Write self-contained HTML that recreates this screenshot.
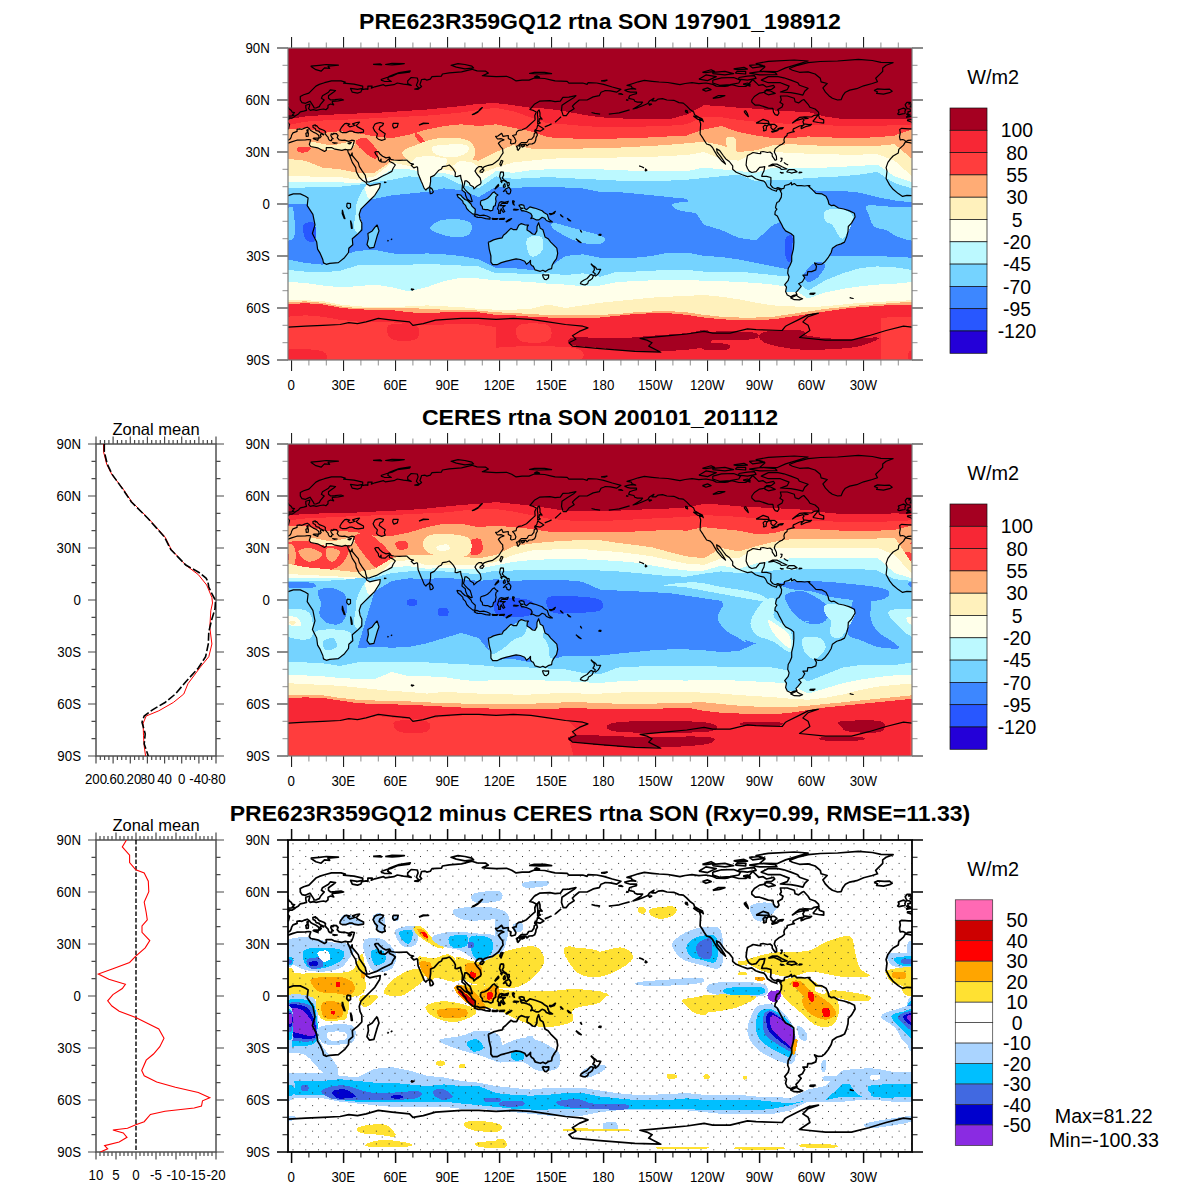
<!DOCTYPE html>
<html><head><meta charset="utf-8"><title>plot</title>
<style>html,body{margin:0;padding:0;background:#fff}svg{display:block}text{font-family:"Liberation Sans",sans-serif;fill:#000}</style></head><body>
<svg width="1200" height="1200" viewBox="0 0 1200 1200">
<rect width="1200" height="1200" fill="#fff"/>
<defs><pattern id="stip" x="292.5" y="843.3" width="12.75" height="12.75" patternUnits="userSpaceOnUse"><rect x="0" y="0" width="1.1" height="1.1" fill="#2e2e2e" shape-rendering="crispEdges"/><rect x="6.4" y="6.4" width="1.1" height="1.1" fill="#2e2e2e" shape-rendering="crispEdges"/></pattern></defs>
<clipPath id="clip0"><rect x="288" y="48" width="624" height="312"/></clipPath>
<g clip-path="url(#clip0)" shape-rendering="crispEdges">
<rect x="288" y="48" width="624" height="312" fill="#a50021"/>
<path d="M288,119.1L305.3,116.5L322.6,115.1L340,114.2L357.3,113.5L374.6,113L392,111.8L409.3,110.7L426.6,109.5L444,107.8L461.3,106.1L478.6,103.8L496,103.1L513.3,105.2L530.6,107.8L548,108.7L565.3,111.3L582.6,114.7L600,117.3L617.3,118.2L634.6,119.1L652,119.4L669.3,119.1L686.6,114.7L704,105.2L721.3,106.1L738.6,107.8L756,108.7L773.3,110.4L790.6,111.3L808,112.1L825.3,116.5L842.6,119.1L860,119.4L877.3,119.4L894.6,119.1L912,119.1L912,360L894.6,360L877.3,360L860,360L842.6,360L825.3,360L808,360L790.6,360L773.3,360L756,360L738.6,360L721.3,360L704,360L686.6,360L669.3,360L652,360L634.6,360L617.3,360L600,360L582.6,360L565.3,360L548,360L530.6,360L513.3,360L496,360L478.6,360L461.3,360L444,360L426.6,360L409.3,360L392,360L374.6,360L357.3,360L340,360L322.6,360L305.3,360L288,360Z" fill="#f72735"/>
<path d="M288,125.1L305.3,121.7L322.6,120.5L340,119.9L357.3,119.1L374.6,118.2L392,117.3L409.3,116.5L426.6,115.6L444,114.2L461.3,112.5L478.6,109.9L496,107.8L513.3,111.3L530.6,117.3L548,123.4L565.3,124.3L582.6,126L600,126.9L617.3,126.9L634.6,126.9L652,126.3L669.3,125.7L686.6,124.3L704,116.5L721.3,117.3L738.6,119.9L756,121.7L773.3,122.5L790.6,124.3L808,124.3L825.3,125.1L842.6,126L860,126.3L877.3,126L894.6,125.1L912,125.1L912,360L894.6,360L877.3,360L860,360L842.6,360L825.3,360L808,360L790.6,360L773.3,360L756,360L738.6,360L721.3,360L704,360L686.6,360L669.3,360L652,360L634.6,360L617.3,360L600,360L582.6,360L565.3,360L548,360L530.6,360L513.3,360L496,360L478.6,360L461.3,360L444,360L426.6,360L409.3,360L392,360L374.6,360L357.3,360L340,360L322.6,360L305.3,360L288,360Z" fill="#ff3d3d"/>
<path d="M496.1,290.7L880.9,290.7L880.9,360L496.1,360Z" fill="#f72735"/>
<path d="M288,301.1L305.3,299.7L322.6,301.1L340,304.2L357.3,305.9L374.6,306.3L392,306.6L409.3,308.9L426.6,309.7L444,308.9L461.3,308L478.6,308.9L496,311.5L513.3,311.8L530.6,313.2L548,314.1L565.3,314.1L582.6,314.1L600,314.1L617.3,312.3L634.6,310.6L652,309.7L669.3,309.7L686.6,311.5L704,314.1L721.3,315.8L738.6,316.7L756,316.7L773.3,315.8L790.6,313.2L808,310.6L825.3,308L842.6,305.4L860,303.7L877.3,302.5L894.6,301.4L912,301.1L912,316.7L894.6,317L877.3,318.1L860,319.3L842.6,321L825.3,323.6L808,326.2L790.6,328.8L773.3,331.4L756,332.3L738.6,332.3L721.3,331.4L704,329.7L686.6,327.1L669.3,325.3L652,325.3L634.6,326.2L617.3,327.9L600,329.7L582.6,329.7L565.3,329.7L548,329.7L530.6,328.8L513.3,327.4L496,327.1L478.6,324.5L461.3,323.6L444,324.5L426.6,325.3L409.3,324.5L392,322.2L374.6,321.9L357.3,321.5L340,319.8L322.6,316.7L305.3,315.3L288,316.7Z" fill="#f72735"/>
<path d="M388.5,325.3C392.5,323 411.6,323 416.2,325.3C420.8,327.6 420.3,336.9 416.2,339.2C412.2,341.5 396.6,341.5 392,339.2C387.3,336.9 384.4,327.6 388.5,325.3Z" fill="#f72735"/>
<path d="M288,349.6C293.7,347.9 316.8,349.3 322.6,351.3C328.4,353.4 328.4,360 322.6,361.7C316.8,363.5 293.7,363.8 288,361.7C282.2,359.7 282.2,351.3 288,349.6Z" fill="#f72735"/>
<path d="M912,349.6C917.7,347.9 940.8,349.3 946.6,351.3C952.4,353.4 952.4,360 946.6,361.7C940.8,363.5 917.7,363.8 912,361.7C906.2,359.7 906.2,351.3 912,349.6Z" fill="#f72735"/>
<path d="M518.7,325.3C523.3,322.7 543.2,322.7 548.1,325.3C553,327.9 552.8,338.3 548.1,340.9C543.5,343.5 525.3,343.5 520.4,340.9C515.5,338.3 514,327.9 518.7,325.3Z" fill="#ff3d3d"/>
<path d="M496.1,347.9C509.1,345.6 561.1,345.6 574.1,347.9C587.1,350.2 587.1,359.4 574.1,361.7C561.1,364 509.1,364 496.1,361.7C483.1,359.4 483.1,350.2 496.1,347.9Z" fill="#ff3d3d"/>
<path d="M568.8,342.7C568.8,341.4 565.9,338.2 574,337.5C582,336.7 604.3,338.6 617.3,338.3C630.3,338 640.4,336.6 652,335.7C663.5,334.9 677.4,334 686.6,333.1C695.9,332.3 704.1,328.4 707.6,330.5C711.1,332.7 715.1,342.7 707.6,346.1C700.1,349.6 674.5,350.5 662.4,351.3C650.2,352.2 645,351.9 634.6,351.3C624.2,350.8 610.1,348.9 600,347.9C589.8,346.9 579.2,346.1 574,345.3C568.8,344.4 568.8,344 568.8,342.7Z" fill="#a50021"/>
<path d="M700.7,332.3C709.3,331.1 743.9,331.1 752.5,332.3C761.1,333.4 761.1,338 752.5,339.2C743.9,340.4 709.3,340.4 700.7,339.2C692,338 692,333.4 700.7,332.3Z" fill="#a50021"/>
<path d="M704,342.7C708,341.8 724.5,343.2 728.2,344.4C732,345.6 730.5,348.7 726.5,349.6C722.4,350.5 707.7,350.8 704,349.6C700.2,348.4 699.9,343.5 704,342.7Z" fill="#a50021"/>
<path d="M762.9,332.3C769,330.2 793.5,330 801,330.5C808.5,331.1 801,334.3 808,335.7C814.9,337.2 831.1,338.9 842.6,339.2C854.2,339.5 872.7,336.9 877.3,337.5C881.9,338 875,340.9 870.4,342.7C865.7,344.4 861.1,346.7 849.6,347.9C838,349 815.2,350.5 801,349.6C786.9,348.7 771,345.6 764.6,342.7C758.3,339.8 756.8,334.3 762.9,332.3Z" fill="#a50021"/>
<path d="M288,129.5L305.3,127.7L322.6,132.9L340,131.2L357.3,132.9L374.6,136.4L392,138.1L409.3,134.7L426.6,129.5L444,126L461.3,124.3L478.6,126L496,124.3L513.3,127.7L530.6,131.2L548,137.3L565.3,138.1L582.6,139L600,139L617.3,138.5L634.6,138.1L652,137.3L669.3,136.4L686.6,135.5L704,129.5L721.3,126L738.6,132.1L756,135.5L773.3,138.1L790.6,138.1L808,136.4L825.3,137.3L842.6,137.8L860,137.8L877.3,137.3L894.6,135.5L912,129.5L912,304.5L894.6,304.9L877.3,305.9L860,307.1L842.6,308.9L825.3,311.5L808,314.1L790.6,316.7L773.3,319.3L756,320.1L738.6,320.1L721.3,319.3L704,317.5L686.6,314.9L669.3,313.2L652,313.2L634.6,314.1L617.3,315.8L600,317.5L582.6,317.5L565.3,317.5L548,317.5L530.6,316.7L513.3,315.3L496,314.9L478.6,312.3L461.3,311.5L444,312.3L426.6,313.2L409.3,312.3L392,310.1L374.6,309.7L357.3,309.4L340,307.7L322.6,304.5L305.3,303.1L288,304.5Z" fill="#ffac75"/>
<path d="M298.4,146.8C300.4,146.1 309,146.8 310.5,147.7C311.9,148.5 309,151.3 307,152C305,152.7 299.8,152.9 298.4,152C296.9,151.1 296.3,147.5 298.4,146.8Z" fill="#ff3d3d"/>
<path d="M355.6,141.6C356.1,139.6 362.2,136.4 366,138.1C369.7,139.9 376.6,148.5 378.1,152C379.5,155.5 377.2,159.2 374.6,158.9C372,158.6 365.7,153.2 362.5,150.3C359.3,147.4 355,143.6 355.6,141.6Z" fill="#ff3d3d"/>
<path d="M414.5,134.7C413.9,132.6 417.7,132.9 419.7,134.7C421.7,136.4 426,143 426.6,145.1C427.2,147.1 425.2,148.5 423.2,146.8C421.1,145.1 415.1,136.7 414.5,134.7Z" fill="#ff3d3d"/>
<path d="M288,158.9L305.3,160.7L322.6,167.6L340,169.3L357.3,172.8L374.6,172.8L392,160.7L409.3,158.9L426.6,152L444,158.9L461.3,158.9L478.6,160.7L496,152L513.3,145.1L530.6,148.5L548,148.5L565.3,148.5L582.6,148.5L600,148.2L617.3,147.7L634.6,146.8L652,145.9L669.3,144.7L686.6,143.3L704,141.6L721.3,145.1L738.6,152L756,150.3L773.3,145.1L790.6,144.2L808,145.1L825.3,145.9L842.6,146.3L860,146.3L877.3,145.9L894.6,144.2L912,158.9L912,301.9L894.6,302.8L877.3,304.2L860,305.4L842.6,307.1L825.3,308.9L808,311.5L790.6,314.1L773.3,316.7L756,317.5L738.6,317.5L721.3,316.7L704,314.9L686.6,312.3L669.3,311.1L652,311.5L634.6,312.3L617.3,314.1L600,314.9L582.6,314.9L565.3,314.9L548,314.9L530.6,314.1L513.3,312.9L496,312.3L478.6,310.6L461.3,309.7L444,309.7L426.6,308.9L409.3,308L392,308L374.6,308L357.3,308L340,306.3L322.6,302.8L305.3,301.4L288,301.9Z" fill="#fff1bc"/>
<path d="M310.5,141.6C313.7,141.3 324.4,145.1 331.3,145.1C338.2,145.1 348.6,141 352.1,141.6C355.6,142.2 355.6,147.1 352.1,148.5C348.6,150 337.9,150.6 331.3,150.3C324.6,150 315.7,148.2 312.2,146.8C308.8,145.4 307.3,141.9 310.5,141.6Z" fill="#fff1bc"/>
<path d="M402.4,152C403.7,149 412.8,146.4 418,144.2C423.2,142 427.5,140.1 433.6,139C439.6,137.9 448.3,137.3 454.4,137.7C460.4,138.1 466.5,139.2 470,141.6C473.4,144 475.2,148.5 475.2,152C475.2,155.5 473.4,160.2 470,162.4C466.5,164.6 462.2,164.6 454.4,165C446.6,165.4 430.5,165.4 423.2,165C415.8,164.6 413.6,164.6 410.2,162.4C406.7,160.2 401.1,155 402.4,152Z" fill="#fff1bc"/>
<path d="M726.5,138.1C727.6,136.1 733.7,135.8 735.2,138.1C736.6,140.4 736.3,150 735.2,152C734,154 729.7,152.6 728.2,150.3C726.8,148 725.3,140.2 726.5,138.1Z" fill="#fff1bc"/>
<path d="M288,176.3L305.3,176.3L322.6,177.1L340,177.1L357.3,179.7L374.6,176.3L392,162.4L409.3,165.9L426.6,169.3L444,169.3L461.3,172.8L478.6,174.5L496,167.6L513.3,162.4L530.6,160.7L548,158.9L565.3,158.1L582.6,158.1L600,158.1L617.3,157.5L634.6,157.2L652,156.9L669.3,155.8L686.6,155.1L704,152L721.3,158.9L738.6,160.7L756,152L773.3,152L790.6,152.9L808,153.7L825.3,154.1L842.6,154.6L860,154.6L877.3,154.1L894.6,160.7L912,176.3L912,300.2L894.6,301.1L877.3,301.9L860,302.8L842.6,304.5L825.3,306.3L808,307.1L790.6,306.3L773.3,305.4L756,302.8L738.6,299.3L721.3,296.7L704,295L686.6,295.9L669.3,296.7L652,297.6L634.6,299.3L617.3,301.1L600,302.8L582.6,305.4L565.3,308L548,304.5L530.6,308.9L513.3,309.7L496,309.7L478.6,308.9L461.3,307.1L444,306.3L426.6,305.4L409.3,306.3L392,307.1L374.6,307.1L357.3,306.3L340,304.5L322.6,301.1L305.3,300.2L288,300.2Z" fill="#ffffea"/>
<path d="M433.6,146.3C438.3,144.6 459.1,143.8 464.8,144.7C470.4,145.7 469.1,149.9 467.4,152C465.6,154.1 459.6,156.8 454.4,157.2C449.2,157.6 439.6,156.4 436.2,154.6C432.7,152.8 428.8,147.9 433.6,146.3Z" fill="#ffffea"/>
<path d="M288,182.3L305.3,181.5L322.6,182.3L340,182.3L357.3,183.2L374.6,179.7L392,169.3L409.3,169.3L426.6,172.8L444,172.8L461.3,178L478.6,183.2L496,171.1L513.3,172.8L530.6,170.2L548,169.3L565.3,169.3L582.6,169.3L600,169.3L617.3,170.2L634.6,170.7L652,171.1L669.3,171.4L686.6,171.1L704,167.6L721.3,169.3L738.6,171.1L756,172.8L773.3,167.6L790.6,167.6L808,167.6L825.3,167.6L842.6,166.7L860,165.9L877.3,164.5L894.6,176.3L912,182.3L912,282L894.6,283.7L877.3,284.6L860,286.3L842.6,288.9L825.3,292.4L808,298.5L790.6,287.2L773.3,284.6L756,282.9L738.6,282L721.3,281.1L704,280.6L686.6,280.3L669.3,280.3L652,280.3L634.6,281.1L617.3,282L600,285.5L582.6,286.3L565.3,284.6L548,283.7L530.6,282L513.3,281.1L496,280.3L478.6,278.5L461.3,277.7L444,281.1L426.6,287.2L409.3,291.5L392,287.2L374.6,284.6L357.3,286.3L340,287.2L322.6,285.5L305.3,282.9L288,282Z" fill="#bcf9ff"/>
<path d="M288,188.4L305.3,187.5L322.6,186.7L340,186.7L357.3,184.9L374.6,182.3L392,179.7L409.3,176.3L426.6,178L444,176.3L461.3,184.9L478.6,188.4L496,176.3L513.3,178.9L530.6,178L548,177.1L565.3,178L582.6,178.9L600,179.7L617.3,180.6L634.6,180.6L652,180.6L669.3,180.6L686.6,179.7L704,178L721.3,176.3L738.6,174.5L756,181.5L773.3,179.7L790.6,179.7L808,178L825.3,177.1L842.6,176.3L860,174.5L877.3,171.9L894.6,183.2L912,188.4L912,269.9L894.6,267.3L877.3,266.4L860,268.1L842.6,273.3L825.3,280.3L808,290.7L790.6,276.8L773.3,275.1L756,273.3L738.6,271.6L721.3,271.6L704,271.6L686.6,269.9L669.3,269.9L652,270.7L634.6,271.6L617.3,271.6L600,276.8L582.6,273.3L565.3,275.1L548,273.3L530.6,274.2L513.3,273.3L496,273.3L478.6,266.4L461.3,265.5L444,264.7L426.6,263.8L409.3,264.7L392,264.7L374.6,264.7L357.3,265.5L340,270.7L322.6,272.5L305.3,271.6L288,269.9Z" fill="#75d3ff"/>
<path d="M288,204L305.3,204L322.6,200.5L340,198.8L357.3,197.1L374.6,198.8L392,195.3L409.3,193.6L426.6,191.9L444,188.4L461.3,190.1L478.6,197.1L496,186.7L513.3,188.4L530.6,186.7L548,186.7L565.3,187.5L582.6,188.4L600,191.9L617.3,191.9L634.6,193.6L652,195.3L669.3,197.1L686.6,198.8L704,224.8L721.3,230L738.6,237.8L756,240.4L773.3,224.8L790.6,217.9L808,190.1L825.3,191L842.6,191L860,192.7L877.3,197.1L894.6,200.5L912,202.3L912,257.7L894.6,256.9L877.3,256L860,256L842.6,256L825.3,256L808,276.8L790.6,269.9L773.3,266.4L756,262.9L738.6,259.5L721.3,256.9L704,256L686.6,252.5L669.3,252.5L652,256L634.6,257.7L617.3,257.7L600,257.7L582.6,254.3L565.3,256L548,268.1L530.6,269.9L513.3,268.1L496,268.1L478.6,259.5L461.3,256L444,254.3L426.6,253.4L409.3,254.3L392,253.4L374.6,249.9L357.3,250.8L340,256L322.6,264.7L305.3,262.9L288,259.5Z" fill="#3d87ff"/>
<path d="M409.5,163.3L417.3,167.6L418.1,174.5L420.7,181.5L424.2,188.4L425.9,190L428.5,187.9L430.6,181.5L430.6,177.1L434.3,175.4L438.9,170.2L442.4,166.7L445.9,165.9L447.6,158.9L430.3,155.5L416.4,157.2Z" fill="#ffffea"/>
<path d="M452.8,165.9L459.7,174.5L462.3,186.7L464.9,180.6L470.1,184.9L473.6,188.4L477.1,185.8L480.5,183.2L479.7,177.1L475.3,171.1L478.8,166.7L471.9,162.4L459.7,160.7Z" fill="#ffffea"/>
<path d="M867.1,205.7C870.5,204.4 882.1,206.3 889.6,206.6C897.1,206.9 907.5,207 912.1,207.5C916.8,207.9 916.5,204 917.3,209.2C918.2,214.4 920.5,234 917.3,238.7C914.2,243.3 903.5,238.4 898.3,236.9C893.1,235.5 890.2,231.7 886.1,230C882.1,228.3 876.9,229.1 874,226.5C871.1,223.9 870,217.9 868.8,214.4C867.6,210.9 863.6,207 867.1,205.7Z" fill="#75d3ff"/>
<path d="M243.1,205.7C246.5,204.4 258.1,206.3 265.6,206.6C273.1,206.9 283.5,207 288.1,207.5C292.8,207.9 292.5,204 293.3,209.2C294.2,214.4 296.5,234 293.3,238.7C290.2,243.3 279.5,238.4 274.3,236.9C269.1,235.5 266.2,231.7 262.1,230C258.1,228.3 252.9,229.1 250,226.5C247.1,223.9 246,217.9 244.8,214.4C243.6,210.9 239.6,207 243.1,205.7Z" fill="#75d3ff"/>
<path d="M674.7,203.1C679.3,202.1 697.5,200.7 702.4,202.3C707.3,203.9 706.7,211.1 704.1,212.7C701.5,214.3 691.7,212.5 686.8,211.8C681.9,211.1 676.7,209.8 674.7,208.3C672.6,206.9 670,204.1 674.7,203.1Z" fill="#75d3ff"/>
<path d="M307.2,197.1L307.2,205.7L312.9,214.4L315,224.8L312.4,233.5L316.7,242.1L317.6,249.1L320.2,253.4L322.8,259.5L323.5,262.9L326.3,264.3L329.7,263.3L338.4,262.6L344.5,257.7L348.5,252.5L348.8,248.2L352.8,244.7L352.3,238.7L357.5,234.3L361.8,230L361.8,223.1L360.1,219.6L359.2,214.4L360.9,209.2L364.4,205.7L369.6,200.5L374.8,195.3L367.9,191.9L352.3,191.9L326.3,191.9L307.2,195.3Z" fill="#75d3ff"/>
<path d="M360.9,209.2C361.8,207.8 363,207.2 364.4,205.7C365.8,204.3 367.9,202.3 369.6,200.5C371.3,198.8 373.1,197.5 374.8,195.3C376.5,193.2 378.7,189.5 379.7,187.5C380.6,185.6 381.2,184 380.3,183.5C379.5,183.1 376.6,184.2 374.8,184.6C373,185 371,185.9 369.6,185.8C368.2,185.7 367.8,183.3 366.7,184.1C365.5,184.8 364.1,187.7 362.7,190.1C361.3,192.6 359.5,195.9 358.3,198.8C357.2,201.7 356.2,204.9 355.7,207.5C355.3,210.1 356,211.5 355.7,214.4C355.4,217.3 354,221.9 354,224.8C354,227.7 354.9,230.6 355.7,231.7C356.6,232.9 358.2,233.2 359.2,231.7C360.2,230.3 361.8,226 361.8,223.1C361.8,220.2 359.3,216.7 359.2,214.4C359.1,212.1 360.1,210.6 360.9,209.2Z" fill="#bcf9ff"/>
<path d="M367,184.9C368.6,184.4 372.6,185.1 374.8,184.9C377,184.8 379.3,183.6 380,184.1C380.7,184.5 380,185.7 379.1,187.5C378.3,189.4 376.4,193.5 374.8,195.3C373.2,197.2 371,199.1 369.6,198.8C368.2,198.5 366.9,195.3 366.1,193.6C365.4,191.9 365.1,189.8 365.3,188.4C365.4,187 365.4,185.5 367,184.9Z" fill="#ffffea"/>
<path d="M303.6,224.8C305,222.2 311.9,221.6 314,223.1C316,224.5 315.7,230.3 315.7,233.5C315.7,236.6 315.7,241.3 314,242.1C312.2,243 307,241.6 305.3,238.7C303.6,235.8 302.1,227.4 303.6,224.8Z" fill="#2857ff"/>
<path d="M377.1,224.8L379,230.9L377.4,235.2L373.9,247.3L369.6,248.2L367,244.7L368.4,238.7L367.9,233.5L372.2,230.9L374.8,227.4L377.1,224.8Z" fill="#75d3ff"/>
<path d="M430.1,228.3C430.4,226.1 435.3,221.9 440.5,220.5C445.7,219 456.1,218.9 461.3,219.6C466.5,220.3 470.5,222.2 471.7,224.8C472.8,227.4 471.4,233.2 468.2,235.2C465,237.2 457.5,237.2 452.6,236.9C447.7,236.6 442.5,234.9 438.8,233.5C435,232 429.8,230.4 430.1,228.3Z" fill="#75d3ff"/>
<path d="M488.3,242.1L489.2,249.1L490.9,256L490.9,262.1L492.7,264.7L497,264.7L501.3,262.6L506.5,261.2L511.7,259.8L516.1,258.8L520.4,259.5L524.7,261.2L526.5,264.3L529.1,262.1L530.5,260.5L530.5,263.8L531.7,265.5L533.4,266.4L535.1,269.9L540.3,271.3L542.9,270.2L545.5,271.6L548.1,269.7L551.6,268.7L552.1,265.5L553.9,262.1L556.5,258.6L557.7,253.4L556.8,248.2L553.3,244.7L550.7,242.1L548.1,238.7L545,236.9L543.8,232.6L542.9,229.7L540.3,228.3L538.6,222.7L537,226.5L536.9,230.9L535.1,234.3L532.5,234L529.9,231.7L527,230L527.3,226.5L528.5,225.1L524.7,224.8L521.3,223.6L518.7,225.3L516.6,229.7L513.5,229.7L510.9,228.3L508.3,230.9L505.7,233.5L503.4,235.2L502.2,237.8L497.9,238.7L493.5,239.9L490.1,241.6L488.3,242.1Z" fill="#75d3ff"/>
<path d="M527.2,238.7C529.2,235.8 538.4,235.2 541,236.9C543.6,238.7 543.6,245.9 542.8,249.1C541.9,252.2 538.1,255.1 535.8,256C533.5,256.9 530.3,257.2 528.9,254.3C527.4,251.4 525.1,241.6 527.2,238.7Z" fill="#bcf9ff"/>
<path d="M518.7,205.4L521.3,204.7L523.9,205.4L524.4,208.3L526.5,209.7L529.9,206.9L533.4,207.8L536,208.5L542.1,210.8L544.3,212.7L547.3,214.4L547.8,216.1L549,219.6L552.5,221.9L549.9,221.9L546.4,220.5L544.7,218.2L542.1,217.3L540.3,218.7L538.6,219.9L536,219.8L532.5,218L530.8,218.6L532.2,216.1L530.8,213.5L527,211.8L523,210.6L521.8,210.9L520.4,209L523,208.3L520.9,207.8L518.7,205.4Z" fill="#75d3ff"/>
<path d="M480.5,201.4L481.6,200.5L484.5,199.7L487.5,198.3L490.1,195.9L492.7,192.7L494.4,191.9L495.6,193.6L497.9,195L496.1,196.4L495.6,198.8L496.1,201.4L495.6,203.1L495.3,205.4L493.5,206.6L492.7,210.2L490.4,210.9L487.5,209.5L485.2,209.7L482.6,209L482.3,206.6L480.5,204.5L480.5,201.4Z" fill="#75d3ff"/>
<path d="M456.8,194.3L460.6,195L462,196.7L464.9,199.5L467.5,200.5L471,204L471.9,206.1L475.3,209.2L475,214.1L472.9,214.1L468.9,210.9L466.7,208.5L465.5,205.4L463.2,203.1L462.7,201.1L460.6,199.1L458,197.1L456.8,194.3Z" fill="#75d3ff"/>
<path d="M553.2,223.1C556.3,222.8 565.6,226 574,228.3C582.3,230.6 599.1,234.3 603.4,236.9C607.8,239.5 604,243 600,243.9C595.9,244.7 586.7,244.4 579.2,242.1C571.6,239.8 559.2,233.2 554.9,230C550.6,226.8 550,223.4 553.2,223.1Z" fill="#75d3ff"/>
<path d="M781.3,188.9L783.9,188.4L784.7,185.5L789.1,184.4L791.3,182.5L791.7,184.9L794.3,183.5L796.9,185.6L801.2,185.6L804.7,186L808.1,185.5L809.9,187.5L812.5,189.8L815.9,193.3L822,193.9L826,196.2L828.1,200.5L828.9,204L831.5,205.7L834.1,205.2L838.5,208L843.7,209L848.9,210.6L854.4,213.2L855.1,217L851.5,223.1L848.3,226.5L848,231.7L846.6,236.9L844.5,242.1L841.1,243.9L836.7,245.3L832.4,248.2L831.2,252.5L828.1,257.7L824.6,262.1L822,264.1L817.7,264.3L814.5,262.9L816.5,266.4L815.8,269.9L811.6,271.6L807.8,271.6L807.3,275.1L802.9,275.1L804.7,277.7L802.4,281.7L798.6,283.7L801.2,286.3L797.7,290.7L796,292.4L785.6,291.5L786.5,287.2L784.7,284.6L788.2,280.3L789.1,276.8L787.7,273.3L788.2,268.5L789.9,265.5L791.7,261.2L791.7,256L793.4,249.1L793.9,242.1L793.7,235.9L790.8,233.5L785.6,230.9L783.3,227.9L781.8,224.8L779,219.6L777.3,216.1L774.9,214.4L775.2,211.5L776.9,209.2L775.5,207.8L776.1,204.9L776.9,202.6L779,201.4L781.3,197.1L781.6,193.6L780.6,191.5Z" fill="#75d3ff"/>
<path d="M825.3,210.9C828.2,208.9 838,208 842.6,209.2C847.2,210.4 853,213 853,217.9C853,222.8 846.1,237.5 842.6,238.7C839.2,239.8 835.1,227.7 832.2,224.8C829.3,221.9 826.4,223.6 825.3,221.3C824.1,219 822.4,213 825.3,210.9Z" fill="#bcf9ff"/>
<path d="M785.4,238.7C786.6,235.5 791.5,233.2 792.4,236.9C793.2,240.7 791.8,258 790.6,261.2C789.5,264.4 786.3,259.8 785.4,256C784.6,252.2 784.3,241.8 785.4,238.7Z" fill="#2857ff"/>
<path d="M804.5,273.3C805.6,270.2 811.4,264.4 814.9,262.9C818.4,261.5 824.7,262.4 825.3,264.7C825.9,267 821.2,273.9 818.4,276.8C815.5,279.7 810.3,282.6 808,282C805.6,281.4 803.3,276.5 804.5,273.3Z" fill="#3d87ff"/>
</g>
<g clip-path="url(#clip0)" fill="none" stroke="#000" stroke-width="1.2" stroke-linejoin="round">
<path d="M281.4,141.9L288.1,143.2L291.6,141.9L296.8,140.2L305.5,139.9L308.9,139.5L310.7,139.9L309.3,144.5L310.7,146.5L317.6,147.8L324.5,151.5L326.3,150.3L326.3,147.7L331.5,147.5L334.9,149.2L341.9,150.3L345.3,149.4L347.6,149.9L348.1,152.2L349.7,155.5L352.3,162.4L355.7,167.6L356.3,171.6L359.2,177.1L362.7,180.6L366.1,182.5L366.7,184.1L369.6,185.8L374.8,184.6L380.3,183.5L379.7,187.5L374.8,195.3L369.6,200.5L364.4,205.7L360.9,209.2L359.2,214.4L360.1,219.6L361.8,223.1L361.8,230L357.5,234.3L352.3,238.7L352.8,244.7L348.8,248.2L348.5,252.5L344.5,257.7L338.4,262.6L329.7,263.3L326.3,264.3L323.5,262.9L322.8,259.5L320.2,253.4L317.6,249.1L316.7,242.1L312.4,233.5L315,224.8L312.9,214.4L307.2,205.7L308.1,197.9L305.5,196.2L300.3,193.9L293.3,193.9L288.1,195.7L282.9,195.3L278.6,196.4L274.3,193.6L269.1,189.3L265.6,184.9L262.1,178.5L263,171.1L262.1,167.6L263.9,162.4L266.5,158.9L269.1,156L274.3,152.9L274.8,149.4L279.5,145.1L281.4,141.9 M377.1,224.8L379,230.9L377.4,235.2L373.9,247.3L369.6,248.2L367,244.7L368.4,238.7L367.9,233.5L372.2,230.9L374.8,227.4L377.1,224.8 M281.9,141.6L280.5,140.2L278.8,139.5L276.2,139.9L275.5,136.9L276.3,132.9L275.7,129.5L277.7,128.3L284.7,128.8L288.5,128.8L289.5,124.3L287.3,122L283.5,120.8L283.6,119.8L288.8,119.6L288.5,117.9L291.9,118.2L294.4,116.8L295.9,115.4L298.5,113.9L300.3,111.8L303.7,111.1L306.5,110.4L305.8,107.6L305.8,105.2L309.8,104L309.5,106.1L308.6,108.7L310.3,110.4L313.3,109.7L316.2,110.4L320.2,109.5L323.7,109L325.9,109.7L328,107.8L328,105.2L330.6,104L333.7,104.9L332.3,102.6L332.3,101.4L338.4,100.9L343.6,100L341,99L334.9,99.7L330.6,100L328.5,98.3L328.5,95.7L334.1,91.7L335.5,90.5L330.3,89.9L328.5,92.2L322.5,95.7L321.4,98.3L324.2,100L320.5,104.3L319.3,106.6L316.4,107.8L314.1,108L313.6,106.6L311,102.6L310,101.2L308.1,102.1L305.5,103.3L302,102.6L300.3,100L300.3,96.5L303.7,94.8L308.9,93.1L312.4,89.6L315.9,86.1L319.3,84.4L324.5,82.7L331.5,80.9L336.7,80.9L341,80.9L345.3,82.1L343.6,83.2L348.8,83.7L354,84.1L362.7,86.1L362.7,88.4L357.5,89.4L350.5,88.4L352.3,92.2L357.5,93.1L360.9,92L361.8,89.6L366.1,88.9L367.9,89.4L367.9,86.1L372.2,86.1L371.3,88.2L374.8,86.8L383.5,84.7L385.2,85.8L393.9,84.7L397.3,83L403.4,84.1L407.7,84.7L411.2,85.3L407.7,83.5L407.7,80.9L411.2,77.5L417.3,78L418.1,80.9L416.4,85.3L419,88.2L414.7,89.1L418.1,89.3L421.6,86.5L419.9,84.7L421.6,79.5L425.1,79.2L426.8,80.1L430.3,79.2L432,76.6L441.5,76.1L442.4,74L449.3,72.8L461.5,71.9L471.9,69.3L477.1,70.9L485.7,71.2L488.3,73.1L482.3,75.7L487.5,76.1L496.1,76.6L506.5,76.3L511.7,78.3L516.1,80.9L522.1,80.1L529.1,80.1L534.3,78L544.7,78.5L551.6,80.1L555.1,80.9L567.2,81.3L568.9,83.2L582.8,83L587.1,84.4L588,82.7L596.7,83L603.6,84.4L612.3,87L620.9,89.3L616.6,92.2L610.5,90.8L605.3,90.5L603.6,91.3L601,92.2L599.3,95.7L593.2,96.9L587.1,100L579.3,100L575,103.5L572.4,106.1L574.1,108.7L568.9,112.1L566.3,115.6L563.2,115.6L561.5,110.4L562,105.2L567.2,101.7L574.1,97.4L575.9,95.7L568.9,97.1L562.9,97.4L560.3,101.2L555.1,101.7L549.9,100.7L539.5,101.2L534.3,104.3L529.9,109.5L533.4,110.4L536.3,112.1L534.8,115.6L535.1,119.9L530.8,123.7L526.5,127.7L522.1,129.8L518.7,130.3L516.6,132.1L516.1,134.7L512.6,135.5L514.3,137.3L515.9,140.7L515.2,143L511.7,144L510.5,143.3L511,139.9L508.3,138.5L508.3,135.5L503.1,136.4L501.7,133.3L497.9,136.1L495.6,136.4L497.5,139L501.3,138.7L503.9,139.9L500.5,141.3L498.4,143.3L500.8,146.8L502.7,148.9L502.7,150.6L503.1,152.9L501.3,155.5L498.7,159.8L495.3,162.4L492.7,164.3L488.3,165.3L484,166.9L482.6,168.8L481.7,166.7L478.8,166.6L476.5,168.5L475,171.1L477.1,174.5L480.2,178L481.1,182.3L480.5,184.1L477.1,186L473.9,188.9L473.3,186.7L470.1,184.9L469.3,182.9L466.5,180.8L464.9,180.8L464.4,184.1L463.5,187.5L465.5,190.1L467.5,192.2L470.1,194.5L471,197.1L472.2,201.4L471,201.7L467.2,199.1L465.6,195.3L465.3,192.7L462,190.1L462.3,186.7L462.5,183.2L460.9,178L460.6,175.4L457,176.6L455.1,176.3L455.4,172.8L453.7,169.7L451.1,166.7L449.3,165L445.9,166.2L442.4,166.7L441.5,169L438.9,170.2L434.3,175.4L430.6,177.1L430.6,181.5L429.9,186.1L428.5,187.9L427.1,188.6L425.9,190L424.2,188.4L422.5,184.1L421.3,181.5L419.9,178L418.1,173.7L417.8,170.2L417.6,167.6L416.9,166.7L413.8,167.9L411.2,165.3L413.5,164.1L410.3,163.3L407.7,161L406.9,160L399.1,160.3L393.9,160L390.7,159.3L389.7,157.2L386.1,157.9L382.6,156.2L379.7,153.7L378.3,151.7L376.2,151.5L374.8,152.3L376,154.6L378.3,157.7L378.6,159.8L380,161.4L381,159.1L381.2,161.9L385.2,162.1L389.2,158.6L389.5,161.5L393.2,163.1L395.3,165L393,168.5L391.8,171.4L387.5,173.7L382.1,176.3L376.5,179.4L369.6,181.8L367,182L365.8,178.3L365.3,175.4L362.3,171.1L359.4,166.7L358.3,162.7L356.1,160.1L352.3,155.5L352.1,152.9L350.9,155.8L349.8,154.9L348.1,152.2L347.6,149.9L350.9,149.7L352.1,147.7L353.1,145.2L354,141.9L354.3,140.6L351.6,140.2L348.8,141.4L344.6,140.2L342,140.4L339.1,139.9L337.2,137.6L338.1,135.5L337,134.5L336.7,133.6L333.2,133.3L332.9,134.7L331.3,133.8L330.8,135.5L332,137.8L333.2,138.7L331.5,139.3L331.6,140.7L330.3,140.7L329.2,140L328.3,138.5L328.2,137.4L326.8,135.9L325.2,133.8L325.4,131.5L323.7,130.3L319.3,128.6L317.9,127.2L316.7,125.7L315.2,125.8L315.3,124.8L312.9,125.5L313.1,127.4L315.2,128.6L316.2,130.7L319.3,131.4L319.3,132.2L323.7,134.3L323.5,135L321.1,133.8L320.2,135.2L321.2,136.4L320.2,137.6L318.8,138.1L319,136.4L318.1,134.7L315.9,133.3L313.3,132.1L310.7,130.5L309.3,128.6L307.2,127.2L304.6,128.1L302,129.3L299.7,128.8L297,129.3L297.1,131.4L293,132.9L291.6,135.2L291.3,136.7L290.4,138.7L288.1,140.2L283.8,140.4L281.9,141.6 M341.9,132.6L346.2,132.6L349.3,131.2L352.3,131.2L354.9,132.4L358.3,132.9L363.5,132.1L363.5,130L360.4,128.4L357.5,126.9L356.3,125.5L358,123.9L359.5,122.2L356.6,122.5L352.6,123.9L354.9,125.3L353.1,126L349.8,126.9L347.9,125.3L349.8,124.1L346.7,123.4L344.8,123.7L343.1,125.5L341.3,127.7L340,130L340.1,131.4L341.9,132.6 M0.4,90.3L3.9,89.3L7.3,88.7L11.7,89.1L8.2,87.9L7.3,86.1L3,85.4L9.1,83.5L14.3,81.8L20.3,80.4L28.1,81.3L35.1,82L43.7,82.5L48.9,83.4L55.9,84.6L61.1,83.5L68,82.7L74.9,83.7L81.9,83L88.8,84.4L92.3,86.1L100.9,86.3L104.4,85.8L107.9,84.7L114.8,86.5L121.7,86.5L123.5,85.3L126.1,86.1L125.2,83.5L128.7,79.5L132.1,82.7L134.7,85.3L139.1,84.7L142.5,87L149.5,85.3L150.7,87L147.7,89.3L142.5,89.6L140.8,92.2L135.6,93.1L130.4,96.5L127.8,100L127.8,102.1L131.3,105.2L135.6,105.2L144.3,108.1L148.9,108.3L149.5,112.1L151.2,114.7L153.5,115.3L155,113L153.8,109.5L158.1,106.9L159,104.3L155.9,102.3L157.3,100L156.4,96L163.3,96L170.3,98.3L171.1,101.7L174.6,102.9L178.1,100.3L179.8,99.5L184.1,104.3L185.9,107.3L191.1,109L194.5,112.1L194.9,114.7L190.2,115.3L187.6,117L180.7,116.8L175.8,117.3L171.1,120.8L168.5,122.9L172.9,120.3L178.9,118.7L180.1,119.9L178.9,121.7L179.8,123.9L185,124.6L187.6,124.3L185.9,125.7L181.5,126.7L177.2,128.6L177.2,126.9L179.8,125.1L175.5,126L172,127.7L169.4,128.9L168.9,130.3L170.3,131.7L167.7,132.2L163.3,133.5L163,135.5L160.7,137.3L159.9,139.9L160.4,142.3L158.1,144.2L155.5,145.4L151.2,148.9L150.3,152L152.4,156.3L152.6,159.8L151.2,160.3L148.3,156.2L148.1,153.7L146,152L143.4,152.5L139.1,151.5L136.5,152L136.8,153.7L133.9,153.4L129,152.5L126.9,153.7L123.5,155.5L122.6,159.8L122.1,165L123.5,168.5L125.2,171.1L127.8,172.5L132.1,171.6L134.7,168.5L135.6,167.3L140.8,166.7L139.9,171.1L138.5,173.7L137.7,176.3L142.5,176.4L146.9,177.5L146.9,182.3L146.5,184.9L148.6,187.5L151.2,188.7L153.8,187.5L157.3,188.9L156.6,191.5L155.5,189.3L153.3,188.9L152.4,191.3L148.1,189.8L146.5,188.7L143.4,186.7L141.7,183.2L139.9,181.1L135.6,180.1L131.6,178.7L127.8,175.9L123.5,176.6L118.3,174.7L112.2,172.3L108.7,169.3L108.7,165.9L105.3,161.5L101.8,158.9L99.2,155.5L95.7,150.6L92.6,148.9L93.1,152L96.6,156.3L100.1,161.5L101.5,164.1L97.5,160.7L93.1,155.5L90.5,151.1L88.5,147.5L86.2,145.1L82.6,144L80.1,140.2L78.4,137.3L76.1,134L76.3,129.5L76.7,123.9L75.5,120.1L78.4,120.5L79.3,121.7L78.4,119.1L74.9,117.3L70.6,114.7L69.7,112.1L65.7,109.2L62.8,106.1L59.3,103.1L55,102.6L49.8,100.3L42.9,100L38.5,98.6L34.2,99.1L31.6,100.9L28.1,100.9L29.9,98.3L25.5,100.9L23.8,103.5L18.6,105.7L13.4,107.8L9.1,109L12.5,106.9L16.9,104.3L18.6,102.1L13.4,102.1L10.8,101.2L9.9,99.5L4.7,98.3L5.6,95.7L9.1,94.5L12.5,93.6L12.5,92L6.5,92.2L3,91.3L0.4,90.3 M157.3,188.9L159.9,188.4L160.7,185.5L165.1,184.4L167.3,182.5L167.7,184.9L170.3,183.5L172.9,185.6L177.2,185.6L180.7,186L184.1,185.5L185.9,187.5L188.5,189.8L191.9,193.3L198,193.9L202,196.2L204.1,200.5L204.9,204L207.5,205.7L210.1,205.2L214.5,208L219.7,209L224.9,210.6L230.4,213.2L231.1,217L227.5,223.1L224.3,226.5L224,231.7L222.6,236.9L220.5,242.1L217.1,243.9L212.7,245.3L208.4,248.2L207.2,252.5L204.1,257.7L200.6,262.1L198,264.1L193.7,264.3L190.5,262.9L192.5,266.4L191.8,269.9L187.6,271.6L183.8,271.6L183.3,275.1L178.9,275.1L180.7,277.7L178.4,281.7L174.6,283.7L177.2,286.3L173.7,290.7L172,292.4L173,294.7L169.4,295.3L166.8,296.7L163.3,295L161.6,291.5L162.5,287.2L160.7,284.6L164.2,280.3L165.1,276.8L163.7,273.3L164.2,268.5L165.9,265.5L167.7,261.2L167.7,256L169.4,249.1L169.9,242.1L169.7,235.9L166.8,233.5L161.6,230.9L159.3,227.9L157.8,224.8L155,219.6L153.3,216.1L150.9,214.4L151.2,211.5L152.9,209.2L151.5,207.8L152.1,204.9L152.9,202.6L155,201.4L157.3,197.1L157.6,193.6L156.6,191.5 M172.7,295.2L169.4,296.7L166.8,297.9L170.3,299.7L175.5,299.9L178.6,298.8L175.5,297.6L173.2,295.9L172.7,295.2 M185.9,293.3L191.1,293.1L189.3,294.5L185.9,294.1L185.9,293.3 M225.7,297.6L229.2,298.5L227.5,298.1L225.7,297.6 M165.1,68.5L173.7,65.3L184.1,62.7L196.3,61.5L213.6,61L234.4,59.3L248.3,60.5L256.9,62.4L269.1,62.7L262.1,65.3L258.7,67.9L258.7,71.4L255.2,74.9L251.7,78.3L253.5,81.8L248.3,83.5L239.6,85.8L232.7,88.7L225.7,90.1L221.4,92.2L218.8,95.7L217.1,99.7L213.6,100L208.4,98.3L204.9,95.7L201.5,92.2L198.9,87.9L203.2,83.5L197.1,81.8L196.3,78.3L191.1,74L184.1,71.9L175.5,72.3L168.5,70.2L165.1,68.5 M250,90.5L253.5,88.9L260.4,89.3L265.6,89.1L268.2,91.3L265.6,92.7L259.5,94.1L252.6,93.4L253.5,91.7L250,90.5 M282.1,117.3L286.4,116.3L291.6,115.9L294,115.3L292.5,114.7L294.5,112.7L292.1,112.1L291.3,110.4L289,108.7L288.1,106.9L286.1,106.9L288.1,104L284.7,104L286.4,102.4L282.9,102.4L281.2,104.7L282.1,106.9L283.3,108.7L286.1,109L286.4,111.4L283.8,111.8L284.3,113.3L282.6,114.2L286.1,114.9L283.8,115.6L282.1,117.3 M281.2,113.5L280.9,111.3L281.9,109.4L279.5,108.1L276.9,109L274.3,110.1L275.1,112.1L273.7,113.9L275.1,114.7L278.6,113.9L281.2,113.5 M488.3,242.1L489.2,249.1L490.9,256L490.9,262.1L492.7,264.7L497,264.7L501.3,262.6L506.5,261.2L511.7,259.8L516.1,258.8L520.4,259.5L524.7,261.2L526.5,264.3L529.1,262.1L530.5,260.5L530.5,263.8L531.7,265.5L533.4,266.4L535.1,269.9L540.3,271.3L542.9,270.2L545.5,271.6L548.1,269.7L551.6,268.7L552.1,265.5L553.9,262.1L556.5,258.6L557.7,253.4L556.8,248.2L553.3,244.7L550.7,242.1L548.1,238.7L545,236.9L543.8,232.6L542.9,229.7L540.3,228.3L538.6,222.7L537,226.5L536.9,230.9L535.1,234.3L532.5,234L529.9,231.7L527,230L527.3,226.5L528.5,225.1L524.7,224.8L521.3,223.6L518.7,225.3L516.6,229.7L513.5,229.7L510.9,228.3L508.3,230.9L505.7,233.5L503.4,235.2L502.2,237.8L497.9,238.7L493.5,239.9L490.1,241.6L488.3,242.1 M542.4,274.5L545.5,275.2L548.7,274.9L548.5,277.7L546.4,279.6L544.7,279.4L543.3,277.3L542.4,274.5 M590.9,263.6L593.7,266.1L595.8,267.6L596.7,269.2L600.7,269.3L599.3,272.1L598.2,273.9L595.5,276.1L594.6,275.6L595.3,273.7L592.9,272.1L594.4,269.9L594.1,267.3L591.8,265L590.9,263.6 M590.9,274.4L593.5,275.6L592.3,278.5L590.6,279.9L588.5,281L587.7,283.6L585.4,284.8L583.3,284.6L580.4,283.7L581.1,282L583.7,280.3L587.1,278.5L588.9,276.5L590.9,274.4 M518.7,205.4L521.3,204.7L523.9,205.4L524.4,208.3L526.5,209.7L529.9,206.9L533.4,207.8L536,208.5L542.1,210.8L544.3,212.7L547.3,214.4L547.8,216.1L549,219.6L552.5,221.9L549.9,221.9L546.4,220.5L544.7,218.2L542.1,217.3L540.3,218.7L538.6,219.9L536,219.8L532.5,218L530.8,218.6L532.2,216.1L530.8,213.5L527,211.8L523,210.6L521.8,210.9L520.4,209L523,208.3L520.9,207.8L518.7,205.4 M549,213.5L552.5,213.5L555.4,211.3L554.2,213.5L550.7,214.7L549,213.5 M560.3,214.4L562.9,217L561.1,215.8L560.3,214.4 M567.2,218.2L570.7,221L568.9,220.5L567.2,218.2 M580.4,230L581.6,232.1L580.7,231L580.4,230 M575.9,238.7L579.3,241.3L581.1,242.7L578.5,241.4L575.9,238.7 M598.9,234.3L601,234.3L600.7,235.5L598.9,235.2L598.9,234.3 M480.5,201.4L481.6,200.5L484.5,199.7L487.5,198.3L490.1,195.9L492.7,192.7L494.4,191.9L495.6,193.6L497.9,195L496.1,196.4L495.6,198.8L496.1,201.4L495.6,203.1L495.3,205.4L493.5,206.6L492.7,210.2L490.4,210.9L487.5,209.5L485.2,209.7L482.6,209L482.3,206.6L480.5,204.5L480.5,201.4 M456.8,194.3L460.6,195L462,196.7L464.9,199.5L467.5,200.5L471,204L471.9,206.1L475.3,209.2L475,214.1L472.9,214.1L468.9,210.9L466.7,208.5L465.5,205.4L463.2,203.1L462.7,201.1L460.6,199.1L458,197.1L456.8,194.3 M473.9,215.8L476.7,214.4L479.7,215.6L483.7,215.1L486.9,216L490.1,217.5L489.9,219.1L485.7,218.6L481.4,217.5L477.9,217.3L476,216.8L473.9,215.8 M491.8,218.4L494.4,218.6L497.9,218.7L497,219.4L492.7,219.4L491.8,218.4 M499.3,218.7L504.5,218.4L503.9,219.3L499.6,219.4L499.3,218.7 M505.7,221.9L508.3,219.9L511.7,218.6L510,220.1L506.5,221.9L505.7,221.9 M499.3,202.6L501,201.7L504.8,202.4L508.3,201.2L507.4,203.3L502.2,203.1L499.9,205.6L502.4,205.6L505.3,205.6L502.7,207.3L503.6,209.7L504.8,211.5L503.4,212.3L502.2,210.9L501.2,208.7L500.3,210.9L500.3,213.5L498.7,213.5L498.7,210.1L497.5,208.9L499.3,202.6 M512.6,200.5L514.3,201.4L513.5,203.1L514.3,205.2L513.1,204L512.6,202.3L512.6,200.5 M513.5,209.2L518.3,209.7L516.1,210.1L513.5,209.9L513.5,209.2 M500.6,171.9L503.4,172.1L503.6,175.4L502.2,178L503.9,179.7L506.5,181.5L506.5,182.2L503.9,180.6L501.3,180.3L500.6,178.9L499.6,176.6L500.1,174L500.6,171.9 M503.1,191.9L505.7,189.1L509,187.2L510.9,190.1L510.3,193.1L509.1,194.1L506.9,193.1L506.5,191L503.9,191L503.1,191.9 M503.1,185.8L504.8,183.7L505.3,186.7L503.9,187.5L503.1,185.8 M507.1,182.3L509.1,182.7L509.3,184.9L507.9,186.3L507.2,184.4L507.1,182.3 M494.7,189.4L498.7,185.8L498.4,184.4L496.1,187L494.7,189.4 M500.5,180.8L502,181.1L501.7,182.7L500.5,180.8 M501.3,160.3L502.9,161L501,165.9L499.8,164.1L501.3,160.3 M480,170.7L482.3,169.3L484,170L482.3,172.3L480,171.8L480,170.7 M430.1,187.2L432.3,189.3L433.4,191.9L432,193.4L430.3,193.6L429.7,190.1L430.1,187.2 M518.5,145.1L521.3,142.6L527,142.3L528.7,139.5L531.7,139.2L533.9,136.4L534.3,133.6L536.5,132.2L537.4,135L536,137.6L535.7,140.2L534.6,142.8L532.2,143.9L529.1,144L527,145.9L525.8,144.2L522.1,144.5L518.7,145.2L518.5,145.1 M516.9,145.9L519.9,145.6L520.1,147.7L518.1,150.3L517.3,149.6L517.3,147.5L516.4,146.8L516.9,145.9 M521.3,145.2L524.7,144.7L524.2,146.1L522.1,147.1L521.3,145.2 M534.8,132.1L536.3,130.3L540,131.2L543.8,128.9L542.1,127.7L537.7,125.1L537,127.7L536.5,129.1L534.8,130.3L534.8,132.1 M537.7,124.3L540.3,122.9L538.9,121.7L539.5,118.7L542.1,119.1L540,116.5L540,113L539.1,109.9L537.7,111.3L537.4,114.7L537.9,118.2L537.7,121.1L537.7,124.3 M544.7,126.9L549,125.1L551.6,123.9 M555.1,122.2L558.5,119.1L561.1,116.8 M380.9,80.1L384.3,81.3L391.3,81.5L387.8,79.2L388.7,76.6L393,74.9L399.1,72.6L410.3,70.9L409.5,72.1L397.3,73.7L392.1,76.1L386.9,77.5L381.7,79.2L380.9,80.1 M310.7,66.2L315.9,69.7L321.1,71.2L324.5,67.9L329.7,68.3L328,66.2L338.4,65.2L326.3,64.5L319.3,65.3L310.7,66.2 M373.1,64.3L381.7,64.8L380,63.8L373.1,64.3 M385.2,64.5L392.1,65L399.1,64.3L404.3,63.6L392.1,63.3L385.2,64.5 M456.3,67.1L464.9,68.8L473.6,67.9L471.9,66.2L464.9,64.5L458,63.6L451.1,65.3L456.3,67.1 M529.1,73.5L539.5,74L551.6,73.7L544.7,72.3L534.3,72.3L529.1,73.5 M534.3,76.8L539.5,77.1L536.9,75.9L534.3,76.8 M601,80.9L607.1,80.1L604.5,81.1L601,80.9 M313.3,138.1L318.5,137.8L317.8,140.4L313.3,138.8L313.3,138.1 M305.8,132.9L308.4,132.9L308.2,136.1L306.3,136.4L305.8,132.9 M306.5,130.3L308.1,129.5L307.9,132.1L306.5,130.3 M332.3,142.5L337.2,143L334.1,143.3L332.3,142.5 M347.6,143.3L351.4,142.3L350,143.9L347.6,143.3 M144.3,166.2L148.6,164.1L152.9,164.1L158.1,166.7L163,169L157.3,169.5L156.4,168.1L152.1,166.2L149.5,165.3L146,165.9L144.3,166.2 M162.6,171.9L165.1,169.5L170.3,169.7L173,171.8L170.3,172.3L167.7,173.1L165.9,172.5L162.6,171.9 M155.9,172.3L159.3,172.8L157.3,173.1L155.9,172.3 M175.1,172.1L177.9,172.3L175.1,172.8L175.1,172.1 M156.4,158.1L158.1,158.4L157.6,160.7L156.4,161.9 M159.9,162.4L161.6,163.8L164.2,165 M184.5,185.5L185.9,185.5L185.5,186.5L184.5,185.5 M188.8,121.5L194.5,114.7L195.4,118.2L199.7,119.9L199.7,123.1L194.5,122.5L188.8,121.5 M69.2,116.1L74.9,117.3L77.5,120.1L74.1,119.4L69.2,116.1 M61.1,110.4L63.1,110.7L63.7,113L61.9,112.1L61.1,110.4 M24.7,103.8L27.6,104.2L25.5,105.2L24.7,103.8 M5.6,109.9L0.4,111.3L-4.8,112.8L-10,113.5L-15.2,114.2 M600.1,114.2L594.9,113.3L591.5,112.5 M-5.7,93.9L-1.3,94.5L-3.1,93.6L-5.7,93.9 M2.1,99.7L4.2,100L3,100.3L2.1,99.7 M152.9,76.3L159.9,77.8L166.8,80.1L173.7,82.7L175.5,85.3L184.1,88.2L180.7,91.3L178.9,95.1L173.7,93.9L166.8,92.7L156.4,92L163.3,89.6L165.1,86.1L156.4,82.7L144.3,82.7L137.3,80.1L144.3,76.6L152.9,76.3 M88.8,80.1L97.5,77.8L109.6,77.5L116.5,80.1L114.8,83L106.1,84.6L95.7,85.3L88.8,83L88.8,80.1 M74.9,79.2L81.9,74.9L92.3,76.6L83.6,80.6L74.9,79.2 M135.6,71.4L152.9,71.7L161.6,67.9L184.1,61L170.3,60L144.3,61.3L132.1,63.6L140.8,67.1L135.6,71.4 M125.2,73.1L135.6,74.9L152.9,74.5L151.2,72.6L137.3,71.4L125.2,73.1 M88.8,73.7L100.9,74.9L109.6,73.7L100.9,71.4L88.8,72.3L88.8,73.7 M111.3,73.1L121.7,74L121.7,71.4L113.1,71.4L111.3,73.1 M140.8,90.5L146,90.8L151.2,93.4L144.3,94.8L140.8,93.1L140.8,90.5 M114.8,77.5L123.5,76.1L130.4,75.7L132.1,78.3L123.5,80.1L114.8,79.2L114.8,77.5 M119.1,84.1L123.5,83L126.1,84.4L121.7,84.9L119.1,84.1 M125.2,65.3L135.6,64.5L140.8,66.2L128.7,67.9L125.2,65.3 M78.4,72.3L87.1,69.7L90.5,71.4L81.9,72.6L78.4,72.3 M109.6,68.8L120,67.4L123.5,69.1L113.1,69.7L109.6,68.8 M179.8,117.5L184.1,118.5L181.5,118.7L179.8,117.5 M376.5,123.4L380,122.5L383.5,123.4L382.6,125.5L380,126.9L379.1,129.5L382.6,132.1L385.2,133.8L384.3,136.4L385.2,139.3L381.7,140.4L378.3,139.2L376.5,137.3L377.4,133.8L374.8,131.2L373.1,127.7L374.8,124.3L376.5,123.4 M393,123.4L398.2,123.4L397.3,126.9L393.9,128.1L392.7,126L393,123.4 M419,125.1L423.3,123.1L428.5,123.4L423.3,123.7L419,125.1 M471.9,114.7L475.3,113L479.7,110.4L482.3,107.5L480.5,108.7L477.9,112.1L473.6,114.4L471.9,114.7 M347.1,203.1L350.5,203.7L350.5,207.5L348.5,208.7L346.7,206.6L347.1,203.1 M342.4,209.9L343.3,213.5L345,218.7L344.1,218.4L342.2,213.5L342.4,209.9 M350.5,220.5L351.7,223.9L352.3,228.3L351.4,228.3L350.9,223.9L350.5,220.5 M132.1,123.1L136.5,120.8L139.1,119.4L144.3,121.1L145.1,123.4L140.8,123.4L135.6,123.2L132.1,123.1 M139.4,131.2L142,130.3L142.5,126.9L144.3,124.6L146,124.3L150.3,124.3L152.9,126.3L150.3,129.1L148.6,129.5L146.9,127.7L147.2,125.5L144.6,124.6L143.1,126L140.8,125.1L139.1,126.9L139.9,129.5L139.4,131.2 M147.2,131.5L151.2,130.3L154.7,129.8L152.9,130.9L148.6,132.1L147.2,131.5 M153.5,128.9L158.1,128.9L159.3,127.7L156.4,127.9L153.5,128.9 M120,111.3L121.7,113.9L124.3,116.5L123.5,113.9L121.7,110.7L120,111.3 M78.4,89.6L83.6,87.9L87.1,89.6L81.9,91.3L78.4,89.6 M88.8,98.3L94,95.7L100.9,95.7L95.7,97.4L88.8,98.3 M21.2,171.1L22.9,170.2L21.5,169L21.2,171.1 M20,167.9L17.7,166.7L15.1,165.9 M410.9,288.9L413.8,289.3L412.1,290.1L410.9,288.9 M387.5,240.4L388.3,240.7L387.8,240.9L387.5,240.4 M391.1,239L391.8,239.2L391.3,239.5L391.1,239 M384,182.2L386.1,182.3L384.9,182.7L384,182.2 M288.1,327.1L305.5,326.2L322.8,325.3L340.1,324.5L348.8,322.7L357.5,323.6L366.1,321.9L378.3,318.4L392.1,320.1L409.5,321.9L412.9,325.3L423.3,323.6L435.5,320.1L461.5,318.4L478.8,318.4L496.1,319.3L513.5,318.4L530.8,319.3L548.1,321.9L565.5,324.5L582.8,326.2L588,327.9L579.3,331.4L572.4,335.7L575.9,339.2L568.9,342.7L572.4,346.1L600.1,348.7L634.8,351.3L660.8,352.2L648.7,346.1L652.1,342.7L646.9,340.1L640,338.3L669.5,335.7L686.8,334L704.1,331.4L712.8,333.1L730.1,333.1L747.5,328.8L756.1,329.7L782.1,330.5L785.6,326.2L787.3,325.3L797.7,320.1L808.1,314.9L818.5,313.2L808.1,316.7L802.9,321.9L808.1,325.3L809.9,330.5L799.5,337.5L825.5,340.1L851.5,340.1L868.8,335.7L886.1,330.5L903.5,326.2L912.1,327.1"/>
<path transform="translate(624,0)" d="M281.4,141.9L288.1,143.2L291.6,141.9L296.8,140.2L305.5,139.9L308.9,139.5L310.7,139.9L309.3,144.5L310.7,146.5L317.6,147.8L324.5,151.5L326.3,150.3L326.3,147.7L331.5,147.5L334.9,149.2L341.9,150.3L345.3,149.4L347.6,149.9L348.1,152.2L349.7,155.5L352.3,162.4L355.7,167.6L356.3,171.6L359.2,177.1L362.7,180.6L366.1,182.5L366.7,184.1L369.6,185.8L374.8,184.6L380.3,183.5L379.7,187.5L374.8,195.3L369.6,200.5L364.4,205.7L360.9,209.2L359.2,214.4L360.1,219.6L361.8,223.1L361.8,230L357.5,234.3L352.3,238.7L352.8,244.7L348.8,248.2L348.5,252.5L344.5,257.7L338.4,262.6L329.7,263.3L326.3,264.3L323.5,262.9L322.8,259.5L320.2,253.4L317.6,249.1L316.7,242.1L312.4,233.5L315,224.8L312.9,214.4L307.2,205.7L308.1,197.9L305.5,196.2L300.3,193.9L293.3,193.9L288.1,195.7L282.9,195.3L278.6,196.4L274.3,193.6L269.1,189.3L265.6,184.9L262.1,178.5L263,171.1L262.1,167.6L263.9,162.4L266.5,158.9L269.1,156L274.3,152.9L274.8,149.4L279.5,145.1L281.4,141.9 M377.1,224.8L379,230.9L377.4,235.2L373.9,247.3L369.6,248.2L367,244.7L368.4,238.7L367.9,233.5L372.2,230.9L374.8,227.4L377.1,224.8 M281.9,141.6L280.5,140.2L278.8,139.5L276.2,139.9L275.5,136.9L276.3,132.9L275.7,129.5L277.7,128.3L284.7,128.8L288.5,128.8L289.5,124.3L287.3,122L283.5,120.8L283.6,119.8L288.8,119.6L288.5,117.9L291.9,118.2L294.4,116.8L295.9,115.4L298.5,113.9L300.3,111.8L303.7,111.1L306.5,110.4L305.8,107.6L305.8,105.2L309.8,104L309.5,106.1L308.6,108.7L310.3,110.4L313.3,109.7L316.2,110.4L320.2,109.5L323.7,109L325.9,109.7L328,107.8L328,105.2L330.6,104L333.7,104.9L332.3,102.6L332.3,101.4L338.4,100.9L343.6,100L341,99L334.9,99.7L330.6,100L328.5,98.3L328.5,95.7L334.1,91.7L335.5,90.5L330.3,89.9L328.5,92.2L322.5,95.7L321.4,98.3L324.2,100L320.5,104.3L319.3,106.6L316.4,107.8L314.1,108L313.6,106.6L311,102.6L310,101.2L308.1,102.1L305.5,103.3L302,102.6L300.3,100L300.3,96.5L303.7,94.8L308.9,93.1L312.4,89.6L315.9,86.1L319.3,84.4L324.5,82.7L331.5,80.9L336.7,80.9L341,80.9L345.3,82.1L343.6,83.2L348.8,83.7L354,84.1L362.7,86.1L362.7,88.4L357.5,89.4L350.5,88.4L352.3,92.2L357.5,93.1L360.9,92L361.8,89.6L366.1,88.9L367.9,89.4L367.9,86.1L372.2,86.1L371.3,88.2L374.8,86.8L383.5,84.7L385.2,85.8L393.9,84.7L397.3,83L403.4,84.1L407.7,84.7L411.2,85.3L407.7,83.5L407.7,80.9L411.2,77.5L417.3,78L418.1,80.9L416.4,85.3L419,88.2L414.7,89.1L418.1,89.3L421.6,86.5L419.9,84.7L421.6,79.5L425.1,79.2L426.8,80.1L430.3,79.2L432,76.6L441.5,76.1L442.4,74L449.3,72.8L461.5,71.9L471.9,69.3L477.1,70.9L485.7,71.2L488.3,73.1L482.3,75.7L487.5,76.1L496.1,76.6L506.5,76.3L511.7,78.3L516.1,80.9L522.1,80.1L529.1,80.1L534.3,78L544.7,78.5L551.6,80.1L555.1,80.9L567.2,81.3L568.9,83.2L582.8,83L587.1,84.4L588,82.7L596.7,83L603.6,84.4L612.3,87L620.9,89.3L616.6,92.2L610.5,90.8L605.3,90.5L603.6,91.3L601,92.2L599.3,95.7L593.2,96.9L587.1,100L579.3,100L575,103.5L572.4,106.1L574.1,108.7L568.9,112.1L566.3,115.6L563.2,115.6L561.5,110.4L562,105.2L567.2,101.7L574.1,97.4L575.9,95.7L568.9,97.1L562.9,97.4L560.3,101.2L555.1,101.7L549.9,100.7L539.5,101.2L534.3,104.3L529.9,109.5L533.4,110.4L536.3,112.1L534.8,115.6L535.1,119.9L530.8,123.7L526.5,127.7L522.1,129.8L518.7,130.3L516.6,132.1L516.1,134.7L512.6,135.5L514.3,137.3L515.9,140.7L515.2,143L511.7,144L510.5,143.3L511,139.9L508.3,138.5L508.3,135.5L503.1,136.4L501.7,133.3L497.9,136.1L495.6,136.4L497.5,139L501.3,138.7L503.9,139.9L500.5,141.3L498.4,143.3L500.8,146.8L502.7,148.9L502.7,150.6L503.1,152.9L501.3,155.5L498.7,159.8L495.3,162.4L492.7,164.3L488.3,165.3L484,166.9L482.6,168.8L481.7,166.7L478.8,166.6L476.5,168.5L475,171.1L477.1,174.5L480.2,178L481.1,182.3L480.5,184.1L477.1,186L473.9,188.9L473.3,186.7L470.1,184.9L469.3,182.9L466.5,180.8L464.9,180.8L464.4,184.1L463.5,187.5L465.5,190.1L467.5,192.2L470.1,194.5L471,197.1L472.2,201.4L471,201.7L467.2,199.1L465.6,195.3L465.3,192.7L462,190.1L462.3,186.7L462.5,183.2L460.9,178L460.6,175.4L457,176.6L455.1,176.3L455.4,172.8L453.7,169.7L451.1,166.7L449.3,165L445.9,166.2L442.4,166.7L441.5,169L438.9,170.2L434.3,175.4L430.6,177.1L430.6,181.5L429.9,186.1L428.5,187.9L427.1,188.6L425.9,190L424.2,188.4L422.5,184.1L421.3,181.5L419.9,178L418.1,173.7L417.8,170.2L417.6,167.6L416.9,166.7L413.8,167.9L411.2,165.3L413.5,164.1L410.3,163.3L407.7,161L406.9,160L399.1,160.3L393.9,160L390.7,159.3L389.7,157.2L386.1,157.9L382.6,156.2L379.7,153.7L378.3,151.7L376.2,151.5L374.8,152.3L376,154.6L378.3,157.7L378.6,159.8L380,161.4L381,159.1L381.2,161.9L385.2,162.1L389.2,158.6L389.5,161.5L393.2,163.1L395.3,165L393,168.5L391.8,171.4L387.5,173.7L382.1,176.3L376.5,179.4L369.6,181.8L367,182L365.8,178.3L365.3,175.4L362.3,171.1L359.4,166.7L358.3,162.7L356.1,160.1L352.3,155.5L352.1,152.9L350.9,155.8L349.8,154.9L348.1,152.2L347.6,149.9L350.9,149.7L352.1,147.7L353.1,145.2L354,141.9L354.3,140.6L351.6,140.2L348.8,141.4L344.6,140.2L342,140.4L339.1,139.9L337.2,137.6L338.1,135.5L337,134.5L336.7,133.6L333.2,133.3L332.9,134.7L331.3,133.8L330.8,135.5L332,137.8L333.2,138.7L331.5,139.3L331.6,140.7L330.3,140.7L329.2,140L328.3,138.5L328.2,137.4L326.8,135.9L325.2,133.8L325.4,131.5L323.7,130.3L319.3,128.6L317.9,127.2L316.7,125.7L315.2,125.8L315.3,124.8L312.9,125.5L313.1,127.4L315.2,128.6L316.2,130.7L319.3,131.4L319.3,132.2L323.7,134.3L323.5,135L321.1,133.8L320.2,135.2L321.2,136.4L320.2,137.6L318.8,138.1L319,136.4L318.1,134.7L315.9,133.3L313.3,132.1L310.7,130.5L309.3,128.6L307.2,127.2L304.6,128.1L302,129.3L299.7,128.8L297,129.3L297.1,131.4L293,132.9L291.6,135.2L291.3,136.7L290.4,138.7L288.1,140.2L283.8,140.4L281.9,141.6 M341.9,132.6L346.2,132.6L349.3,131.2L352.3,131.2L354.9,132.4L358.3,132.9L363.5,132.1L363.5,130L360.4,128.4L357.5,126.9L356.3,125.5L358,123.9L359.5,122.2L356.6,122.5L352.6,123.9L354.9,125.3L353.1,126L349.8,126.9L347.9,125.3L349.8,124.1L346.7,123.4L344.8,123.7L343.1,125.5L341.3,127.7L340,130L340.1,131.4L341.9,132.6 M0.4,90.3L3.9,89.3L7.3,88.7L11.7,89.1L8.2,87.9L7.3,86.1L3,85.4L9.1,83.5L14.3,81.8L20.3,80.4L28.1,81.3L35.1,82L43.7,82.5L48.9,83.4L55.9,84.6L61.1,83.5L68,82.7L74.9,83.7L81.9,83L88.8,84.4L92.3,86.1L100.9,86.3L104.4,85.8L107.9,84.7L114.8,86.5L121.7,86.5L123.5,85.3L126.1,86.1L125.2,83.5L128.7,79.5L132.1,82.7L134.7,85.3L139.1,84.7L142.5,87L149.5,85.3L150.7,87L147.7,89.3L142.5,89.6L140.8,92.2L135.6,93.1L130.4,96.5L127.8,100L127.8,102.1L131.3,105.2L135.6,105.2L144.3,108.1L148.9,108.3L149.5,112.1L151.2,114.7L153.5,115.3L155,113L153.8,109.5L158.1,106.9L159,104.3L155.9,102.3L157.3,100L156.4,96L163.3,96L170.3,98.3L171.1,101.7L174.6,102.9L178.1,100.3L179.8,99.5L184.1,104.3L185.9,107.3L191.1,109L194.5,112.1L194.9,114.7L190.2,115.3L187.6,117L180.7,116.8L175.8,117.3L171.1,120.8L168.5,122.9L172.9,120.3L178.9,118.7L180.1,119.9L178.9,121.7L179.8,123.9L185,124.6L187.6,124.3L185.9,125.7L181.5,126.7L177.2,128.6L177.2,126.9L179.8,125.1L175.5,126L172,127.7L169.4,128.9L168.9,130.3L170.3,131.7L167.7,132.2L163.3,133.5L163,135.5L160.7,137.3L159.9,139.9L160.4,142.3L158.1,144.2L155.5,145.4L151.2,148.9L150.3,152L152.4,156.3L152.6,159.8L151.2,160.3L148.3,156.2L148.1,153.7L146,152L143.4,152.5L139.1,151.5L136.5,152L136.8,153.7L133.9,153.4L129,152.5L126.9,153.7L123.5,155.5L122.6,159.8L122.1,165L123.5,168.5L125.2,171.1L127.8,172.5L132.1,171.6L134.7,168.5L135.6,167.3L140.8,166.7L139.9,171.1L138.5,173.7L137.7,176.3L142.5,176.4L146.9,177.5L146.9,182.3L146.5,184.9L148.6,187.5L151.2,188.7L153.8,187.5L157.3,188.9L156.6,191.5L155.5,189.3L153.3,188.9L152.4,191.3L148.1,189.8L146.5,188.7L143.4,186.7L141.7,183.2L139.9,181.1L135.6,180.1L131.6,178.7L127.8,175.9L123.5,176.6L118.3,174.7L112.2,172.3L108.7,169.3L108.7,165.9L105.3,161.5L101.8,158.9L99.2,155.5L95.7,150.6L92.6,148.9L93.1,152L96.6,156.3L100.1,161.5L101.5,164.1L97.5,160.7L93.1,155.5L90.5,151.1L88.5,147.5L86.2,145.1L82.6,144L80.1,140.2L78.4,137.3L76.1,134L76.3,129.5L76.7,123.9L75.5,120.1L78.4,120.5L79.3,121.7L78.4,119.1L74.9,117.3L70.6,114.7L69.7,112.1L65.7,109.2L62.8,106.1L59.3,103.1L55,102.6L49.8,100.3L42.9,100L38.5,98.6L34.2,99.1L31.6,100.9L28.1,100.9L29.9,98.3L25.5,100.9L23.8,103.5L18.6,105.7L13.4,107.8L9.1,109L12.5,106.9L16.9,104.3L18.6,102.1L13.4,102.1L10.8,101.2L9.9,99.5L4.7,98.3L5.6,95.7L9.1,94.5L12.5,93.6L12.5,92L6.5,92.2L3,91.3L0.4,90.3 M157.3,188.9L159.9,188.4L160.7,185.5L165.1,184.4L167.3,182.5L167.7,184.9L170.3,183.5L172.9,185.6L177.2,185.6L180.7,186L184.1,185.5L185.9,187.5L188.5,189.8L191.9,193.3L198,193.9L202,196.2L204.1,200.5L204.9,204L207.5,205.7L210.1,205.2L214.5,208L219.7,209L224.9,210.6L230.4,213.2L231.1,217L227.5,223.1L224.3,226.5L224,231.7L222.6,236.9L220.5,242.1L217.1,243.9L212.7,245.3L208.4,248.2L207.2,252.5L204.1,257.7L200.6,262.1L198,264.1L193.7,264.3L190.5,262.9L192.5,266.4L191.8,269.9L187.6,271.6L183.8,271.6L183.3,275.1L178.9,275.1L180.7,277.7L178.4,281.7L174.6,283.7L177.2,286.3L173.7,290.7L172,292.4L173,294.7L169.4,295.3L166.8,296.7L163.3,295L161.6,291.5L162.5,287.2L160.7,284.6L164.2,280.3L165.1,276.8L163.7,273.3L164.2,268.5L165.9,265.5L167.7,261.2L167.7,256L169.4,249.1L169.9,242.1L169.7,235.9L166.8,233.5L161.6,230.9L159.3,227.9L157.8,224.8L155,219.6L153.3,216.1L150.9,214.4L151.2,211.5L152.9,209.2L151.5,207.8L152.1,204.9L152.9,202.6L155,201.4L157.3,197.1L157.6,193.6L156.6,191.5 M172.7,295.2L169.4,296.7L166.8,297.9L170.3,299.7L175.5,299.9L178.6,298.8L175.5,297.6L173.2,295.9L172.7,295.2 M185.9,293.3L191.1,293.1L189.3,294.5L185.9,294.1L185.9,293.3 M225.7,297.6L229.2,298.5L227.5,298.1L225.7,297.6 M165.1,68.5L173.7,65.3L184.1,62.7L196.3,61.5L213.6,61L234.4,59.3L248.3,60.5L256.9,62.4L269.1,62.7L262.1,65.3L258.7,67.9L258.7,71.4L255.2,74.9L251.7,78.3L253.5,81.8L248.3,83.5L239.6,85.8L232.7,88.7L225.7,90.1L221.4,92.2L218.8,95.7L217.1,99.7L213.6,100L208.4,98.3L204.9,95.7L201.5,92.2L198.9,87.9L203.2,83.5L197.1,81.8L196.3,78.3L191.1,74L184.1,71.9L175.5,72.3L168.5,70.2L165.1,68.5 M250,90.5L253.5,88.9L260.4,89.3L265.6,89.1L268.2,91.3L265.6,92.7L259.5,94.1L252.6,93.4L253.5,91.7L250,90.5 M282.1,117.3L286.4,116.3L291.6,115.9L294,115.3L292.5,114.7L294.5,112.7L292.1,112.1L291.3,110.4L289,108.7L288.1,106.9L286.1,106.9L288.1,104L284.7,104L286.4,102.4L282.9,102.4L281.2,104.7L282.1,106.9L283.3,108.7L286.1,109L286.4,111.4L283.8,111.8L284.3,113.3L282.6,114.2L286.1,114.9L283.8,115.6L282.1,117.3 M281.2,113.5L280.9,111.3L281.9,109.4L279.5,108.1L276.9,109L274.3,110.1L275.1,112.1L273.7,113.9L275.1,114.7L278.6,113.9L281.2,113.5 M488.3,242.1L489.2,249.1L490.9,256L490.9,262.1L492.7,264.7L497,264.7L501.3,262.6L506.5,261.2L511.7,259.8L516.1,258.8L520.4,259.5L524.7,261.2L526.5,264.3L529.1,262.1L530.5,260.5L530.5,263.8L531.7,265.5L533.4,266.4L535.1,269.9L540.3,271.3L542.9,270.2L545.5,271.6L548.1,269.7L551.6,268.7L552.1,265.5L553.9,262.1L556.5,258.6L557.7,253.4L556.8,248.2L553.3,244.7L550.7,242.1L548.1,238.7L545,236.9L543.8,232.6L542.9,229.7L540.3,228.3L538.6,222.7L537,226.5L536.9,230.9L535.1,234.3L532.5,234L529.9,231.7L527,230L527.3,226.5L528.5,225.1L524.7,224.8L521.3,223.6L518.7,225.3L516.6,229.7L513.5,229.7L510.9,228.3L508.3,230.9L505.7,233.5L503.4,235.2L502.2,237.8L497.9,238.7L493.5,239.9L490.1,241.6L488.3,242.1 M542.4,274.5L545.5,275.2L548.7,274.9L548.5,277.7L546.4,279.6L544.7,279.4L543.3,277.3L542.4,274.5 M590.9,263.6L593.7,266.1L595.8,267.6L596.7,269.2L600.7,269.3L599.3,272.1L598.2,273.9L595.5,276.1L594.6,275.6L595.3,273.7L592.9,272.1L594.4,269.9L594.1,267.3L591.8,265L590.9,263.6 M590.9,274.4L593.5,275.6L592.3,278.5L590.6,279.9L588.5,281L587.7,283.6L585.4,284.8L583.3,284.6L580.4,283.7L581.1,282L583.7,280.3L587.1,278.5L588.9,276.5L590.9,274.4 M518.7,205.4L521.3,204.7L523.9,205.4L524.4,208.3L526.5,209.7L529.9,206.9L533.4,207.8L536,208.5L542.1,210.8L544.3,212.7L547.3,214.4L547.8,216.1L549,219.6L552.5,221.9L549.9,221.9L546.4,220.5L544.7,218.2L542.1,217.3L540.3,218.7L538.6,219.9L536,219.8L532.5,218L530.8,218.6L532.2,216.1L530.8,213.5L527,211.8L523,210.6L521.8,210.9L520.4,209L523,208.3L520.9,207.8L518.7,205.4 M549,213.5L552.5,213.5L555.4,211.3L554.2,213.5L550.7,214.7L549,213.5 M560.3,214.4L562.9,217L561.1,215.8L560.3,214.4 M567.2,218.2L570.7,221L568.9,220.5L567.2,218.2 M580.4,230L581.6,232.1L580.7,231L580.4,230 M575.9,238.7L579.3,241.3L581.1,242.7L578.5,241.4L575.9,238.7 M598.9,234.3L601,234.3L600.7,235.5L598.9,235.2L598.9,234.3 M480.5,201.4L481.6,200.5L484.5,199.7L487.5,198.3L490.1,195.9L492.7,192.7L494.4,191.9L495.6,193.6L497.9,195L496.1,196.4L495.6,198.8L496.1,201.4L495.6,203.1L495.3,205.4L493.5,206.6L492.7,210.2L490.4,210.9L487.5,209.5L485.2,209.7L482.6,209L482.3,206.6L480.5,204.5L480.5,201.4 M456.8,194.3L460.6,195L462,196.7L464.9,199.5L467.5,200.5L471,204L471.9,206.1L475.3,209.2L475,214.1L472.9,214.1L468.9,210.9L466.7,208.5L465.5,205.4L463.2,203.1L462.7,201.1L460.6,199.1L458,197.1L456.8,194.3 M473.9,215.8L476.7,214.4L479.7,215.6L483.7,215.1L486.9,216L490.1,217.5L489.9,219.1L485.7,218.6L481.4,217.5L477.9,217.3L476,216.8L473.9,215.8 M491.8,218.4L494.4,218.6L497.9,218.7L497,219.4L492.7,219.4L491.8,218.4 M499.3,218.7L504.5,218.4L503.9,219.3L499.6,219.4L499.3,218.7 M505.7,221.9L508.3,219.9L511.7,218.6L510,220.1L506.5,221.9L505.7,221.9 M499.3,202.6L501,201.7L504.8,202.4L508.3,201.2L507.4,203.3L502.2,203.1L499.9,205.6L502.4,205.6L505.3,205.6L502.7,207.3L503.6,209.7L504.8,211.5L503.4,212.3L502.2,210.9L501.2,208.7L500.3,210.9L500.3,213.5L498.7,213.5L498.7,210.1L497.5,208.9L499.3,202.6 M512.6,200.5L514.3,201.4L513.5,203.1L514.3,205.2L513.1,204L512.6,202.3L512.6,200.5 M513.5,209.2L518.3,209.7L516.1,210.1L513.5,209.9L513.5,209.2 M500.6,171.9L503.4,172.1L503.6,175.4L502.2,178L503.9,179.7L506.5,181.5L506.5,182.2L503.9,180.6L501.3,180.3L500.6,178.9L499.6,176.6L500.1,174L500.6,171.9 M503.1,191.9L505.7,189.1L509,187.2L510.9,190.1L510.3,193.1L509.1,194.1L506.9,193.1L506.5,191L503.9,191L503.1,191.9 M503.1,185.8L504.8,183.7L505.3,186.7L503.9,187.5L503.1,185.8 M507.1,182.3L509.1,182.7L509.3,184.9L507.9,186.3L507.2,184.4L507.1,182.3 M494.7,189.4L498.7,185.8L498.4,184.4L496.1,187L494.7,189.4 M500.5,180.8L502,181.1L501.7,182.7L500.5,180.8 M501.3,160.3L502.9,161L501,165.9L499.8,164.1L501.3,160.3 M480,170.7L482.3,169.3L484,170L482.3,172.3L480,171.8L480,170.7 M430.1,187.2L432.3,189.3L433.4,191.9L432,193.4L430.3,193.6L429.7,190.1L430.1,187.2 M518.5,145.1L521.3,142.6L527,142.3L528.7,139.5L531.7,139.2L533.9,136.4L534.3,133.6L536.5,132.2L537.4,135L536,137.6L535.7,140.2L534.6,142.8L532.2,143.9L529.1,144L527,145.9L525.8,144.2L522.1,144.5L518.7,145.2L518.5,145.1 M516.9,145.9L519.9,145.6L520.1,147.7L518.1,150.3L517.3,149.6L517.3,147.5L516.4,146.8L516.9,145.9 M521.3,145.2L524.7,144.7L524.2,146.1L522.1,147.1L521.3,145.2 M534.8,132.1L536.3,130.3L540,131.2L543.8,128.9L542.1,127.7L537.7,125.1L537,127.7L536.5,129.1L534.8,130.3L534.8,132.1 M537.7,124.3L540.3,122.9L538.9,121.7L539.5,118.7L542.1,119.1L540,116.5L540,113L539.1,109.9L537.7,111.3L537.4,114.7L537.9,118.2L537.7,121.1L537.7,124.3 M544.7,126.9L549,125.1L551.6,123.9 M555.1,122.2L558.5,119.1L561.1,116.8 M380.9,80.1L384.3,81.3L391.3,81.5L387.8,79.2L388.7,76.6L393,74.9L399.1,72.6L410.3,70.9L409.5,72.1L397.3,73.7L392.1,76.1L386.9,77.5L381.7,79.2L380.9,80.1 M310.7,66.2L315.9,69.7L321.1,71.2L324.5,67.9L329.7,68.3L328,66.2L338.4,65.2L326.3,64.5L319.3,65.3L310.7,66.2 M373.1,64.3L381.7,64.8L380,63.8L373.1,64.3 M385.2,64.5L392.1,65L399.1,64.3L404.3,63.6L392.1,63.3L385.2,64.5 M456.3,67.1L464.9,68.8L473.6,67.9L471.9,66.2L464.9,64.5L458,63.6L451.1,65.3L456.3,67.1 M529.1,73.5L539.5,74L551.6,73.7L544.7,72.3L534.3,72.3L529.1,73.5 M534.3,76.8L539.5,77.1L536.9,75.9L534.3,76.8 M601,80.9L607.1,80.1L604.5,81.1L601,80.9 M313.3,138.1L318.5,137.8L317.8,140.4L313.3,138.8L313.3,138.1 M305.8,132.9L308.4,132.9L308.2,136.1L306.3,136.4L305.8,132.9 M306.5,130.3L308.1,129.5L307.9,132.1L306.5,130.3 M332.3,142.5L337.2,143L334.1,143.3L332.3,142.5 M347.6,143.3L351.4,142.3L350,143.9L347.6,143.3 M144.3,166.2L148.6,164.1L152.9,164.1L158.1,166.7L163,169L157.3,169.5L156.4,168.1L152.1,166.2L149.5,165.3L146,165.9L144.3,166.2 M162.6,171.9L165.1,169.5L170.3,169.7L173,171.8L170.3,172.3L167.7,173.1L165.9,172.5L162.6,171.9 M155.9,172.3L159.3,172.8L157.3,173.1L155.9,172.3 M175.1,172.1L177.9,172.3L175.1,172.8L175.1,172.1 M156.4,158.1L158.1,158.4L157.6,160.7L156.4,161.9 M159.9,162.4L161.6,163.8L164.2,165 M184.5,185.5L185.9,185.5L185.5,186.5L184.5,185.5 M188.8,121.5L194.5,114.7L195.4,118.2L199.7,119.9L199.7,123.1L194.5,122.5L188.8,121.5 M69.2,116.1L74.9,117.3L77.5,120.1L74.1,119.4L69.2,116.1 M61.1,110.4L63.1,110.7L63.7,113L61.9,112.1L61.1,110.4 M24.7,103.8L27.6,104.2L25.5,105.2L24.7,103.8 M5.6,109.9L0.4,111.3L-4.8,112.8L-10,113.5L-15.2,114.2 M600.1,114.2L594.9,113.3L591.5,112.5 M-5.7,93.9L-1.3,94.5L-3.1,93.6L-5.7,93.9 M2.1,99.7L4.2,100L3,100.3L2.1,99.7 M152.9,76.3L159.9,77.8L166.8,80.1L173.7,82.7L175.5,85.3L184.1,88.2L180.7,91.3L178.9,95.1L173.7,93.9L166.8,92.7L156.4,92L163.3,89.6L165.1,86.1L156.4,82.7L144.3,82.7L137.3,80.1L144.3,76.6L152.9,76.3 M88.8,80.1L97.5,77.8L109.6,77.5L116.5,80.1L114.8,83L106.1,84.6L95.7,85.3L88.8,83L88.8,80.1 M74.9,79.2L81.9,74.9L92.3,76.6L83.6,80.6L74.9,79.2 M135.6,71.4L152.9,71.7L161.6,67.9L184.1,61L170.3,60L144.3,61.3L132.1,63.6L140.8,67.1L135.6,71.4 M125.2,73.1L135.6,74.9L152.9,74.5L151.2,72.6L137.3,71.4L125.2,73.1 M88.8,73.7L100.9,74.9L109.6,73.7L100.9,71.4L88.8,72.3L88.8,73.7 M111.3,73.1L121.7,74L121.7,71.4L113.1,71.4L111.3,73.1 M140.8,90.5L146,90.8L151.2,93.4L144.3,94.8L140.8,93.1L140.8,90.5 M114.8,77.5L123.5,76.1L130.4,75.7L132.1,78.3L123.5,80.1L114.8,79.2L114.8,77.5 M119.1,84.1L123.5,83L126.1,84.4L121.7,84.9L119.1,84.1 M125.2,65.3L135.6,64.5L140.8,66.2L128.7,67.9L125.2,65.3 M78.4,72.3L87.1,69.7L90.5,71.4L81.9,72.6L78.4,72.3 M109.6,68.8L120,67.4L123.5,69.1L113.1,69.7L109.6,68.8 M179.8,117.5L184.1,118.5L181.5,118.7L179.8,117.5 M376.5,123.4L380,122.5L383.5,123.4L382.6,125.5L380,126.9L379.1,129.5L382.6,132.1L385.2,133.8L384.3,136.4L385.2,139.3L381.7,140.4L378.3,139.2L376.5,137.3L377.4,133.8L374.8,131.2L373.1,127.7L374.8,124.3L376.5,123.4 M393,123.4L398.2,123.4L397.3,126.9L393.9,128.1L392.7,126L393,123.4 M419,125.1L423.3,123.1L428.5,123.4L423.3,123.7L419,125.1 M471.9,114.7L475.3,113L479.7,110.4L482.3,107.5L480.5,108.7L477.9,112.1L473.6,114.4L471.9,114.7 M347.1,203.1L350.5,203.7L350.5,207.5L348.5,208.7L346.7,206.6L347.1,203.1 M342.4,209.9L343.3,213.5L345,218.7L344.1,218.4L342.2,213.5L342.4,209.9 M350.5,220.5L351.7,223.9L352.3,228.3L351.4,228.3L350.9,223.9L350.5,220.5 M132.1,123.1L136.5,120.8L139.1,119.4L144.3,121.1L145.1,123.4L140.8,123.4L135.6,123.2L132.1,123.1 M139.4,131.2L142,130.3L142.5,126.9L144.3,124.6L146,124.3L150.3,124.3L152.9,126.3L150.3,129.1L148.6,129.5L146.9,127.7L147.2,125.5L144.6,124.6L143.1,126L140.8,125.1L139.1,126.9L139.9,129.5L139.4,131.2 M147.2,131.5L151.2,130.3L154.7,129.8L152.9,130.9L148.6,132.1L147.2,131.5 M153.5,128.9L158.1,128.9L159.3,127.7L156.4,127.9L153.5,128.9 M120,111.3L121.7,113.9L124.3,116.5L123.5,113.9L121.7,110.7L120,111.3 M78.4,89.6L83.6,87.9L87.1,89.6L81.9,91.3L78.4,89.6 M88.8,98.3L94,95.7L100.9,95.7L95.7,97.4L88.8,98.3 M21.2,171.1L22.9,170.2L21.5,169L21.2,171.1 M20,167.9L17.7,166.7L15.1,165.9 M410.9,288.9L413.8,289.3L412.1,290.1L410.9,288.9 M387.5,240.4L388.3,240.7L387.8,240.9L387.5,240.4 M391.1,239L391.8,239.2L391.3,239.5L391.1,239 M384,182.2L386.1,182.3L384.9,182.7L384,182.2 M288.1,327.1L305.5,326.2L322.8,325.3L340.1,324.5L348.8,322.7L357.5,323.6L366.1,321.9L378.3,318.4L392.1,320.1L409.5,321.9L412.9,325.3L423.3,323.6L435.5,320.1L461.5,318.4L478.8,318.4L496.1,319.3L513.5,318.4L530.8,319.3L548.1,321.9L565.5,324.5L582.8,326.2L588,327.9L579.3,331.4L572.4,335.7L575.9,339.2L568.9,342.7L572.4,346.1L600.1,348.7L634.8,351.3L660.8,352.2L648.7,346.1L652.1,342.7L646.9,340.1L640,338.3L669.5,335.7L686.8,334L704.1,331.4L712.8,333.1L730.1,333.1L747.5,328.8L756.1,329.7L782.1,330.5L785.6,326.2L787.3,325.3L797.7,320.1L808.1,314.9L818.5,313.2L808.1,316.7L802.9,321.9L808.1,325.3L809.9,330.5L799.5,337.5L825.5,340.1L851.5,340.1L868.8,335.7L886.1,330.5L903.5,326.2L912.1,327.1"/>
</g>
<path d="M308.9,48 V42.5 M308.9,360 V365.5 M326.3,48 V42.5 M326.3,360 V365.5 M360.9,48 V42.5 M360.9,360 V365.5 M378.3,48 V42.5 M378.3,360 V365.5 M412.9,48 V42.5 M412.9,360 V365.5 M430.3,48 V42.5 M430.3,360 V365.5 M464.9,48 V42.5 M464.9,360 V365.5 M482.3,48 V42.5 M482.3,360 V365.5 M516.9,48 V42.5 M516.9,360 V365.5 M534.3,48 V42.5 M534.3,360 V365.5 M568.9,48 V42.5 M568.9,360 V365.5 M586.3,48 V42.5 M586.3,360 V365.5 M620.9,48 V42.5 M620.9,360 V365.5 M638.3,48 V42.5 M638.3,360 V365.5 M672.9,48 V42.5 M672.9,360 V365.5 M690.3,48 V42.5 M690.3,360 V365.5 M724.9,48 V42.5 M724.9,360 V365.5 M742.3,48 V42.5 M742.3,360 V365.5 M776.9,48 V42.5 M776.9,360 V365.5 M794.3,48 V42.5 M794.3,360 V365.5 M828.9,48 V42.5 M828.9,360 V365.5 M846.3,48 V42.5 M846.3,360 V365.5 M880.9,48 V42.5 M880.9,360 V365.5 M898.3,48 V42.5 M898.3,360 V365.5 M288,342.7 H282.5 M912,342.7 H917.5 M288,325.3 H282.5 M912,325.3 H917.5 M288,290.7 H282.5 M912,290.7 H917.5 M288,273.3 H282.5 M912,273.3 H917.5 M288,238.7 H282.5 M912,238.7 H917.5 M288,221.3 H282.5 M912,221.3 H917.5 M288,186.7 H282.5 M912,186.7 H917.5 M288,169.3 H282.5 M912,169.3 H917.5 M288,134.7 H282.5 M912,134.7 H917.5 M288,117.3 H282.5 M912,117.3 H917.5 M288,82.7 H282.5 M912,82.7 H917.5 M288,65.3 H282.5 M912,65.3 H917.5" stroke="#747474" stroke-width="0.8" fill="none"/>
<path d="M291.6,48 V37 M291.6,360 V371 M343.6,48 V37 M343.6,360 V371 M395.6,48 V37 M395.6,360 V371 M447.6,48 V37 M447.6,360 V371 M499.6,48 V37 M499.6,360 V371 M551.6,48 V37 M551.6,360 V371 M603.6,48 V37 M603.6,360 V371 M655.6,48 V37 M655.6,360 V371 M707.6,48 V37 M707.6,360 V371 M759.6,48 V37 M759.6,360 V371 M811.6,48 V37 M811.6,360 V371 M863.6,48 V37 M863.6,360 V371" stroke="#0a0a0a" stroke-width="1.0" fill="none"/>
<path d="M288,360 H277 M912,360 H923 M288,308 H277 M912,308 H923 M288,256 H277 M912,256 H923 M288,204 H277 M912,204 H923 M288,152 H277 M912,152 H923 M288,100 H277 M912,100 H923 M288,48 H277 M912,48 H923" stroke="#666" stroke-width="1.4" fill="none"/>
<rect x="288" y="48" width="624" height="312" fill="none" stroke="#777" stroke-width="1.2"/>
<text transform="translate(291.3,390) scale(0.95,1)" font-size="14" text-anchor="middle">0</text>
<text transform="translate(343.3,390) scale(0.95,1)" font-size="14" text-anchor="middle">30E</text>
<text transform="translate(395.3,390) scale(0.95,1)" font-size="14" text-anchor="middle">60E</text>
<text transform="translate(447.3,390) scale(0.95,1)" font-size="14" text-anchor="middle">90E</text>
<text transform="translate(499.3,390) scale(0.95,1)" font-size="14" text-anchor="middle">120E</text>
<text transform="translate(551.3,390) scale(0.95,1)" font-size="14" text-anchor="middle">150E</text>
<text transform="translate(603.3,390) scale(0.95,1)" font-size="14" text-anchor="middle">180</text>
<text transform="translate(655.3,390) scale(0.95,1)" font-size="14" text-anchor="middle">150W</text>
<text transform="translate(707.3,390) scale(0.95,1)" font-size="14" text-anchor="middle">120W</text>
<text transform="translate(759.3,390) scale(0.95,1)" font-size="14" text-anchor="middle">90W</text>
<text transform="translate(811.3,390) scale(0.95,1)" font-size="14" text-anchor="middle">60W</text>
<text transform="translate(863.3,390) scale(0.95,1)" font-size="14" text-anchor="middle">30W</text>
<text transform="translate(269.8,53.1) scale(0.95,1)" font-size="14" text-anchor="end">90N</text>
<text transform="translate(269.8,105.1) scale(0.95,1)" font-size="14" text-anchor="end">60N</text>
<text transform="translate(269.8,157.1) scale(0.95,1)" font-size="14" text-anchor="end">30N</text>
<text transform="translate(269.8,209.1) scale(0.95,1)" font-size="14" text-anchor="end">0</text>
<text transform="translate(269.8,261.1) scale(0.95,1)" font-size="14" text-anchor="end">30S</text>
<text transform="translate(269.8,313.1) scale(0.95,1)" font-size="14" text-anchor="end">60S</text>
<text transform="translate(269.8,365.1) scale(0.95,1)" font-size="14" text-anchor="end">90S</text>
<text transform="translate(600,28.5) scale(1.03,1)" font-size="22.4" text-anchor="middle" font-weight="bold">PRE623R359GQ12 rtna SON 197901_198912</text>
<clipPath id="clip1"><rect x="288" y="444" width="624" height="312"/></clipPath>
<g clip-path="url(#clip1)" shape-rendering="crispEdges">
<rect x="288" y="444" width="624" height="312" fill="#a50021"/>
<path d="M288,515.1L305.3,514.2L322.6,513.3L340,512.5L357.3,512.5L374.6,511.6L392,510.7L409.3,509.9L426.6,508.5L444,506.7L461.3,505L478.6,503.8L496,502.1L513.3,503.8L530.6,505.5L548,508.1L565.3,510.7L582.6,511.3L600,511.3L617.3,510.7L634.6,509.9L652,509L669.3,508.5L686.6,507.3L704,503.8L721.3,504.7L738.6,506.4L756,507.3L773.3,508.1L790.6,509L808,509.9L825.3,512.5L842.6,514.2L860,514.2L877.3,514.2L894.6,513.3L912,514.2L912,756L894.6,756L877.3,756L860,756L842.6,756L825.3,756L808,756L790.6,756L773.3,756L756,756L738.6,756L721.3,756L704,756L686.6,756L669.3,756L652,756L634.6,756L617.3,756L600,756L582.6,756L565.3,756L548,756L530.6,756L513.3,756L496,756L478.6,756L461.3,756L444,756L426.6,756L409.3,756L392,756L374.6,756L357.3,756L340,756L322.6,756L305.3,756L288,756Z" fill="#f72735"/>
<path d="M288,520.3L305.3,518.5L322.6,517.7L340,516.8L357.3,515.9L374.6,515.4L392,515.1L409.3,514.2L426.6,513.3L444,512.5L461.3,510.7L478.6,509L496,509L513.3,511.6L530.6,515.1L548,518.5L565.3,520.3L582.6,521.1L600,521.1L617.3,520.3L634.6,519.4L652,518.5L669.3,517.7L686.6,516.8L704,515.1L721.3,515.9L738.6,516.8L756,518.5L773.3,519.4L790.6,520.3L808,520.3L825.3,521.1L842.6,522L860,522L877.3,522L894.6,521.1L912,520.3L912,756L894.6,756L877.3,756L860,756L842.6,756L825.3,756L808,756L790.6,756L773.3,756L756,756L738.6,756L721.3,756L704,756L686.6,756L669.3,756L652,756L634.6,756L617.3,756L600,756L582.6,756L565.3,756L548,756L530.6,756L513.3,756L496,756L478.6,756L461.3,756L444,756L426.6,756L409.3,756L392,756L374.6,756L357.3,756L340,756L322.6,756L305.3,756L288,756Z" fill="#ff3d3d"/>
<path d="M288,686.7L305.3,686.7L322.6,686.7L340,686.7L357.3,686.7L374.6,686.7L392,686.7L409.3,686.7L426.6,686.7L444,686.7L461.3,686.7L478.6,686.7L496,686.7L513.3,686.7L530.6,686.7L548,686.7L565.3,686.7L582.6,686.7L600,686.7L617.3,686.7L634.6,686.7L652,686.7L669.3,686.7L686.6,686.7L704,686.7L721.3,686.7L738.6,686.7L756,686.7L773.3,686.7L790.6,686.7L808,686.7L825.3,686.7L842.6,686.7L860,686.7L877.3,686.7L894.6,686.7L912,686.7L912,756L894.6,756L877.3,756L860,756L842.6,756L825.3,756L808,756L790.6,756L773.3,756L756,756L738.6,756L721.3,756L704,756L686.6,756L669.3,756L652,756L634.6,756L617.3,756L600,756L582.6,756L565.3,756L548,756L530.6,756L513.3,756L496,756L478.6,756L461.3,756L444,756L426.6,756L409.3,756L392,756L374.6,756L357.3,756L340,756L322.6,756L305.3,756L288,756Z" fill="#f72735"/>
<path d="M286.4,722.2L343.6,720.5L378.3,716.1L412.9,719.6L464.9,715.3L534.3,716.1L568.9,721.3L575.9,728.3L568.9,738.7L574.1,757.7L286.4,757.7Z" fill="#ff3d3d"/>
<path d="M910.4,722.2L967.6,720.5L1002.3,716.1L1036.9,719.6L1088.9,715.3L1158.3,716.1L1192.9,721.3L1199.9,728.3L1192.9,738.7L1198.1,757.7L910.4,757.7Z" fill="#ff3d3d"/>
<path d="M395.6,721.3C400.2,719.6 421.6,719.6 426.8,721.3C432,723.1 431.4,730 426.8,731.7C422.2,733.5 404.3,733.5 399.1,731.7C393.9,730 391,723.1 395.6,721.3Z" fill="#f72735"/>
<path d="M617.5,722.2C631.9,720.6 689.1,720.6 704.1,722.2C719.2,723.8 722,730.1 707.6,731.7C693.2,733.3 632.5,733.3 617.5,731.7C602.4,730.1 603,723.8 617.5,722.2Z" fill="#a50021"/>
<path d="M568.9,736.9C571,735.8 574.7,735.2 586.3,735.2C597.8,735.2 618,736.6 638.3,736.9C658.5,737.2 696,735.8 707.6,736.9C719.2,738.1 715.1,742.1 707.6,743.9C700.1,745.6 677.6,746.9 662.5,747.3C647.5,747.8 632.2,747.3 617.5,746.5C602.7,745.6 582.2,743.7 574.1,742.1C566,740.5 566.9,738.1 568.9,736.9Z" fill="#a50021"/>
<path d="M744,722.2C749.8,721.6 772.9,721.6 778.7,722.2C784.4,722.8 784.4,725.1 778.7,725.7C772.9,726.2 749.8,726.2 744,725.7C738.2,725.1 738.2,722.8 744,722.2Z" fill="#a50021"/>
<path d="M841.1,721.3C847.7,720.5 874.3,719.6 880.9,721.3C887.6,723.1 886.1,730 880.9,731.7C875.7,733.5 856.4,732.6 849.7,731.7C843.1,730.9 842.5,728.3 841.1,726.5C839.6,724.8 834.4,722.2 841.1,721.3Z" fill="#a50021"/>
<path d="M823.7,736.9C829.8,736.4 854.1,736.4 860.1,736.9C866.2,737.5 866.2,739.8 860.1,740.4C854.1,741 829.8,741 823.7,740.4C817.7,739.8 817.7,737.5 823.7,736.9Z" fill="#a50021"/>
<path d="M288,525.5L305.3,525.5L322.6,530.7L340,530.7L357.3,532.4L374.6,535.9L392,535.9L409.3,532.4L426.6,527.2L444,523.7L461.3,523.7L478.6,527.2L496,525.5L513.3,527.2L530.6,528.9L548,531.5L565.3,532.4L582.6,532.4L600,532.4L617.3,532.1L634.6,531.5L652,530.7L669.3,529.8L686.6,530.7L704,527.2L721.3,528.9L738.6,530.7L756,534.1L773.3,533.3L790.6,528.9L808,528.9L825.3,529.8L842.6,530.7L860,530.7L877.3,530.7L894.6,529.8L912,525.5L912,698.8L894.6,700.5L877.3,702.3L860,704L842.6,705.7L825.3,707.5L808,710.1L790.6,712.7L773.3,714.4L756,714.4L738.6,713.5L721.3,712.7L704,710.9L686.6,707.5L669.3,708.3L652,708.9L634.6,709.2L617.3,709.5L600,709.2L582.6,708.3L565.3,708.3L548,708.9L530.6,709.2L513.3,709.2L496,709.2L478.6,707.5L461.3,707.5L444,706.6L426.6,705.7L409.3,704.9L392,704.3L374.6,704L357.3,703.1L340,700.5L322.6,697.9L305.3,697.4L288,697.9Z" fill="#ffac75"/>
<path d="M284.5,544.5C288.5,539.9 298.6,541.4 308.8,541.1C318.9,540.8 338.5,541.1 345.2,542.8C351.8,544.5 349.5,547.7 348.6,551.5C347.8,555.2 344.3,561.9 340,565.3C335.6,568.8 328.4,571.1 322.6,572.3C316.8,573.4 311.6,572.8 305.3,572.3C298.9,571.7 288,573.4 284.5,568.8C281,564.2 280.4,549.2 284.5,544.5Z" fill="#ff3d3d"/>
<path d="M908.5,544.5C912.5,539.9 922.6,541.4 932.8,541.1C942.9,540.8 962.5,541.1 969.2,542.8C975.8,544.5 973.5,547.7 972.6,551.5C971.8,555.2 968.3,561.9 964,565.3C959.6,568.8 952.4,571.1 946.6,572.3C940.8,573.4 935.6,572.8 929.3,572.3C922.9,571.7 912,573.4 908.5,568.8C905,564.2 904.4,549.2 908.5,544.5Z" fill="#ff3d3d"/>
<path d="M298.4,551.5C298.6,549.2 306.4,547.4 310.5,548C314.5,548.6 322.9,552.6 322.6,554.9C322.3,557.2 312.8,562.4 308.8,561.9C304.7,561.3 298.1,553.8 298.4,551.5Z" fill="#ffac75"/>
<path d="M327.8,548C330.1,547.1 339.1,549.2 340,551.5C340.8,553.8 335.3,561 333,561.9C330.7,562.7 327,559 326.1,556.7C325.2,554.4 325.5,548.9 327.8,548Z" fill="#ffac75"/>
<path d="M353.8,537.6C354.7,534.1 363.1,531.2 369.4,534.1C375.8,537 388.2,549.7 392,554.9C395.7,560.1 394.3,563 392,565.3C389.6,567.6 382.7,570.5 378.1,568.8C373.5,567.1 368.3,560.1 364.2,554.9C360.2,549.7 353,541.1 353.8,537.6Z" fill="#ff3d3d"/>
<path d="M395.4,542.8C396.6,541.4 403.8,540.2 405.8,541.1C407.8,541.9 408.7,546.6 407.6,548C406.4,549.4 400.9,550.6 398.9,549.7C396.9,548.9 394.3,544.2 395.4,542.8Z" fill="#ff3d3d"/>
<path d="M470,541.1C471.4,538.5 478.3,537.6 480.4,539.3C482.4,541.1 483.5,548.9 482.1,551.5C480.6,554.1 473.7,556.7 471.7,554.9C469.7,553.2 468.5,543.7 470,541.1Z" fill="#ff3d3d"/>
<path d="M887.9,551.5C889.7,548.6 893.4,546.4 898.3,545.4C903.2,544.4 914.2,541.9 917.3,545.4C920.5,548.9 920.5,562.7 917.3,566.2C914.2,569.7 903.3,566.8 898.3,566.2C893.2,565.6 888.7,565.2 887,562.7C885.3,560.3 886,554.4 887.9,551.5Z" fill="#ffac75"/>
<path d="M263.9,551.5C265.7,548.6 269.4,546.4 274.3,545.4C279.2,544.4 290.2,541.9 293.3,545.4C296.5,548.9 296.5,562.7 293.3,566.2C290.2,569.7 279.3,566.8 274.3,566.2C269.2,565.6 264.7,565.2 263,562.7C261.3,560.3 262,554.4 263.9,551.5Z" fill="#ffac75"/>
<path d="M901.7,553.2C903.5,552 910.4,552 912.1,553.2C913.9,554.4 913.9,559 912.1,560.1C910.4,561.3 903.5,561.3 901.7,560.1C900,559 900,554.4 901.7,553.2Z" fill="#ff3d3d"/>
<path d="M277.7,553.2C279.5,552 286.4,552 288.1,553.2C289.9,554.4 289.9,559 288.1,560.1C286.4,561.3 279.5,561.3 277.7,560.1C276,559 276,554.4 277.7,553.2Z" fill="#ff3d3d"/>
<path d="M288,563.6L305.3,567.1L322.6,568.8L340,570.5L357.3,572.3L374.6,568.8L392,558.4L409.3,554.9L426.6,554.9L444,554.9L461.3,556.7L478.6,558.4L496,554.9L513.3,546.3L530.6,543.7L548,541.9L565.3,540.7L582.6,540.2L600,540.2L617.3,542.8L634.6,544.9L652,547.3L669.3,552L686.6,556.3L704,558.4L721.3,548L738.6,551.5L756,546.3L773.3,541.9L790.6,539.3L808,538.5L825.3,538.5L842.6,538.5L860,538.5L877.3,538.5L894.6,537.6L912,563.6L912,695.3L894.6,697.1L877.3,698.8L860,700.5L842.6,702.3L825.3,704L808,705.7L790.6,707.1L773.3,707.1L756,706.6L738.6,705.7L721.3,704L704,702.3L686.6,702.6L669.3,703.1L652,703.7L634.6,703.7L617.3,703.7L600,703.1L582.6,702.3L565.3,702.3L548,703.1L530.6,703.7L513.3,704L496,704L478.6,703.7L461.3,703.5L444,703.1L426.6,702.3L409.3,701.4L392,700.9L374.6,700.5L357.3,699.7L340,697.9L322.6,695.3L305.3,694.5L288,694.5Z" fill="#fff1bc"/>
<path d="M310.5,537.6C313.7,537.3 324.4,541.1 331.3,541.1C338.2,541.1 348.6,537 352.1,537.6C355.6,538.2 355.6,543.1 352.1,544.5C348.6,546 337.9,546.6 331.3,546.3C324.6,546 315.7,544.2 312.2,542.8C308.8,541.4 307.3,537.9 310.5,537.6Z" fill="#fff1bc"/>
<path d="M423.2,541.1C424.6,538.2 427.8,534.7 435.3,534.1C442.8,533.6 462.7,534.1 468.2,537.6C473.7,541.1 472.3,551.8 468.2,554.9C464.2,558.1 450.9,557.2 444,556.7C437,556.1 430.1,554.1 426.6,551.5C423.2,548.9 421.7,544 423.2,541.1Z" fill="#fff1bc"/>
<path d="M288,574L305.3,574.9L322.6,575.7L340,576.6L357.3,577.5L374.6,579.2L392,561.9L409.3,560.1L426.6,565.3L444,565.3L461.3,565.3L478.6,565.3L496,561.9L513.3,554.9L530.6,550.6L548,549.7L565.3,548.9L582.6,548.9L600,550.8L617.3,551.8L634.6,553.9L652,556.3L669.3,560.1L686.6,563.6L704,564.8L721.3,558.4L738.6,558.4L756,548L773.3,548L790.6,548L808,548L825.3,548L842.6,547.7L860,547.7L877.3,547.7L894.6,554.9L912,574L912,683.7L894.6,684.9L877.3,686.7L860,690.1L842.6,694.5L825.3,697.9L808,699.7L790.6,698.8L773.3,697.1L756,696.2L738.6,695L721.3,693.6L704,692.7L686.6,691.9L669.3,691.5L652,691.5L634.6,691.9L617.3,692.7L600,693.6L582.6,693.6L565.3,692.7L548,693.6L530.6,694.5L513.3,694.5L496,693.6L478.6,693.6L461.3,692.7L444,691.9L426.6,693.6L409.3,691.9L392,691L374.6,689.3L357.3,687.5L340,685.8L322.6,684.9L305.3,684.1L288,683.2Z" fill="#ffffea"/>
<path d="M437,546.3C438.5,545.3 445.4,544 447.4,544.5C449.4,545.1 450.6,548.7 449.2,549.7C447.7,550.7 440.8,551.2 438.8,550.6C436.7,550 435.6,547.3 437,546.3Z" fill="#ffffea"/>
<path d="M288,578.3L305.3,578.3L322.6,578.3L340,578.3L357.3,579.2L374.6,575.7L392,567.1L409.3,566.2L426.6,568.8L444,567.9L461.3,568.8L478.6,568.8L496,565.3L513.3,561.9L530.6,560.1L548,559.3L565.3,559.3L582.6,559.3L600,560.1L617.3,561L634.6,562.6L652,565.5L669.3,568.5L686.6,570.5L704,570.5L721.3,565.7L738.6,568.8L756,563.6L773.3,560.1L790.6,558.4L808,557.5L825.3,557.5L842.6,557.5L860,557.5L877.3,557.5L894.6,573.1L912,578.3L912,674.5L894.6,675.4L877.3,677.1L860,679.7L842.6,683.2L825.3,688.4L808,693.6L790.6,684.1L773.3,682.3L756,681.5L738.6,680.6L721.3,680.1L704,679.7L686.6,680.6L669.3,680.1L652,680.1L634.6,680.6L617.3,681.5L600,682.9L582.6,682.3L565.3,681.1L548,680.6L530.6,680.1L513.3,679.7L496,679.7L478.6,681.5L461.3,679.7L444,677.1L426.6,676.3L409.3,676.3L392,671.9L374.6,678.9L357.3,678.9L340,678L322.6,676.3L305.3,675.4L288,674.5Z" fill="#bcf9ff"/>
<path d="M288,580.9L305.3,580.9L322.6,580.9L340,580.1L357.3,578.3L374.6,577.5L392,573.1L409.3,571.4L426.6,571.4L444,571.4L461.3,573.1L478.6,574L496,570.5L513.3,570.5L530.6,569.7L548,569.7L565.3,569.7L582.6,569.7L600,570.5L617.3,571.4L634.6,572.8L652,574.5L669.3,576.3L686.6,576.6L704,573.7L721.3,571.4L738.6,573.1L756,572.3L773.3,570.5L790.6,569.7L808,569.1L825.3,568.8L842.6,568.8L860,569.1L877.3,570.5L894.6,579.2L912,580.9L912,662.4L894.6,665L877.3,665L860,665L842.6,667.6L825.3,674.5L808,681.5L790.6,671.1L773.3,667.6L756,666.7L738.6,666.7L721.3,666.7L704,665.9L686.6,665.5L669.3,665.5L652,665.9L634.6,666.7L617.3,667.6L600,674.5L582.6,672.8L565.3,669.3L548,668.5L530.6,667.6L513.3,666.7L496,666.7L478.6,665L461.3,664.1L444,663.3L426.6,662.4L409.3,661.5L392,661.5L374.6,661.5L357.3,662.4L340,665.9L322.6,663.3L305.3,662.4L288,661.5Z" fill="#75d3ff"/>
<path d="M288,652L305.3,652L322.6,652L340,652L357.3,648.5L374.6,591.3L392,580.9L409.3,578.3L426.6,579.2L444,577.5L461.3,579.2L478.6,580.9L496,579.2L513.3,580.9L530.6,580.1L548,580.1L565.3,580.1L582.6,581.8L600,589.6L617.3,590.5L634.6,591.3L652,592.2L669.3,593.1L686.6,595.7L704,598.3L721.3,600.9L738.6,638.1L756,643.3L773.3,643.3L790.6,643.3L808,643.3L825.3,643.3L842.6,643.3L860,643.3L877.3,643.3L894.6,652L912,652L912,652L894.6,652L877.3,643.3L860,643.3L842.6,643.3L825.3,643.3L808,643.3L790.6,643.3L773.3,643.3L756,643.3L738.6,651.1L721.3,652L704,650.3L686.6,649.4L669.3,649.4L652,650.3L634.6,652L617.3,653.7L600,655.5L582.6,656.3L565.3,655.5L548,660.7L530.6,662.4L513.3,658.9L496,659.8L478.6,638.1L461.3,632.9L444,638.1L426.6,643.3L409.3,646.8L392,647.7L374.6,646.8L357.3,648.5L340,652L322.6,652L305.3,652L288,652Z" fill="#3d87ff"/>
<path d="M782.1,582.7C787,581.8 800.9,580.8 811.6,580.9C822.3,581.1 834.7,582.4 846.3,583.5C857.8,584.7 873.7,586.3 880.9,587.9C888.2,589.5 889.6,591 889.6,593.1C889.6,595.1 886.7,598.8 880.9,600C875.2,601.2 863.6,600.6 854.9,600C846.3,599.4 836.2,598 828.9,596.5C821.7,595.1 817.4,592.5 811.6,591.3C805.8,590.2 799.2,590.5 794.3,589.6C789.4,588.7 784.2,587.3 782.1,586.1C780.1,585 777.2,583.5 782.1,582.7Z" fill="#3d87ff"/>
<path d="M854.9,596.5C858.4,593.1 867.9,593.1 870.5,596.5C873.1,600 869.4,611.6 870.5,617.3C871.7,623.1 873.4,626.9 877.5,631.2C881.5,635.5 891.3,640.4 894.8,643.3C898.3,646.2 901.2,648 898.3,648.5C895.4,649.1 883.8,648.2 877.5,646.8C871.1,645.4 865,641.9 860.1,639.9C855.2,637.8 849.7,638.4 848,634.7C846.3,630.9 848.6,623.7 849.7,617.3C850.9,611 851.5,600 854.9,596.5Z" fill="#3d87ff"/>
<path d="M785.6,594.8C787.9,592.2 797.2,590.5 802.9,591.3C808.7,592.2 815.9,597.1 820.3,600C824.6,602.9 828.1,605.2 828.9,608.7C829.8,612.1 828.4,618.2 825.5,620.8C822.6,623.4 816.2,624.8 811.6,624.3C807,623.7 801.5,620.2 797.7,617.3C794,614.4 791.1,610.7 789.1,606.9C787,603.2 783.3,597.4 785.6,594.8Z" fill="#3d87ff"/>
<path d="M317.6,591.3C319,588.7 325.4,587.6 329.7,587.9C334.1,588.2 340.7,590.2 343.6,593.1C346.5,596 346.8,601.2 347.1,605.2C347.4,609.2 346.8,614.2 345.3,617.3C343.9,620.5 341.6,623.4 338.4,624.3C335.2,625.1 329.4,624.3 326.3,622.5C323.1,620.8 320.2,617 319.3,613.9C318.5,610.7 321.4,607.2 321.1,603.5C320.8,599.7 316.2,593.9 317.6,591.3Z" fill="#3d87ff"/>
<path d="M286.4,581.8C290.4,581.1 305.8,581.8 310.7,582.7C315.6,583.5 317.6,586.1 315.9,587C314.1,587.9 305.2,587.9 300.3,587.9C295.4,587.9 288.7,588 286.4,587C284.1,586 282.4,582.5 286.4,581.8Z" fill="#3d87ff"/>
<path d="M910.4,581.8C914.4,581.1 929.8,581.8 934.7,582.7C939.6,583.5 941.6,586.1 939.9,587C938.1,587.9 929.2,587.9 924.3,587.9C919.4,587.9 912.7,588 910.4,587C908.1,586 906.4,582.5 910.4,581.8Z" fill="#3d87ff"/>
<path d="M548.1,597.4C552.5,594.8 568.9,596.1 577.6,596.5C586.3,597 596.4,597.7 600.1,600C603.9,602.3 604.5,608.2 600.1,610.4C595.8,612.6 582.2,612.7 574.1,613C566,613.3 555.9,614.7 551.6,612.1C547.3,609.5 543.8,600 548.1,597.4Z" fill="#2857ff"/>
<path d="M496.1,600C499.6,597.4 510.9,598 516.9,598.3C523,598.6 529.9,599.1 532.5,601.7C535.1,604.3 535.7,611.3 532.5,613.9C529.4,616.5 519.5,617.3 513.5,617.3C507.4,617.3 499,616.8 496.1,613.9C493.2,611 492.7,602.6 496.1,600Z" fill="#2857ff"/>
<path d="M407.7,600C409.2,599.1 415,599.1 416.4,600C417.8,600.9 417.8,604.3 416.4,605.2C415,606.1 409.2,606.1 407.7,605.2C406.3,604.3 406.3,600.9 407.7,600Z" fill="#2857ff"/>
<path d="M438.9,608.7C440.4,607.5 446.2,607.5 447.6,608.7C449,609.8 449,614.4 447.6,615.6C446.2,616.8 440.4,616.8 438.9,615.6C437.5,614.4 437.5,609.8 438.9,608.7Z" fill="#2857ff"/>
<path d="M263.9,612.1C264.7,608.7 276,609 282.9,608.7C289.9,608.4 300.6,608.4 305.5,610.4C310.4,612.4 311.5,616.2 312.4,620.8C313.3,625.4 314.1,635.2 310.7,638.1C307.2,641 297.1,639.6 291.6,638.1C286.1,636.7 282.4,633.8 277.7,629.5C273.1,625.1 263,615.6 263.9,612.1Z" fill="#bcf9ff"/>
<path d="M887.9,612.1C888.7,608.7 900,609 906.9,608.7C913.9,608.4 924.6,608.4 929.5,610.4C934.4,612.4 935.5,616.2 936.4,620.8C937.3,625.4 938.1,635.2 934.7,638.1C931.2,641 921.1,639.6 915.6,638.1C910.1,636.7 906.4,633.8 901.7,629.5C897.1,625.1 887,615.6 887.9,612.1Z" fill="#bcf9ff"/>
<path d="M282.9,617.3C284.7,616.2 293.9,615.9 296.8,617.3C299.7,618.8 302,624.8 300.3,626C298.5,627.2 289.3,625.7 286.4,624.3C283.5,622.8 281.2,618.5 282.9,617.3Z" fill="#ffffea"/>
<path d="M906.9,617.3C908.7,616.2 917.9,615.9 920.8,617.3C923.7,618.8 926,624.8 924.3,626C922.5,627.2 913.3,625.7 910.4,624.3C907.5,622.8 905.2,618.5 906.9,617.3Z" fill="#ffffea"/>
<path d="M289.9,621.3C290.7,620.8 294.2,620.8 295.1,621.3C295.9,621.8 295.9,623.8 295.1,624.3C294.2,624.8 290.7,624.8 289.9,624.3C289,623.8 289,621.8 289.9,621.3Z" fill="#fff1bc"/>
<path d="M664.1,585.3C665.5,584.4 685.8,582 695.3,582.3C704.8,582.6 711.8,585.4 721.3,587C730.8,588.6 745,590.3 752.5,592.2C760,594.1 764.9,596.8 766.4,598.3C767.8,599.7 768.7,601.6 761.2,600.9C753.6,600.1 733.7,596.2 721.3,593.9C708.9,591.7 696.2,589 686.6,587.5C677.1,586.1 662.6,586.1 664.1,585.3Z" fill="#bcf9ff"/>
<path d="M717.8,617.3C717.8,613.3 722.4,605.2 724.8,605.2C727.1,605.2 729.4,613 731.7,617.3C734,621.7 736.3,627.2 738.6,631.2C740.9,635.2 745.6,640.4 745.6,641.6C745.6,642.8 742.1,640.2 738.6,638.1C735.2,636.1 728.2,632.9 724.8,629.5C721.3,626 717.8,621.4 717.8,617.3Z" fill="#75d3ff"/>
<path d="M750.8,620.8C751.9,615.3 759.1,605.5 762.9,601.7C766.6,598 771.1,597.7 773.3,598.3C775.5,598.8 775.7,602 775.9,605.2C776,608.4 771.7,613 774.2,617.3C776.6,621.7 787.9,625.4 790.6,631.2C793.4,637 793.5,650.3 790.6,652C787.7,653.7 779.1,644.5 773.3,641.6C767.5,638.7 759.7,638.1 756,634.7C752.2,631.2 749.6,626.3 750.8,620.8Z" fill="#bcf9ff"/>
<path d="M768.1,620.8C768.1,619.1 769.8,620.2 773.3,622.5C776.8,624.8 786.1,630.3 788.9,634.7C791.6,639 792.4,648.8 789.8,648.5C787.2,648.2 776.9,637.6 773.3,632.9C769.7,628.3 768.1,622.5 768.1,620.8Z" fill="#ffffea"/>
<path d="M360.9,605.2C361.8,603.8 363,603.2 364.4,601.7C365.8,600.3 367.9,598.3 369.6,596.5C371.3,594.8 373.1,593.5 374.8,591.3C376.5,589.2 378.7,585.5 379.7,583.5C380.6,581.6 381.2,580 380.3,579.5C379.5,579.1 376.6,580.2 374.8,580.6C373,581 371,581.9 369.6,581.8C368.2,581.7 367.8,579.3 366.7,580.1C365.5,580.8 364.1,583.7 362.7,586.1C361.3,588.6 359.5,591.9 358.3,594.8C357.2,597.7 356.2,600.9 355.7,603.5C355.3,606.1 356,607.5 355.7,610.4C355.4,613.3 354,617.9 354,620.8C354,623.7 354.9,626.6 355.7,627.7C356.6,628.9 358.2,629.2 359.2,627.7C360.2,626.3 361.8,622 361.8,619.1C361.8,616.2 359.3,612.7 359.2,610.4C359.1,608.1 360.1,606.6 360.9,605.2Z" fill="#bcf9ff"/>
<path d="M367,580.9C368.6,580.4 372.6,581.1 374.8,580.9C377,580.8 379.3,579.6 380,580.1C380.7,580.5 380,581.7 379.1,583.5C378.3,585.4 376.4,589.5 374.8,591.3C373.2,593.2 371,595.1 369.6,594.8C368.2,594.5 366.9,591.3 366.1,589.6C365.4,587.9 365.1,585.8 365.3,584.4C365.4,583 365.4,581.5 367,580.9Z" fill="#ffffea"/>
<path d="M315.9,631.2C318.9,629.5 329.2,629.2 334.9,629.5C340.7,629.8 348.2,630.3 350.5,632.9C352.8,635.5 350,641.6 348.8,645.1C347.6,648.5 345.9,651.4 343.6,653.7C341.3,656 338.1,657.9 334.9,658.9C331.8,659.9 326.8,661 324.5,659.8C322.2,658.6 322.4,655.3 321.1,652C319.8,648.7 317.6,643.3 316.7,639.9C315.9,636.4 312.8,632.9 315.9,631.2Z" fill="#bcf9ff"/>
<path d="M322.8,641.6C324,639.6 330.9,637.3 333.2,638.1C335.5,639 337.8,644.8 336.7,646.8C335.5,648.8 328.6,651.1 326.3,650.3C324,649.4 321.6,643.6 322.8,641.6Z" fill="#75d3ff"/>
<path d="M377.1,620.8L379,626.9L377.4,631.2L373.9,643.3L369.6,644.2L367,640.7L368.4,634.7L367.9,629.5L372.2,626.9L374.8,623.4L377.1,620.8Z" fill="#75d3ff"/>
<path d="M488.3,638.1L489.2,645.1L490.9,652L490.9,658.1L492.7,660.7L497,660.7L501.3,658.6L506.5,657.2L511.7,655.8L516.1,654.8L520.4,655.5L524.7,657.2L526.5,660.3L529.1,658.1L530.5,656.5L530.5,659.8L531.7,661.5L533.4,662.4L535.1,665.9L540.3,667.3L542.9,666.2L545.5,667.6L548.1,665.7L551.6,664.7L552.1,661.5L553.9,658.1L556.5,654.6L557.7,649.4L556.8,644.2L553.3,640.7L550.7,638.1L548.1,634.7L545,632.9L543.8,628.6L542.9,625.7L540.3,624.3L538.6,618.7L537,622.5L536.9,626.9L535.1,630.3L532.5,630L529.9,627.7L527,626L527.3,622.5L528.5,621.1L524.7,620.8L521.3,619.6L518.7,621.3L516.6,625.7L513.5,625.7L510.9,624.3L508.3,626.9L505.7,629.5L503.4,631.2L502.2,633.8L497.9,634.7L493.5,635.9L490.1,637.6L488.3,638.1Z" fill="#bcf9ff"/>
<path d="M488.3,638.1C489.8,634.8 494.5,636.5 499.6,633.8C504.7,631.1 514,623.5 518.7,621.7C523.3,619.8 526.5,620.4 527.3,622.5C528.2,624.7 526.2,631.8 523.9,634.7C521.6,637.6 516.9,637.6 513.5,639.9C510,642.2 506.8,646.2 503.1,648.5C499.3,650.8 493.4,655.5 490.9,653.7C488.5,652 486.9,641.5 488.3,638.1Z" fill="#75d3ff"/>
<path d="M544.7,632.9C546.1,633.4 549.4,636.7 551.6,639C553.8,641.3 557.1,643.8 557.7,646.8C558.2,649.8 556.4,655.5 555.1,657.2C553.8,658.9 551,659.2 549.9,657.2C548.7,655.2 549.3,648.5 548.1,645.1C547,641.6 543.5,638.4 542.9,636.4C542.4,634.4 543.2,632.5 544.7,632.9Z" fill="#75d3ff"/>
<path d="M518.7,601.4L521.3,600.7L523.9,601.4L524.4,604.3L526.5,605.7L529.9,602.9L533.4,603.8L536,604.5L542.1,606.8L544.3,608.7L547.3,610.4L547.8,612.1L549,615.6L552.5,617.9L549.9,617.9L546.4,616.5L544.7,614.2L542.1,613.3L540.3,614.7L538.6,615.9L536,615.8L532.5,614L530.8,614.6L532.2,612.1L530.8,609.5L527,607.8L523,606.6L521.8,606.9L520.4,605L523,604.3L520.9,603.8L518.7,601.4Z" fill="#3d87ff"/>
<path d="M848.3,622.5L848,627.7L846.6,632.9L844.5,638.1L841.1,639.9L836.7,641.3L832.4,644.2L831.2,648.5L828.1,653.7L824.6,658.1L822,660.1L817.7,660.3L814.5,658.9L816.5,662.4L815.8,665.9L811.6,667.6L807.8,667.6L807.3,671.1L802.9,671.1L804.7,673.7L802.4,677.7L798.6,679.7L801.2,682.3L797.7,686.7L796,688.4L797,690.7L793.4,691.3L787.3,691L785.6,687.5L786.5,683.2L784.7,680.6L788.2,676.3L789.1,672.8L787.7,669.3L788.2,664.5L789.9,661.5L791.7,657.2L791.7,652L793.4,645.1L793.9,638.1L793.7,631.9L790.8,629.5L785.6,626.9L783.3,623.9L811.6,620.8L797.7,624.3Z" fill="#75d3ff"/>
<path d="M825.3,605.2C828.2,603.6 837.9,603.2 842.8,604.3C847.7,605.5 854.1,608.2 854.9,612.1C855.8,616 850.6,623.4 848,627.7C845.4,632.1 842.2,637 839.3,638.1C836.4,639.3 832.1,637.6 830.7,634.7C829.2,631.8 831.6,624.3 830.7,620.8C829.8,617.3 826.2,616.5 825.3,613.9C824.4,611.3 822.4,606.8 825.3,605.2Z" fill="#bcf9ff"/>
<path d="M802.9,638.1C805.5,635.8 816.5,636.4 820.3,638.1C824,639.9 826.3,645.1 825.5,648.5C824.6,652 818.5,658.4 815.1,658.9C811.6,659.5 806.7,655.5 804.7,652C802.6,648.5 800.3,640.4 802.9,638.1Z" fill="#bcf9ff"/>
</g>
<g clip-path="url(#clip1)" fill="none" stroke="#000" stroke-width="1.2" stroke-linejoin="round">
<path d="M281.4,537.9L288.1,539.2L291.6,537.9L296.8,536.2L305.5,535.9L308.9,535.5L310.7,535.9L309.3,540.5L310.7,542.5L317.6,543.8L324.5,547.5L326.3,546.3L326.3,543.7L331.5,543.5L334.9,545.2L341.9,546.3L345.3,545.4L347.6,545.9L348.1,548.2L349.7,551.5L352.3,558.4L355.7,563.6L356.3,567.6L359.2,573.1L362.7,576.6L366.1,578.5L366.7,580.1L369.6,581.8L374.8,580.6L380.3,579.5L379.7,583.5L374.8,591.3L369.6,596.5L364.4,601.7L360.9,605.2L359.2,610.4L360.1,615.6L361.8,619.1L361.8,626L357.5,630.3L352.3,634.7L352.8,640.7L348.8,644.2L348.5,648.5L344.5,653.7L338.4,658.6L329.7,659.3L326.3,660.3L323.5,658.9L322.8,655.5L320.2,649.4L317.6,645.1L316.7,638.1L312.4,629.5L315,620.8L312.9,610.4L307.2,601.7L308.1,593.9L305.5,592.2L300.3,589.9L293.3,589.9L288.1,591.7L282.9,591.3L278.6,592.4L274.3,589.6L269.1,585.3L265.6,580.9L262.1,574.5L263,567.1L262.1,563.6L263.9,558.4L266.5,554.9L269.1,552L274.3,548.9L274.8,545.4L279.5,541.1L281.4,537.9 M377.1,620.8L379,626.9L377.4,631.2L373.9,643.3L369.6,644.2L367,640.7L368.4,634.7L367.9,629.5L372.2,626.9L374.8,623.4L377.1,620.8 M281.9,537.6L280.5,536.2L278.8,535.5L276.2,535.9L275.5,532.9L276.3,528.9L275.7,525.5L277.7,524.3L284.7,524.8L288.5,524.8L289.5,520.3L287.3,518L283.5,516.8L283.6,515.8L288.8,515.6L288.5,513.9L291.9,514.2L294.4,512.8L295.9,511.4L298.5,509.9L300.3,507.8L303.7,507.1L306.5,506.4L305.8,503.6L305.8,501.2L309.8,500L309.5,502.1L308.6,504.7L310.3,506.4L313.3,505.7L316.2,506.4L320.2,505.5L323.7,505L325.9,505.7L328,503.8L328,501.2L330.6,500L333.7,500.9L332.3,498.6L332.3,497.4L338.4,496.9L343.6,496L341,495L334.9,495.7L330.6,496L328.5,494.3L328.5,491.7L334.1,487.7L335.5,486.5L330.3,485.9L328.5,488.2L322.5,491.7L321.4,494.3L324.2,496L320.5,500.3L319.3,502.6L316.4,503.8L314.1,504L313.6,502.6L311,498.6L310,497.2L308.1,498.1L305.5,499.3L302,498.6L300.3,496L300.3,492.5L303.7,490.8L308.9,489.1L312.4,485.6L315.9,482.1L319.3,480.4L324.5,478.7L331.5,476.9L336.7,476.9L341,476.9L345.3,478.1L343.6,479.2L348.8,479.7L354,480.1L362.7,482.1L362.7,484.4L357.5,485.4L350.5,484.4L352.3,488.2L357.5,489.1L360.9,488L361.8,485.6L366.1,484.9L367.9,485.4L367.9,482.1L372.2,482.1L371.3,484.2L374.8,482.8L383.5,480.7L385.2,481.8L393.9,480.7L397.3,479L403.4,480.1L407.7,480.7L411.2,481.3L407.7,479.5L407.7,476.9L411.2,473.5L417.3,474L418.1,476.9L416.4,481.3L419,484.2L414.7,485.1L418.1,485.3L421.6,482.5L419.9,480.7L421.6,475.5L425.1,475.2L426.8,476.1L430.3,475.2L432,472.6L441.5,472.1L442.4,470L449.3,468.8L461.5,467.9L471.9,465.3L477.1,466.9L485.7,467.2L488.3,469.1L482.3,471.7L487.5,472.1L496.1,472.6L506.5,472.3L511.7,474.3L516.1,476.9L522.1,476.1L529.1,476.1L534.3,474L544.7,474.5L551.6,476.1L555.1,476.9L567.2,477.3L568.9,479.2L582.8,479L587.1,480.4L588,478.7L596.7,479L603.6,480.4L612.3,483L620.9,485.3L616.6,488.2L610.5,486.8L605.3,486.5L603.6,487.3L601,488.2L599.3,491.7L593.2,492.9L587.1,496L579.3,496L575,499.5L572.4,502.1L574.1,504.7L568.9,508.1L566.3,511.6L563.2,511.6L561.5,506.4L562,501.2L567.2,497.7L574.1,493.4L575.9,491.7L568.9,493.1L562.9,493.4L560.3,497.2L555.1,497.7L549.9,496.7L539.5,497.2L534.3,500.3L529.9,505.5L533.4,506.4L536.3,508.1L534.8,511.6L535.1,515.9L530.8,519.7L526.5,523.7L522.1,525.8L518.7,526.3L516.6,528.1L516.1,530.7L512.6,531.5L514.3,533.3L515.9,536.7L515.2,539L511.7,540L510.5,539.3L511,535.9L508.3,534.5L508.3,531.5L503.1,532.4L501.7,529.3L497.9,532.1L495.6,532.4L497.5,535L501.3,534.7L503.9,535.9L500.5,537.3L498.4,539.3L500.8,542.8L502.7,544.9L502.7,546.6L503.1,548.9L501.3,551.5L498.7,555.8L495.3,558.4L492.7,560.3L488.3,561.3L484,562.9L482.6,564.8L481.7,562.7L478.8,562.6L476.5,564.5L475,567.1L477.1,570.5L480.2,574L481.1,578.3L480.5,580.1L477.1,582L473.9,584.9L473.3,582.7L470.1,580.9L469.3,578.9L466.5,576.8L464.9,576.8L464.4,580.1L463.5,583.5L465.5,586.1L467.5,588.2L470.1,590.5L471,593.1L472.2,597.4L471,597.7L467.2,595.1L465.6,591.3L465.3,588.7L462,586.1L462.3,582.7L462.5,579.2L460.9,574L460.6,571.4L457,572.6L455.1,572.3L455.4,568.8L453.7,565.7L451.1,562.7L449.3,561L445.9,562.2L442.4,562.7L441.5,565L438.9,566.2L434.3,571.4L430.6,573.1L430.6,577.5L429.9,582.1L428.5,583.9L427.1,584.6L425.9,586L424.2,584.4L422.5,580.1L421.3,577.5L419.9,574L418.1,569.7L417.8,566.2L417.6,563.6L416.9,562.7L413.8,563.9L411.2,561.3L413.5,560.1L410.3,559.3L407.7,557L406.9,556L399.1,556.3L393.9,556L390.7,555.3L389.7,553.2L386.1,553.9L382.6,552.2L379.7,549.7L378.3,547.7L376.2,547.5L374.8,548.3L376,550.6L378.3,553.7L378.6,555.8L380,557.4L381,555.1L381.2,557.9L385.2,558.1L389.2,554.6L389.5,557.5L393.2,559.1L395.3,561L393,564.5L391.8,567.4L387.5,569.7L382.1,572.3L376.5,575.4L369.6,577.8L367,578L365.8,574.3L365.3,571.4L362.3,567.1L359.4,562.7L358.3,558.7L356.1,556.1L352.3,551.5L352.1,548.9L350.9,551.8L349.8,550.9L348.1,548.2L347.6,545.9L350.9,545.7L352.1,543.7L353.1,541.2L354,537.9L354.3,536.6L351.6,536.2L348.8,537.4L344.6,536.2L342,536.4L339.1,535.9L337.2,533.6L338.1,531.5L337,530.5L336.7,529.6L333.2,529.3L332.9,530.7L331.3,529.8L330.8,531.5L332,533.8L333.2,534.7L331.5,535.3L331.6,536.7L330.3,536.7L329.2,536L328.3,534.5L328.2,533.4L326.8,531.9L325.2,529.8L325.4,527.5L323.7,526.3L319.3,524.6L317.9,523.2L316.7,521.7L315.2,521.8L315.3,520.8L312.9,521.5L313.1,523.4L315.2,524.6L316.2,526.7L319.3,527.4L319.3,528.2L323.7,530.3L323.5,531L321.1,529.8L320.2,531.2L321.2,532.4L320.2,533.6L318.8,534.1L319,532.4L318.1,530.7L315.9,529.3L313.3,528.1L310.7,526.5L309.3,524.6L307.2,523.2L304.6,524.1L302,525.3L299.7,524.8L297,525.3L297.1,527.4L293,528.9L291.6,531.2L291.3,532.7L290.4,534.7L288.1,536.2L283.8,536.4L281.9,537.6 M341.9,528.6L346.2,528.6L349.3,527.2L352.3,527.2L354.9,528.4L358.3,528.9L363.5,528.1L363.5,526L360.4,524.4L357.5,522.9L356.3,521.5L358,519.9L359.5,518.2L356.6,518.5L352.6,519.9L354.9,521.3L353.1,522L349.8,522.9L347.9,521.3L349.8,520.1L346.7,519.4L344.8,519.7L343.1,521.5L341.3,523.7L340,526L340.1,527.4L341.9,528.6 M0.4,486.3L3.9,485.3L7.3,484.7L11.7,485.1L8.2,483.9L7.3,482.1L3,481.4L9.1,479.5L14.3,477.8L20.3,476.4L28.1,477.3L35.1,478L43.7,478.5L48.9,479.4L55.9,480.6L61.1,479.5L68,478.7L74.9,479.7L81.9,479L88.8,480.4L92.3,482.1L100.9,482.3L104.4,481.8L107.9,480.7L114.8,482.5L121.7,482.5L123.5,481.3L126.1,482.1L125.2,479.5L128.7,475.5L132.1,478.7L134.7,481.3L139.1,480.7L142.5,483L149.5,481.3L150.7,483L147.7,485.3L142.5,485.6L140.8,488.2L135.6,489.1L130.4,492.5L127.8,496L127.8,498.1L131.3,501.2L135.6,501.2L144.3,504.1L148.9,504.3L149.5,508.1L151.2,510.7L153.5,511.3L155,509L153.8,505.5L158.1,502.9L159,500.3L155.9,498.3L157.3,496L156.4,492L163.3,492L170.3,494.3L171.1,497.7L174.6,498.9L178.1,496.3L179.8,495.5L184.1,500.3L185.9,503.3L191.1,505L194.5,508.1L194.9,510.7L190.2,511.3L187.6,513L180.7,512.8L175.8,513.3L171.1,516.8L168.5,518.9L172.9,516.3L178.9,514.7L180.1,515.9L178.9,517.7L179.8,519.9L185,520.6L187.6,520.3L185.9,521.7L181.5,522.7L177.2,524.6L177.2,522.9L179.8,521.1L175.5,522L172,523.7L169.4,524.9L168.9,526.3L170.3,527.7L167.7,528.2L163.3,529.5L163,531.5L160.7,533.3L159.9,535.9L160.4,538.3L158.1,540.2L155.5,541.4L151.2,544.9L150.3,548L152.4,552.3L152.6,555.8L151.2,556.3L148.3,552.2L148.1,549.7L146,548L143.4,548.5L139.1,547.5L136.5,548L136.8,549.7L133.9,549.4L129,548.5L126.9,549.7L123.5,551.5L122.6,555.8L122.1,561L123.5,564.5L125.2,567.1L127.8,568.5L132.1,567.6L134.7,564.5L135.6,563.3L140.8,562.7L139.9,567.1L138.5,569.7L137.7,572.3L142.5,572.4L146.9,573.5L146.9,578.3L146.5,580.9L148.6,583.5L151.2,584.7L153.8,583.5L157.3,584.9L156.6,587.5L155.5,585.3L153.3,584.9L152.4,587.3L148.1,585.8L146.5,584.7L143.4,582.7L141.7,579.2L139.9,577.1L135.6,576.1L131.6,574.7L127.8,571.9L123.5,572.6L118.3,570.7L112.2,568.3L108.7,565.3L108.7,561.9L105.3,557.5L101.8,554.9L99.2,551.5L95.7,546.6L92.6,544.9L93.1,548L96.6,552.3L100.1,557.5L101.5,560.1L97.5,556.7L93.1,551.5L90.5,547.1L88.5,543.5L86.2,541.1L82.6,540L80.1,536.2L78.4,533.3L76.1,530L76.3,525.5L76.7,519.9L75.5,516.1L78.4,516.5L79.3,517.7L78.4,515.1L74.9,513.3L70.6,510.7L69.7,508.1L65.7,505.2L62.8,502.1L59.3,499.1L55,498.6L49.8,496.3L42.9,496L38.5,494.6L34.2,495.1L31.6,496.9L28.1,496.9L29.9,494.3L25.5,496.9L23.8,499.5L18.6,501.7L13.4,503.8L9.1,505L12.5,502.9L16.9,500.3L18.6,498.1L13.4,498.1L10.8,497.2L9.9,495.5L4.7,494.3L5.6,491.7L9.1,490.5L12.5,489.6L12.5,488L6.5,488.2L3,487.3L0.4,486.3 M157.3,584.9L159.9,584.4L160.7,581.5L165.1,580.4L167.3,578.5L167.7,580.9L170.3,579.5L172.9,581.6L177.2,581.6L180.7,582L184.1,581.5L185.9,583.5L188.5,585.8L191.9,589.3L198,589.9L202,592.2L204.1,596.5L204.9,600L207.5,601.7L210.1,601.2L214.5,604L219.7,605L224.9,606.6L230.4,609.2L231.1,613L227.5,619.1L224.3,622.5L224,627.7L222.6,632.9L220.5,638.1L217.1,639.9L212.7,641.3L208.4,644.2L207.2,648.5L204.1,653.7L200.6,658.1L198,660.1L193.7,660.3L190.5,658.9L192.5,662.4L191.8,665.9L187.6,667.6L183.8,667.6L183.3,671.1L178.9,671.1L180.7,673.7L178.4,677.7L174.6,679.7L177.2,682.3L173.7,686.7L172,688.4L173,690.7L169.4,691.3L166.8,692.7L163.3,691L161.6,687.5L162.5,683.2L160.7,680.6L164.2,676.3L165.1,672.8L163.7,669.3L164.2,664.5L165.9,661.5L167.7,657.2L167.7,652L169.4,645.1L169.9,638.1L169.7,631.9L166.8,629.5L161.6,626.9L159.3,623.9L157.8,620.8L155,615.6L153.3,612.1L150.9,610.4L151.2,607.5L152.9,605.2L151.5,603.8L152.1,600.9L152.9,598.6L155,597.4L157.3,593.1L157.6,589.6L156.6,587.5 M172.7,691.2L169.4,692.7L166.8,693.9L170.3,695.7L175.5,695.9L178.6,694.8L175.5,693.6L173.2,691.9L172.7,691.2 M185.9,689.3L191.1,689.1L189.3,690.5L185.9,690.1L185.9,689.3 M225.7,693.6L229.2,694.5L227.5,694.1L225.7,693.6 M165.1,464.5L173.7,461.3L184.1,458.7L196.3,457.5L213.6,457L234.4,455.3L248.3,456.5L256.9,458.4L269.1,458.7L262.1,461.3L258.7,463.9L258.7,467.4L255.2,470.9L251.7,474.3L253.5,477.8L248.3,479.5L239.6,481.8L232.7,484.7L225.7,486.1L221.4,488.2L218.8,491.7L217.1,495.7L213.6,496L208.4,494.3L204.9,491.7L201.5,488.2L198.9,483.9L203.2,479.5L197.1,477.8L196.3,474.3L191.1,470L184.1,467.9L175.5,468.3L168.5,466.2L165.1,464.5 M250,486.5L253.5,484.9L260.4,485.3L265.6,485.1L268.2,487.3L265.6,488.7L259.5,490.1L252.6,489.4L253.5,487.7L250,486.5 M282.1,513.3L286.4,512.3L291.6,511.9L294,511.3L292.5,510.7L294.5,508.7L292.1,508.1L291.3,506.4L289,504.7L288.1,502.9L286.1,502.9L288.1,500L284.7,500L286.4,498.4L282.9,498.4L281.2,500.7L282.1,502.9L283.3,504.7L286.1,505L286.4,507.4L283.8,507.8L284.3,509.3L282.6,510.2L286.1,510.9L283.8,511.6L282.1,513.3 M281.2,509.5L280.9,507.3L281.9,505.4L279.5,504.1L276.9,505L274.3,506.1L275.1,508.1L273.7,509.9L275.1,510.7L278.6,509.9L281.2,509.5 M488.3,638.1L489.2,645.1L490.9,652L490.9,658.1L492.7,660.7L497,660.7L501.3,658.6L506.5,657.2L511.7,655.8L516.1,654.8L520.4,655.5L524.7,657.2L526.5,660.3L529.1,658.1L530.5,656.5L530.5,659.8L531.7,661.5L533.4,662.4L535.1,665.9L540.3,667.3L542.9,666.2L545.5,667.6L548.1,665.7L551.6,664.7L552.1,661.5L553.9,658.1L556.5,654.6L557.7,649.4L556.8,644.2L553.3,640.7L550.7,638.1L548.1,634.7L545,632.9L543.8,628.6L542.9,625.7L540.3,624.3L538.6,618.7L537,622.5L536.9,626.9L535.1,630.3L532.5,630L529.9,627.7L527,626L527.3,622.5L528.5,621.1L524.7,620.8L521.3,619.6L518.7,621.3L516.6,625.7L513.5,625.7L510.9,624.3L508.3,626.9L505.7,629.5L503.4,631.2L502.2,633.8L497.9,634.7L493.5,635.9L490.1,637.6L488.3,638.1 M542.4,670.5L545.5,671.2L548.7,670.9L548.5,673.7L546.4,675.6L544.7,675.4L543.3,673.3L542.4,670.5 M590.9,659.6L593.7,662.1L595.8,663.6L596.7,665.2L600.7,665.3L599.3,668.1L598.2,669.9L595.5,672.1L594.6,671.6L595.3,669.7L592.9,668.1L594.4,665.9L594.1,663.3L591.8,661L590.9,659.6 M590.9,670.4L593.5,671.6L592.3,674.5L590.6,675.9L588.5,677L587.7,679.6L585.4,680.8L583.3,680.6L580.4,679.7L581.1,678L583.7,676.3L587.1,674.5L588.9,672.5L590.9,670.4 M518.7,601.4L521.3,600.7L523.9,601.4L524.4,604.3L526.5,605.7L529.9,602.9L533.4,603.8L536,604.5L542.1,606.8L544.3,608.7L547.3,610.4L547.8,612.1L549,615.6L552.5,617.9L549.9,617.9L546.4,616.5L544.7,614.2L542.1,613.3L540.3,614.7L538.6,615.9L536,615.8L532.5,614L530.8,614.6L532.2,612.1L530.8,609.5L527,607.8L523,606.6L521.8,606.9L520.4,605L523,604.3L520.9,603.8L518.7,601.4 M549,609.5L552.5,609.5L555.4,607.3L554.2,609.5L550.7,610.7L549,609.5 M560.3,610.4L562.9,613L561.1,611.8L560.3,610.4 M567.2,614.2L570.7,617L568.9,616.5L567.2,614.2 M580.4,626L581.6,628.1L580.7,627L580.4,626 M575.9,634.7L579.3,637.3L581.1,638.7L578.5,637.4L575.9,634.7 M598.9,630.3L601,630.3L600.7,631.5L598.9,631.2L598.9,630.3 M480.5,597.4L481.6,596.5L484.5,595.7L487.5,594.3L490.1,591.9L492.7,588.7L494.4,587.9L495.6,589.6L497.9,591L496.1,592.4L495.6,594.8L496.1,597.4L495.6,599.1L495.3,601.4L493.5,602.6L492.7,606.2L490.4,606.9L487.5,605.5L485.2,605.7L482.6,605L482.3,602.6L480.5,600.5L480.5,597.4 M456.8,590.3L460.6,591L462,592.7L464.9,595.5L467.5,596.5L471,600L471.9,602.1L475.3,605.2L475,610.1L472.9,610.1L468.9,606.9L466.7,604.5L465.5,601.4L463.2,599.1L462.7,597.1L460.6,595.1L458,593.1L456.8,590.3 M473.9,611.8L476.7,610.4L479.7,611.6L483.7,611.1L486.9,612L490.1,613.5L489.9,615.1L485.7,614.6L481.4,613.5L477.9,613.3L476,612.8L473.9,611.8 M491.8,614.4L494.4,614.6L497.9,614.7L497,615.4L492.7,615.4L491.8,614.4 M499.3,614.7L504.5,614.4L503.9,615.3L499.6,615.4L499.3,614.7 M505.7,617.9L508.3,615.9L511.7,614.6L510,616.1L506.5,617.9L505.7,617.9 M499.3,598.6L501,597.7L504.8,598.4L508.3,597.2L507.4,599.3L502.2,599.1L499.9,601.6L502.4,601.6L505.3,601.6L502.7,603.3L503.6,605.7L504.8,607.5L503.4,608.3L502.2,606.9L501.2,604.7L500.3,606.9L500.3,609.5L498.7,609.5L498.7,606.1L497.5,604.9L499.3,598.6 M512.6,596.5L514.3,597.4L513.5,599.1L514.3,601.2L513.1,600L512.6,598.3L512.6,596.5 M513.5,605.2L518.3,605.7L516.1,606.1L513.5,605.9L513.5,605.2 M500.6,567.9L503.4,568.1L503.6,571.4L502.2,574L503.9,575.7L506.5,577.5L506.5,578.2L503.9,576.6L501.3,576.3L500.6,574.9L499.6,572.6L500.1,570L500.6,567.9 M503.1,587.9L505.7,585.1L509,583.2L510.9,586.1L510.3,589.1L509.1,590.1L506.9,589.1L506.5,587L503.9,587L503.1,587.9 M503.1,581.8L504.8,579.7L505.3,582.7L503.9,583.5L503.1,581.8 M507.1,578.3L509.1,578.7L509.3,580.9L507.9,582.3L507.2,580.4L507.1,578.3 M494.7,585.4L498.7,581.8L498.4,580.4L496.1,583L494.7,585.4 M500.5,576.8L502,577.1L501.7,578.7L500.5,576.8 M501.3,556.3L502.9,557L501,561.9L499.8,560.1L501.3,556.3 M480,566.7L482.3,565.3L484,566L482.3,568.3L480,567.8L480,566.7 M430.1,583.2L432.3,585.3L433.4,587.9L432,589.4L430.3,589.6L429.7,586.1L430.1,583.2 M518.5,541.1L521.3,538.6L527,538.3L528.7,535.5L531.7,535.2L533.9,532.4L534.3,529.6L536.5,528.2L537.4,531L536,533.6L535.7,536.2L534.6,538.8L532.2,539.9L529.1,540L527,541.9L525.8,540.2L522.1,540.5L518.7,541.2L518.5,541.1 M516.9,541.9L519.9,541.6L520.1,543.7L518.1,546.3L517.3,545.6L517.3,543.5L516.4,542.8L516.9,541.9 M521.3,541.2L524.7,540.7L524.2,542.1L522.1,543.1L521.3,541.2 M534.8,528.1L536.3,526.3L540,527.2L543.8,524.9L542.1,523.7L537.7,521.1L537,523.7L536.5,525.1L534.8,526.3L534.8,528.1 M537.7,520.3L540.3,518.9L538.9,517.7L539.5,514.7L542.1,515.1L540,512.5L540,509L539.1,505.9L537.7,507.3L537.4,510.7L537.9,514.2L537.7,517.1L537.7,520.3 M544.7,522.9L549,521.1L551.6,519.9 M555.1,518.2L558.5,515.1L561.1,512.8 M380.9,476.1L384.3,477.3L391.3,477.5L387.8,475.2L388.7,472.6L393,470.9L399.1,468.6L410.3,466.9L409.5,468.1L397.3,469.7L392.1,472.1L386.9,473.5L381.7,475.2L380.9,476.1 M310.7,462.2L315.9,465.7L321.1,467.2L324.5,463.9L329.7,464.3L328,462.2L338.4,461.2L326.3,460.5L319.3,461.3L310.7,462.2 M373.1,460.3L381.7,460.8L380,459.8L373.1,460.3 M385.2,460.5L392.1,461L399.1,460.3L404.3,459.6L392.1,459.3L385.2,460.5 M456.3,463.1L464.9,464.8L473.6,463.9L471.9,462.2L464.9,460.5L458,459.6L451.1,461.3L456.3,463.1 M529.1,469.5L539.5,470L551.6,469.7L544.7,468.3L534.3,468.3L529.1,469.5 M534.3,472.8L539.5,473.1L536.9,471.9L534.3,472.8 M601,476.9L607.1,476.1L604.5,477.1L601,476.9 M313.3,534.1L318.5,533.8L317.8,536.4L313.3,534.8L313.3,534.1 M305.8,528.9L308.4,528.9L308.2,532.1L306.3,532.4L305.8,528.9 M306.5,526.3L308.1,525.5L307.9,528.1L306.5,526.3 M332.3,538.5L337.2,539L334.1,539.3L332.3,538.5 M347.6,539.3L351.4,538.3L350,539.9L347.6,539.3 M144.3,562.2L148.6,560.1L152.9,560.1L158.1,562.7L163,565L157.3,565.5L156.4,564.1L152.1,562.2L149.5,561.3L146,561.9L144.3,562.2 M162.6,567.9L165.1,565.5L170.3,565.7L173,567.8L170.3,568.3L167.7,569.1L165.9,568.5L162.6,567.9 M155.9,568.3L159.3,568.8L157.3,569.1L155.9,568.3 M175.1,568.1L177.9,568.3L175.1,568.8L175.1,568.1 M156.4,554.1L158.1,554.4L157.6,556.7L156.4,557.9 M159.9,558.4L161.6,559.8L164.2,561 M184.5,581.5L185.9,581.5L185.5,582.5L184.5,581.5 M188.8,517.5L194.5,510.7L195.4,514.2L199.7,515.9L199.7,519.1L194.5,518.5L188.8,517.5 M69.2,512.1L74.9,513.3L77.5,516.1L74.1,515.4L69.2,512.1 M61.1,506.4L63.1,506.7L63.7,509L61.9,508.1L61.1,506.4 M24.7,499.8L27.6,500.2L25.5,501.2L24.7,499.8 M5.6,505.9L0.4,507.3L-4.8,508.8L-10,509.5L-15.2,510.2 M600.1,510.2L594.9,509.3L591.5,508.5 M-5.7,489.9L-1.3,490.5L-3.1,489.6L-5.7,489.9 M2.1,495.7L4.2,496L3,496.3L2.1,495.7 M152.9,472.3L159.9,473.8L166.8,476.1L173.7,478.7L175.5,481.3L184.1,484.2L180.7,487.3L178.9,491.1L173.7,489.9L166.8,488.7L156.4,488L163.3,485.6L165.1,482.1L156.4,478.7L144.3,478.7L137.3,476.1L144.3,472.6L152.9,472.3 M88.8,476.1L97.5,473.8L109.6,473.5L116.5,476.1L114.8,479L106.1,480.6L95.7,481.3L88.8,479L88.8,476.1 M74.9,475.2L81.9,470.9L92.3,472.6L83.6,476.6L74.9,475.2 M135.6,467.4L152.9,467.7L161.6,463.9L184.1,457L170.3,456L144.3,457.3L132.1,459.6L140.8,463.1L135.6,467.4 M125.2,469.1L135.6,470.9L152.9,470.5L151.2,468.6L137.3,467.4L125.2,469.1 M88.8,469.7L100.9,470.9L109.6,469.7L100.9,467.4L88.8,468.3L88.8,469.7 M111.3,469.1L121.7,470L121.7,467.4L113.1,467.4L111.3,469.1 M140.8,486.5L146,486.8L151.2,489.4L144.3,490.8L140.8,489.1L140.8,486.5 M114.8,473.5L123.5,472.1L130.4,471.7L132.1,474.3L123.5,476.1L114.8,475.2L114.8,473.5 M119.1,480.1L123.5,479L126.1,480.4L121.7,480.9L119.1,480.1 M125.2,461.3L135.6,460.5L140.8,462.2L128.7,463.9L125.2,461.3 M78.4,468.3L87.1,465.7L90.5,467.4L81.9,468.6L78.4,468.3 M109.6,464.8L120,463.4L123.5,465.1L113.1,465.7L109.6,464.8 M179.8,513.5L184.1,514.5L181.5,514.7L179.8,513.5 M376.5,519.4L380,518.5L383.5,519.4L382.6,521.5L380,522.9L379.1,525.5L382.6,528.1L385.2,529.8L384.3,532.4L385.2,535.3L381.7,536.4L378.3,535.2L376.5,533.3L377.4,529.8L374.8,527.2L373.1,523.7L374.8,520.3L376.5,519.4 M393,519.4L398.2,519.4L397.3,522.9L393.9,524.1L392.7,522L393,519.4 M419,521.1L423.3,519.1L428.5,519.4L423.3,519.7L419,521.1 M471.9,510.7L475.3,509L479.7,506.4L482.3,503.5L480.5,504.7L477.9,508.1L473.6,510.4L471.9,510.7 M347.1,599.1L350.5,599.7L350.5,603.5L348.5,604.7L346.7,602.6L347.1,599.1 M342.4,605.9L343.3,609.5L345,614.7L344.1,614.4L342.2,609.5L342.4,605.9 M350.5,616.5L351.7,619.9L352.3,624.3L351.4,624.3L350.9,619.9L350.5,616.5 M132.1,519.1L136.5,516.8L139.1,515.4L144.3,517.1L145.1,519.4L140.8,519.4L135.6,519.2L132.1,519.1 M139.4,527.2L142,526.3L142.5,522.9L144.3,520.6L146,520.3L150.3,520.3L152.9,522.3L150.3,525.1L148.6,525.5L146.9,523.7L147.2,521.5L144.6,520.6L143.1,522L140.8,521.1L139.1,522.9L139.9,525.5L139.4,527.2 M147.2,527.5L151.2,526.3L154.7,525.8L152.9,526.9L148.6,528.1L147.2,527.5 M153.5,524.9L158.1,524.9L159.3,523.7L156.4,523.9L153.5,524.9 M120,507.3L121.7,509.9L124.3,512.5L123.5,509.9L121.7,506.7L120,507.3 M78.4,485.6L83.6,483.9L87.1,485.6L81.9,487.3L78.4,485.6 M88.8,494.3L94,491.7L100.9,491.7L95.7,493.4L88.8,494.3 M21.2,567.1L22.9,566.2L21.5,565L21.2,567.1 M20,563.9L17.7,562.7L15.1,561.9 M410.9,684.9L413.8,685.3L412.1,686.1L410.9,684.9 M387.5,636.4L388.3,636.7L387.8,636.9L387.5,636.4 M391.1,635L391.8,635.2L391.3,635.5L391.1,635 M384,578.2L386.1,578.3L384.9,578.7L384,578.2 M288.1,723.1L305.5,722.2L322.8,721.3L340.1,720.5L348.8,718.7L357.5,719.6L366.1,717.9L378.3,714.4L392.1,716.1L409.5,717.9L412.9,721.3L423.3,719.6L435.5,716.1L461.5,714.4L478.8,714.4L496.1,715.3L513.5,714.4L530.8,715.3L548.1,717.9L565.5,720.5L582.8,722.2L588,723.9L579.3,727.4L572.4,731.7L575.9,735.2L568.9,738.7L572.4,742.1L600.1,744.7L634.8,747.3L660.8,748.2L648.7,742.1L652.1,738.7L646.9,736.1L640,734.3L669.5,731.7L686.8,730L704.1,727.4L712.8,729.1L730.1,729.1L747.5,724.8L756.1,725.7L782.1,726.5L785.6,722.2L787.3,721.3L797.7,716.1L808.1,710.9L818.5,709.2L808.1,712.7L802.9,717.9L808.1,721.3L809.9,726.5L799.5,733.5L825.5,736.1L851.5,736.1L868.8,731.7L886.1,726.5L903.5,722.2L912.1,723.1"/>
<path transform="translate(624,0)" d="M281.4,537.9L288.1,539.2L291.6,537.9L296.8,536.2L305.5,535.9L308.9,535.5L310.7,535.9L309.3,540.5L310.7,542.5L317.6,543.8L324.5,547.5L326.3,546.3L326.3,543.7L331.5,543.5L334.9,545.2L341.9,546.3L345.3,545.4L347.6,545.9L348.1,548.2L349.7,551.5L352.3,558.4L355.7,563.6L356.3,567.6L359.2,573.1L362.7,576.6L366.1,578.5L366.7,580.1L369.6,581.8L374.8,580.6L380.3,579.5L379.7,583.5L374.8,591.3L369.6,596.5L364.4,601.7L360.9,605.2L359.2,610.4L360.1,615.6L361.8,619.1L361.8,626L357.5,630.3L352.3,634.7L352.8,640.7L348.8,644.2L348.5,648.5L344.5,653.7L338.4,658.6L329.7,659.3L326.3,660.3L323.5,658.9L322.8,655.5L320.2,649.4L317.6,645.1L316.7,638.1L312.4,629.5L315,620.8L312.9,610.4L307.2,601.7L308.1,593.9L305.5,592.2L300.3,589.9L293.3,589.9L288.1,591.7L282.9,591.3L278.6,592.4L274.3,589.6L269.1,585.3L265.6,580.9L262.1,574.5L263,567.1L262.1,563.6L263.9,558.4L266.5,554.9L269.1,552L274.3,548.9L274.8,545.4L279.5,541.1L281.4,537.9 M377.1,620.8L379,626.9L377.4,631.2L373.9,643.3L369.6,644.2L367,640.7L368.4,634.7L367.9,629.5L372.2,626.9L374.8,623.4L377.1,620.8 M281.9,537.6L280.5,536.2L278.8,535.5L276.2,535.9L275.5,532.9L276.3,528.9L275.7,525.5L277.7,524.3L284.7,524.8L288.5,524.8L289.5,520.3L287.3,518L283.5,516.8L283.6,515.8L288.8,515.6L288.5,513.9L291.9,514.2L294.4,512.8L295.9,511.4L298.5,509.9L300.3,507.8L303.7,507.1L306.5,506.4L305.8,503.6L305.8,501.2L309.8,500L309.5,502.1L308.6,504.7L310.3,506.4L313.3,505.7L316.2,506.4L320.2,505.5L323.7,505L325.9,505.7L328,503.8L328,501.2L330.6,500L333.7,500.9L332.3,498.6L332.3,497.4L338.4,496.9L343.6,496L341,495L334.9,495.7L330.6,496L328.5,494.3L328.5,491.7L334.1,487.7L335.5,486.5L330.3,485.9L328.5,488.2L322.5,491.7L321.4,494.3L324.2,496L320.5,500.3L319.3,502.6L316.4,503.8L314.1,504L313.6,502.6L311,498.6L310,497.2L308.1,498.1L305.5,499.3L302,498.6L300.3,496L300.3,492.5L303.7,490.8L308.9,489.1L312.4,485.6L315.9,482.1L319.3,480.4L324.5,478.7L331.5,476.9L336.7,476.9L341,476.9L345.3,478.1L343.6,479.2L348.8,479.7L354,480.1L362.7,482.1L362.7,484.4L357.5,485.4L350.5,484.4L352.3,488.2L357.5,489.1L360.9,488L361.8,485.6L366.1,484.9L367.9,485.4L367.9,482.1L372.2,482.1L371.3,484.2L374.8,482.8L383.5,480.7L385.2,481.8L393.9,480.7L397.3,479L403.4,480.1L407.7,480.7L411.2,481.3L407.7,479.5L407.7,476.9L411.2,473.5L417.3,474L418.1,476.9L416.4,481.3L419,484.2L414.7,485.1L418.1,485.3L421.6,482.5L419.9,480.7L421.6,475.5L425.1,475.2L426.8,476.1L430.3,475.2L432,472.6L441.5,472.1L442.4,470L449.3,468.8L461.5,467.9L471.9,465.3L477.1,466.9L485.7,467.2L488.3,469.1L482.3,471.7L487.5,472.1L496.1,472.6L506.5,472.3L511.7,474.3L516.1,476.9L522.1,476.1L529.1,476.1L534.3,474L544.7,474.5L551.6,476.1L555.1,476.9L567.2,477.3L568.9,479.2L582.8,479L587.1,480.4L588,478.7L596.7,479L603.6,480.4L612.3,483L620.9,485.3L616.6,488.2L610.5,486.8L605.3,486.5L603.6,487.3L601,488.2L599.3,491.7L593.2,492.9L587.1,496L579.3,496L575,499.5L572.4,502.1L574.1,504.7L568.9,508.1L566.3,511.6L563.2,511.6L561.5,506.4L562,501.2L567.2,497.7L574.1,493.4L575.9,491.7L568.9,493.1L562.9,493.4L560.3,497.2L555.1,497.7L549.9,496.7L539.5,497.2L534.3,500.3L529.9,505.5L533.4,506.4L536.3,508.1L534.8,511.6L535.1,515.9L530.8,519.7L526.5,523.7L522.1,525.8L518.7,526.3L516.6,528.1L516.1,530.7L512.6,531.5L514.3,533.3L515.9,536.7L515.2,539L511.7,540L510.5,539.3L511,535.9L508.3,534.5L508.3,531.5L503.1,532.4L501.7,529.3L497.9,532.1L495.6,532.4L497.5,535L501.3,534.7L503.9,535.9L500.5,537.3L498.4,539.3L500.8,542.8L502.7,544.9L502.7,546.6L503.1,548.9L501.3,551.5L498.7,555.8L495.3,558.4L492.7,560.3L488.3,561.3L484,562.9L482.6,564.8L481.7,562.7L478.8,562.6L476.5,564.5L475,567.1L477.1,570.5L480.2,574L481.1,578.3L480.5,580.1L477.1,582L473.9,584.9L473.3,582.7L470.1,580.9L469.3,578.9L466.5,576.8L464.9,576.8L464.4,580.1L463.5,583.5L465.5,586.1L467.5,588.2L470.1,590.5L471,593.1L472.2,597.4L471,597.7L467.2,595.1L465.6,591.3L465.3,588.7L462,586.1L462.3,582.7L462.5,579.2L460.9,574L460.6,571.4L457,572.6L455.1,572.3L455.4,568.8L453.7,565.7L451.1,562.7L449.3,561L445.9,562.2L442.4,562.7L441.5,565L438.9,566.2L434.3,571.4L430.6,573.1L430.6,577.5L429.9,582.1L428.5,583.9L427.1,584.6L425.9,586L424.2,584.4L422.5,580.1L421.3,577.5L419.9,574L418.1,569.7L417.8,566.2L417.6,563.6L416.9,562.7L413.8,563.9L411.2,561.3L413.5,560.1L410.3,559.3L407.7,557L406.9,556L399.1,556.3L393.9,556L390.7,555.3L389.7,553.2L386.1,553.9L382.6,552.2L379.7,549.7L378.3,547.7L376.2,547.5L374.8,548.3L376,550.6L378.3,553.7L378.6,555.8L380,557.4L381,555.1L381.2,557.9L385.2,558.1L389.2,554.6L389.5,557.5L393.2,559.1L395.3,561L393,564.5L391.8,567.4L387.5,569.7L382.1,572.3L376.5,575.4L369.6,577.8L367,578L365.8,574.3L365.3,571.4L362.3,567.1L359.4,562.7L358.3,558.7L356.1,556.1L352.3,551.5L352.1,548.9L350.9,551.8L349.8,550.9L348.1,548.2L347.6,545.9L350.9,545.7L352.1,543.7L353.1,541.2L354,537.9L354.3,536.6L351.6,536.2L348.8,537.4L344.6,536.2L342,536.4L339.1,535.9L337.2,533.6L338.1,531.5L337,530.5L336.7,529.6L333.2,529.3L332.9,530.7L331.3,529.8L330.8,531.5L332,533.8L333.2,534.7L331.5,535.3L331.6,536.7L330.3,536.7L329.2,536L328.3,534.5L328.2,533.4L326.8,531.9L325.2,529.8L325.4,527.5L323.7,526.3L319.3,524.6L317.9,523.2L316.7,521.7L315.2,521.8L315.3,520.8L312.9,521.5L313.1,523.4L315.2,524.6L316.2,526.7L319.3,527.4L319.3,528.2L323.7,530.3L323.5,531L321.1,529.8L320.2,531.2L321.2,532.4L320.2,533.6L318.8,534.1L319,532.4L318.1,530.7L315.9,529.3L313.3,528.1L310.7,526.5L309.3,524.6L307.2,523.2L304.6,524.1L302,525.3L299.7,524.8L297,525.3L297.1,527.4L293,528.9L291.6,531.2L291.3,532.7L290.4,534.7L288.1,536.2L283.8,536.4L281.9,537.6 M341.9,528.6L346.2,528.6L349.3,527.2L352.3,527.2L354.9,528.4L358.3,528.9L363.5,528.1L363.5,526L360.4,524.4L357.5,522.9L356.3,521.5L358,519.9L359.5,518.2L356.6,518.5L352.6,519.9L354.9,521.3L353.1,522L349.8,522.9L347.9,521.3L349.8,520.1L346.7,519.4L344.8,519.7L343.1,521.5L341.3,523.7L340,526L340.1,527.4L341.9,528.6 M0.4,486.3L3.9,485.3L7.3,484.7L11.7,485.1L8.2,483.9L7.3,482.1L3,481.4L9.1,479.5L14.3,477.8L20.3,476.4L28.1,477.3L35.1,478L43.7,478.5L48.9,479.4L55.9,480.6L61.1,479.5L68,478.7L74.9,479.7L81.9,479L88.8,480.4L92.3,482.1L100.9,482.3L104.4,481.8L107.9,480.7L114.8,482.5L121.7,482.5L123.5,481.3L126.1,482.1L125.2,479.5L128.7,475.5L132.1,478.7L134.7,481.3L139.1,480.7L142.5,483L149.5,481.3L150.7,483L147.7,485.3L142.5,485.6L140.8,488.2L135.6,489.1L130.4,492.5L127.8,496L127.8,498.1L131.3,501.2L135.6,501.2L144.3,504.1L148.9,504.3L149.5,508.1L151.2,510.7L153.5,511.3L155,509L153.8,505.5L158.1,502.9L159,500.3L155.9,498.3L157.3,496L156.4,492L163.3,492L170.3,494.3L171.1,497.7L174.6,498.9L178.1,496.3L179.8,495.5L184.1,500.3L185.9,503.3L191.1,505L194.5,508.1L194.9,510.7L190.2,511.3L187.6,513L180.7,512.8L175.8,513.3L171.1,516.8L168.5,518.9L172.9,516.3L178.9,514.7L180.1,515.9L178.9,517.7L179.8,519.9L185,520.6L187.6,520.3L185.9,521.7L181.5,522.7L177.2,524.6L177.2,522.9L179.8,521.1L175.5,522L172,523.7L169.4,524.9L168.9,526.3L170.3,527.7L167.7,528.2L163.3,529.5L163,531.5L160.7,533.3L159.9,535.9L160.4,538.3L158.1,540.2L155.5,541.4L151.2,544.9L150.3,548L152.4,552.3L152.6,555.8L151.2,556.3L148.3,552.2L148.1,549.7L146,548L143.4,548.5L139.1,547.5L136.5,548L136.8,549.7L133.9,549.4L129,548.5L126.9,549.7L123.5,551.5L122.6,555.8L122.1,561L123.5,564.5L125.2,567.1L127.8,568.5L132.1,567.6L134.7,564.5L135.6,563.3L140.8,562.7L139.9,567.1L138.5,569.7L137.7,572.3L142.5,572.4L146.9,573.5L146.9,578.3L146.5,580.9L148.6,583.5L151.2,584.7L153.8,583.5L157.3,584.9L156.6,587.5L155.5,585.3L153.3,584.9L152.4,587.3L148.1,585.8L146.5,584.7L143.4,582.7L141.7,579.2L139.9,577.1L135.6,576.1L131.6,574.7L127.8,571.9L123.5,572.6L118.3,570.7L112.2,568.3L108.7,565.3L108.7,561.9L105.3,557.5L101.8,554.9L99.2,551.5L95.7,546.6L92.6,544.9L93.1,548L96.6,552.3L100.1,557.5L101.5,560.1L97.5,556.7L93.1,551.5L90.5,547.1L88.5,543.5L86.2,541.1L82.6,540L80.1,536.2L78.4,533.3L76.1,530L76.3,525.5L76.7,519.9L75.5,516.1L78.4,516.5L79.3,517.7L78.4,515.1L74.9,513.3L70.6,510.7L69.7,508.1L65.7,505.2L62.8,502.1L59.3,499.1L55,498.6L49.8,496.3L42.9,496L38.5,494.6L34.2,495.1L31.6,496.9L28.1,496.9L29.9,494.3L25.5,496.9L23.8,499.5L18.6,501.7L13.4,503.8L9.1,505L12.5,502.9L16.9,500.3L18.6,498.1L13.4,498.1L10.8,497.2L9.9,495.5L4.7,494.3L5.6,491.7L9.1,490.5L12.5,489.6L12.5,488L6.5,488.2L3,487.3L0.4,486.3 M157.3,584.9L159.9,584.4L160.7,581.5L165.1,580.4L167.3,578.5L167.7,580.9L170.3,579.5L172.9,581.6L177.2,581.6L180.7,582L184.1,581.5L185.9,583.5L188.5,585.8L191.9,589.3L198,589.9L202,592.2L204.1,596.5L204.9,600L207.5,601.7L210.1,601.2L214.5,604L219.7,605L224.9,606.6L230.4,609.2L231.1,613L227.5,619.1L224.3,622.5L224,627.7L222.6,632.9L220.5,638.1L217.1,639.9L212.7,641.3L208.4,644.2L207.2,648.5L204.1,653.7L200.6,658.1L198,660.1L193.7,660.3L190.5,658.9L192.5,662.4L191.8,665.9L187.6,667.6L183.8,667.6L183.3,671.1L178.9,671.1L180.7,673.7L178.4,677.7L174.6,679.7L177.2,682.3L173.7,686.7L172,688.4L173,690.7L169.4,691.3L166.8,692.7L163.3,691L161.6,687.5L162.5,683.2L160.7,680.6L164.2,676.3L165.1,672.8L163.7,669.3L164.2,664.5L165.9,661.5L167.7,657.2L167.7,652L169.4,645.1L169.9,638.1L169.7,631.9L166.8,629.5L161.6,626.9L159.3,623.9L157.8,620.8L155,615.6L153.3,612.1L150.9,610.4L151.2,607.5L152.9,605.2L151.5,603.8L152.1,600.9L152.9,598.6L155,597.4L157.3,593.1L157.6,589.6L156.6,587.5 M172.7,691.2L169.4,692.7L166.8,693.9L170.3,695.7L175.5,695.9L178.6,694.8L175.5,693.6L173.2,691.9L172.7,691.2 M185.9,689.3L191.1,689.1L189.3,690.5L185.9,690.1L185.9,689.3 M225.7,693.6L229.2,694.5L227.5,694.1L225.7,693.6 M165.1,464.5L173.7,461.3L184.1,458.7L196.3,457.5L213.6,457L234.4,455.3L248.3,456.5L256.9,458.4L269.1,458.7L262.1,461.3L258.7,463.9L258.7,467.4L255.2,470.9L251.7,474.3L253.5,477.8L248.3,479.5L239.6,481.8L232.7,484.7L225.7,486.1L221.4,488.2L218.8,491.7L217.1,495.7L213.6,496L208.4,494.3L204.9,491.7L201.5,488.2L198.9,483.9L203.2,479.5L197.1,477.8L196.3,474.3L191.1,470L184.1,467.9L175.5,468.3L168.5,466.2L165.1,464.5 M250,486.5L253.5,484.9L260.4,485.3L265.6,485.1L268.2,487.3L265.6,488.7L259.5,490.1L252.6,489.4L253.5,487.7L250,486.5 M282.1,513.3L286.4,512.3L291.6,511.9L294,511.3L292.5,510.7L294.5,508.7L292.1,508.1L291.3,506.4L289,504.7L288.1,502.9L286.1,502.9L288.1,500L284.7,500L286.4,498.4L282.9,498.4L281.2,500.7L282.1,502.9L283.3,504.7L286.1,505L286.4,507.4L283.8,507.8L284.3,509.3L282.6,510.2L286.1,510.9L283.8,511.6L282.1,513.3 M281.2,509.5L280.9,507.3L281.9,505.4L279.5,504.1L276.9,505L274.3,506.1L275.1,508.1L273.7,509.9L275.1,510.7L278.6,509.9L281.2,509.5 M488.3,638.1L489.2,645.1L490.9,652L490.9,658.1L492.7,660.7L497,660.7L501.3,658.6L506.5,657.2L511.7,655.8L516.1,654.8L520.4,655.5L524.7,657.2L526.5,660.3L529.1,658.1L530.5,656.5L530.5,659.8L531.7,661.5L533.4,662.4L535.1,665.9L540.3,667.3L542.9,666.2L545.5,667.6L548.1,665.7L551.6,664.7L552.1,661.5L553.9,658.1L556.5,654.6L557.7,649.4L556.8,644.2L553.3,640.7L550.7,638.1L548.1,634.7L545,632.9L543.8,628.6L542.9,625.7L540.3,624.3L538.6,618.7L537,622.5L536.9,626.9L535.1,630.3L532.5,630L529.9,627.7L527,626L527.3,622.5L528.5,621.1L524.7,620.8L521.3,619.6L518.7,621.3L516.6,625.7L513.5,625.7L510.9,624.3L508.3,626.9L505.7,629.5L503.4,631.2L502.2,633.8L497.9,634.7L493.5,635.9L490.1,637.6L488.3,638.1 M542.4,670.5L545.5,671.2L548.7,670.9L548.5,673.7L546.4,675.6L544.7,675.4L543.3,673.3L542.4,670.5 M590.9,659.6L593.7,662.1L595.8,663.6L596.7,665.2L600.7,665.3L599.3,668.1L598.2,669.9L595.5,672.1L594.6,671.6L595.3,669.7L592.9,668.1L594.4,665.9L594.1,663.3L591.8,661L590.9,659.6 M590.9,670.4L593.5,671.6L592.3,674.5L590.6,675.9L588.5,677L587.7,679.6L585.4,680.8L583.3,680.6L580.4,679.7L581.1,678L583.7,676.3L587.1,674.5L588.9,672.5L590.9,670.4 M518.7,601.4L521.3,600.7L523.9,601.4L524.4,604.3L526.5,605.7L529.9,602.9L533.4,603.8L536,604.5L542.1,606.8L544.3,608.7L547.3,610.4L547.8,612.1L549,615.6L552.5,617.9L549.9,617.9L546.4,616.5L544.7,614.2L542.1,613.3L540.3,614.7L538.6,615.9L536,615.8L532.5,614L530.8,614.6L532.2,612.1L530.8,609.5L527,607.8L523,606.6L521.8,606.9L520.4,605L523,604.3L520.9,603.8L518.7,601.4 M549,609.5L552.5,609.5L555.4,607.3L554.2,609.5L550.7,610.7L549,609.5 M560.3,610.4L562.9,613L561.1,611.8L560.3,610.4 M567.2,614.2L570.7,617L568.9,616.5L567.2,614.2 M580.4,626L581.6,628.1L580.7,627L580.4,626 M575.9,634.7L579.3,637.3L581.1,638.7L578.5,637.4L575.9,634.7 M598.9,630.3L601,630.3L600.7,631.5L598.9,631.2L598.9,630.3 M480.5,597.4L481.6,596.5L484.5,595.7L487.5,594.3L490.1,591.9L492.7,588.7L494.4,587.9L495.6,589.6L497.9,591L496.1,592.4L495.6,594.8L496.1,597.4L495.6,599.1L495.3,601.4L493.5,602.6L492.7,606.2L490.4,606.9L487.5,605.5L485.2,605.7L482.6,605L482.3,602.6L480.5,600.5L480.5,597.4 M456.8,590.3L460.6,591L462,592.7L464.9,595.5L467.5,596.5L471,600L471.9,602.1L475.3,605.2L475,610.1L472.9,610.1L468.9,606.9L466.7,604.5L465.5,601.4L463.2,599.1L462.7,597.1L460.6,595.1L458,593.1L456.8,590.3 M473.9,611.8L476.7,610.4L479.7,611.6L483.7,611.1L486.9,612L490.1,613.5L489.9,615.1L485.7,614.6L481.4,613.5L477.9,613.3L476,612.8L473.9,611.8 M491.8,614.4L494.4,614.6L497.9,614.7L497,615.4L492.7,615.4L491.8,614.4 M499.3,614.7L504.5,614.4L503.9,615.3L499.6,615.4L499.3,614.7 M505.7,617.9L508.3,615.9L511.7,614.6L510,616.1L506.5,617.9L505.7,617.9 M499.3,598.6L501,597.7L504.8,598.4L508.3,597.2L507.4,599.3L502.2,599.1L499.9,601.6L502.4,601.6L505.3,601.6L502.7,603.3L503.6,605.7L504.8,607.5L503.4,608.3L502.2,606.9L501.2,604.7L500.3,606.9L500.3,609.5L498.7,609.5L498.7,606.1L497.5,604.9L499.3,598.6 M512.6,596.5L514.3,597.4L513.5,599.1L514.3,601.2L513.1,600L512.6,598.3L512.6,596.5 M513.5,605.2L518.3,605.7L516.1,606.1L513.5,605.9L513.5,605.2 M500.6,567.9L503.4,568.1L503.6,571.4L502.2,574L503.9,575.7L506.5,577.5L506.5,578.2L503.9,576.6L501.3,576.3L500.6,574.9L499.6,572.6L500.1,570L500.6,567.9 M503.1,587.9L505.7,585.1L509,583.2L510.9,586.1L510.3,589.1L509.1,590.1L506.9,589.1L506.5,587L503.9,587L503.1,587.9 M503.1,581.8L504.8,579.7L505.3,582.7L503.9,583.5L503.1,581.8 M507.1,578.3L509.1,578.7L509.3,580.9L507.9,582.3L507.2,580.4L507.1,578.3 M494.7,585.4L498.7,581.8L498.4,580.4L496.1,583L494.7,585.4 M500.5,576.8L502,577.1L501.7,578.7L500.5,576.8 M501.3,556.3L502.9,557L501,561.9L499.8,560.1L501.3,556.3 M480,566.7L482.3,565.3L484,566L482.3,568.3L480,567.8L480,566.7 M430.1,583.2L432.3,585.3L433.4,587.9L432,589.4L430.3,589.6L429.7,586.1L430.1,583.2 M518.5,541.1L521.3,538.6L527,538.3L528.7,535.5L531.7,535.2L533.9,532.4L534.3,529.6L536.5,528.2L537.4,531L536,533.6L535.7,536.2L534.6,538.8L532.2,539.9L529.1,540L527,541.9L525.8,540.2L522.1,540.5L518.7,541.2L518.5,541.1 M516.9,541.9L519.9,541.6L520.1,543.7L518.1,546.3L517.3,545.6L517.3,543.5L516.4,542.8L516.9,541.9 M521.3,541.2L524.7,540.7L524.2,542.1L522.1,543.1L521.3,541.2 M534.8,528.1L536.3,526.3L540,527.2L543.8,524.9L542.1,523.7L537.7,521.1L537,523.7L536.5,525.1L534.8,526.3L534.8,528.1 M537.7,520.3L540.3,518.9L538.9,517.7L539.5,514.7L542.1,515.1L540,512.5L540,509L539.1,505.9L537.7,507.3L537.4,510.7L537.9,514.2L537.7,517.1L537.7,520.3 M544.7,522.9L549,521.1L551.6,519.9 M555.1,518.2L558.5,515.1L561.1,512.8 M380.9,476.1L384.3,477.3L391.3,477.5L387.8,475.2L388.7,472.6L393,470.9L399.1,468.6L410.3,466.9L409.5,468.1L397.3,469.7L392.1,472.1L386.9,473.5L381.7,475.2L380.9,476.1 M310.7,462.2L315.9,465.7L321.1,467.2L324.5,463.9L329.7,464.3L328,462.2L338.4,461.2L326.3,460.5L319.3,461.3L310.7,462.2 M373.1,460.3L381.7,460.8L380,459.8L373.1,460.3 M385.2,460.5L392.1,461L399.1,460.3L404.3,459.6L392.1,459.3L385.2,460.5 M456.3,463.1L464.9,464.8L473.6,463.9L471.9,462.2L464.9,460.5L458,459.6L451.1,461.3L456.3,463.1 M529.1,469.5L539.5,470L551.6,469.7L544.7,468.3L534.3,468.3L529.1,469.5 M534.3,472.8L539.5,473.1L536.9,471.9L534.3,472.8 M601,476.9L607.1,476.1L604.5,477.1L601,476.9 M313.3,534.1L318.5,533.8L317.8,536.4L313.3,534.8L313.3,534.1 M305.8,528.9L308.4,528.9L308.2,532.1L306.3,532.4L305.8,528.9 M306.5,526.3L308.1,525.5L307.9,528.1L306.5,526.3 M332.3,538.5L337.2,539L334.1,539.3L332.3,538.5 M347.6,539.3L351.4,538.3L350,539.9L347.6,539.3 M144.3,562.2L148.6,560.1L152.9,560.1L158.1,562.7L163,565L157.3,565.5L156.4,564.1L152.1,562.2L149.5,561.3L146,561.9L144.3,562.2 M162.6,567.9L165.1,565.5L170.3,565.7L173,567.8L170.3,568.3L167.7,569.1L165.9,568.5L162.6,567.9 M155.9,568.3L159.3,568.8L157.3,569.1L155.9,568.3 M175.1,568.1L177.9,568.3L175.1,568.8L175.1,568.1 M156.4,554.1L158.1,554.4L157.6,556.7L156.4,557.9 M159.9,558.4L161.6,559.8L164.2,561 M184.5,581.5L185.9,581.5L185.5,582.5L184.5,581.5 M188.8,517.5L194.5,510.7L195.4,514.2L199.7,515.9L199.7,519.1L194.5,518.5L188.8,517.5 M69.2,512.1L74.9,513.3L77.5,516.1L74.1,515.4L69.2,512.1 M61.1,506.4L63.1,506.7L63.7,509L61.9,508.1L61.1,506.4 M24.7,499.8L27.6,500.2L25.5,501.2L24.7,499.8 M5.6,505.9L0.4,507.3L-4.8,508.8L-10,509.5L-15.2,510.2 M600.1,510.2L594.9,509.3L591.5,508.5 M-5.7,489.9L-1.3,490.5L-3.1,489.6L-5.7,489.9 M2.1,495.7L4.2,496L3,496.3L2.1,495.7 M152.9,472.3L159.9,473.8L166.8,476.1L173.7,478.7L175.5,481.3L184.1,484.2L180.7,487.3L178.9,491.1L173.7,489.9L166.8,488.7L156.4,488L163.3,485.6L165.1,482.1L156.4,478.7L144.3,478.7L137.3,476.1L144.3,472.6L152.9,472.3 M88.8,476.1L97.5,473.8L109.6,473.5L116.5,476.1L114.8,479L106.1,480.6L95.7,481.3L88.8,479L88.8,476.1 M74.9,475.2L81.9,470.9L92.3,472.6L83.6,476.6L74.9,475.2 M135.6,467.4L152.9,467.7L161.6,463.9L184.1,457L170.3,456L144.3,457.3L132.1,459.6L140.8,463.1L135.6,467.4 M125.2,469.1L135.6,470.9L152.9,470.5L151.2,468.6L137.3,467.4L125.2,469.1 M88.8,469.7L100.9,470.9L109.6,469.7L100.9,467.4L88.8,468.3L88.8,469.7 M111.3,469.1L121.7,470L121.7,467.4L113.1,467.4L111.3,469.1 M140.8,486.5L146,486.8L151.2,489.4L144.3,490.8L140.8,489.1L140.8,486.5 M114.8,473.5L123.5,472.1L130.4,471.7L132.1,474.3L123.5,476.1L114.8,475.2L114.8,473.5 M119.1,480.1L123.5,479L126.1,480.4L121.7,480.9L119.1,480.1 M125.2,461.3L135.6,460.5L140.8,462.2L128.7,463.9L125.2,461.3 M78.4,468.3L87.1,465.7L90.5,467.4L81.9,468.6L78.4,468.3 M109.6,464.8L120,463.4L123.5,465.1L113.1,465.7L109.6,464.8 M179.8,513.5L184.1,514.5L181.5,514.7L179.8,513.5 M376.5,519.4L380,518.5L383.5,519.4L382.6,521.5L380,522.9L379.1,525.5L382.6,528.1L385.2,529.8L384.3,532.4L385.2,535.3L381.7,536.4L378.3,535.2L376.5,533.3L377.4,529.8L374.8,527.2L373.1,523.7L374.8,520.3L376.5,519.4 M393,519.4L398.2,519.4L397.3,522.9L393.9,524.1L392.7,522L393,519.4 M419,521.1L423.3,519.1L428.5,519.4L423.3,519.7L419,521.1 M471.9,510.7L475.3,509L479.7,506.4L482.3,503.5L480.5,504.7L477.9,508.1L473.6,510.4L471.9,510.7 M347.1,599.1L350.5,599.7L350.5,603.5L348.5,604.7L346.7,602.6L347.1,599.1 M342.4,605.9L343.3,609.5L345,614.7L344.1,614.4L342.2,609.5L342.4,605.9 M350.5,616.5L351.7,619.9L352.3,624.3L351.4,624.3L350.9,619.9L350.5,616.5 M132.1,519.1L136.5,516.8L139.1,515.4L144.3,517.1L145.1,519.4L140.8,519.4L135.6,519.2L132.1,519.1 M139.4,527.2L142,526.3L142.5,522.9L144.3,520.6L146,520.3L150.3,520.3L152.9,522.3L150.3,525.1L148.6,525.5L146.9,523.7L147.2,521.5L144.6,520.6L143.1,522L140.8,521.1L139.1,522.9L139.9,525.5L139.4,527.2 M147.2,527.5L151.2,526.3L154.7,525.8L152.9,526.9L148.6,528.1L147.2,527.5 M153.5,524.9L158.1,524.9L159.3,523.7L156.4,523.9L153.5,524.9 M120,507.3L121.7,509.9L124.3,512.5L123.5,509.9L121.7,506.7L120,507.3 M78.4,485.6L83.6,483.9L87.1,485.6L81.9,487.3L78.4,485.6 M88.8,494.3L94,491.7L100.9,491.7L95.7,493.4L88.8,494.3 M21.2,567.1L22.9,566.2L21.5,565L21.2,567.1 M20,563.9L17.7,562.7L15.1,561.9 M410.9,684.9L413.8,685.3L412.1,686.1L410.9,684.9 M387.5,636.4L388.3,636.7L387.8,636.9L387.5,636.4 M391.1,635L391.8,635.2L391.3,635.5L391.1,635 M384,578.2L386.1,578.3L384.9,578.7L384,578.2 M288.1,723.1L305.5,722.2L322.8,721.3L340.1,720.5L348.8,718.7L357.5,719.6L366.1,717.9L378.3,714.4L392.1,716.1L409.5,717.9L412.9,721.3L423.3,719.6L435.5,716.1L461.5,714.4L478.8,714.4L496.1,715.3L513.5,714.4L530.8,715.3L548.1,717.9L565.5,720.5L582.8,722.2L588,723.9L579.3,727.4L572.4,731.7L575.9,735.2L568.9,738.7L572.4,742.1L600.1,744.7L634.8,747.3L660.8,748.2L648.7,742.1L652.1,738.7L646.9,736.1L640,734.3L669.5,731.7L686.8,730L704.1,727.4L712.8,729.1L730.1,729.1L747.5,724.8L756.1,725.7L782.1,726.5L785.6,722.2L787.3,721.3L797.7,716.1L808.1,710.9L818.5,709.2L808.1,712.7L802.9,717.9L808.1,721.3L809.9,726.5L799.5,733.5L825.5,736.1L851.5,736.1L868.8,731.7L886.1,726.5L903.5,722.2L912.1,723.1"/>
</g>
<path d="M308.9,444 V438.5 M308.9,756 V761.5 M326.3,444 V438.5 M326.3,756 V761.5 M360.9,444 V438.5 M360.9,756 V761.5 M378.3,444 V438.5 M378.3,756 V761.5 M412.9,444 V438.5 M412.9,756 V761.5 M430.3,444 V438.5 M430.3,756 V761.5 M464.9,444 V438.5 M464.9,756 V761.5 M482.3,444 V438.5 M482.3,756 V761.5 M516.9,444 V438.5 M516.9,756 V761.5 M534.3,444 V438.5 M534.3,756 V761.5 M568.9,444 V438.5 M568.9,756 V761.5 M586.3,444 V438.5 M586.3,756 V761.5 M620.9,444 V438.5 M620.9,756 V761.5 M638.3,444 V438.5 M638.3,756 V761.5 M672.9,444 V438.5 M672.9,756 V761.5 M690.3,444 V438.5 M690.3,756 V761.5 M724.9,444 V438.5 M724.9,756 V761.5 M742.3,444 V438.5 M742.3,756 V761.5 M776.9,444 V438.5 M776.9,756 V761.5 M794.3,444 V438.5 M794.3,756 V761.5 M828.9,444 V438.5 M828.9,756 V761.5 M846.3,444 V438.5 M846.3,756 V761.5 M880.9,444 V438.5 M880.9,756 V761.5 M898.3,444 V438.5 M898.3,756 V761.5 M288,738.7 H282.5 M912,738.7 H917.5 M288,721.3 H282.5 M912,721.3 H917.5 M288,686.7 H282.5 M912,686.7 H917.5 M288,669.3 H282.5 M912,669.3 H917.5 M288,634.7 H282.5 M912,634.7 H917.5 M288,617.3 H282.5 M912,617.3 H917.5 M288,582.7 H282.5 M912,582.7 H917.5 M288,565.3 H282.5 M912,565.3 H917.5 M288,530.7 H282.5 M912,530.7 H917.5 M288,513.3 H282.5 M912,513.3 H917.5 M288,478.7 H282.5 M912,478.7 H917.5 M288,461.3 H282.5 M912,461.3 H917.5" stroke="#747474" stroke-width="0.8" fill="none"/>
<path d="M291.6,444 V433 M291.6,756 V767 M343.6,444 V433 M343.6,756 V767 M395.6,444 V433 M395.6,756 V767 M447.6,444 V433 M447.6,756 V767 M499.6,444 V433 M499.6,756 V767 M551.6,444 V433 M551.6,756 V767 M603.6,444 V433 M603.6,756 V767 M655.6,444 V433 M655.6,756 V767 M707.6,444 V433 M707.6,756 V767 M759.6,444 V433 M759.6,756 V767 M811.6,444 V433 M811.6,756 V767 M863.6,444 V433 M863.6,756 V767" stroke="#0a0a0a" stroke-width="1.0" fill="none"/>
<path d="M288,756 H277 M912,756 H923 M288,704 H277 M912,704 H923 M288,652 H277 M912,652 H923 M288,600 H277 M912,600 H923 M288,548 H277 M912,548 H923 M288,496 H277 M912,496 H923 M288,444 H277 M912,444 H923" stroke="#666" stroke-width="1.4" fill="none"/>
<rect x="288" y="444" width="624" height="312" fill="none" stroke="#777" stroke-width="1.2"/>
<text transform="translate(291.3,786) scale(0.95,1)" font-size="14" text-anchor="middle">0</text>
<text transform="translate(343.3,786) scale(0.95,1)" font-size="14" text-anchor="middle">30E</text>
<text transform="translate(395.3,786) scale(0.95,1)" font-size="14" text-anchor="middle">60E</text>
<text transform="translate(447.3,786) scale(0.95,1)" font-size="14" text-anchor="middle">90E</text>
<text transform="translate(499.3,786) scale(0.95,1)" font-size="14" text-anchor="middle">120E</text>
<text transform="translate(551.3,786) scale(0.95,1)" font-size="14" text-anchor="middle">150E</text>
<text transform="translate(603.3,786) scale(0.95,1)" font-size="14" text-anchor="middle">180</text>
<text transform="translate(655.3,786) scale(0.95,1)" font-size="14" text-anchor="middle">150W</text>
<text transform="translate(707.3,786) scale(0.95,1)" font-size="14" text-anchor="middle">120W</text>
<text transform="translate(759.3,786) scale(0.95,1)" font-size="14" text-anchor="middle">90W</text>
<text transform="translate(811.3,786) scale(0.95,1)" font-size="14" text-anchor="middle">60W</text>
<text transform="translate(863.3,786) scale(0.95,1)" font-size="14" text-anchor="middle">30W</text>
<text transform="translate(269.8,449.1) scale(0.95,1)" font-size="14" text-anchor="end">90N</text>
<text transform="translate(269.8,501.1) scale(0.95,1)" font-size="14" text-anchor="end">60N</text>
<text transform="translate(269.8,553.1) scale(0.95,1)" font-size="14" text-anchor="end">30N</text>
<text transform="translate(269.8,605.1) scale(0.95,1)" font-size="14" text-anchor="end">0</text>
<text transform="translate(269.8,657.1) scale(0.95,1)" font-size="14" text-anchor="end">30S</text>
<text transform="translate(269.8,709.1) scale(0.95,1)" font-size="14" text-anchor="end">60S</text>
<text transform="translate(269.8,761.1) scale(0.95,1)" font-size="14" text-anchor="end">90S</text>
<text transform="translate(600,424.5) scale(1.03,1)" font-size="22.4" text-anchor="middle" font-weight="bold">CERES rtna SON 200101_201112</text>
<clipPath id="clip2"><rect x="288" y="840" width="624" height="312"/></clipPath>
<g clip-path="url(#clip2)" shape-rendering="crispEdges">
<rect x="288" y="840" width="624" height="312" fill="#ffffff"/>
<path d="M284.5,942.3C288,938.2 297.5,937.1 305.3,937.1C313.1,937.1 324.1,941.1 331.3,942.3C338.5,943.4 344.9,942.6 348.6,944C352.4,945.4 354.1,948 353.8,950.9C353.5,953.8 349.2,958.4 346.9,961.3C344.6,964.2 344,966.5 340,968.3C335.9,970 328.4,971.4 322.6,971.7C316.8,972 310.2,971.2 305.3,970C300.4,968.8 296.6,966.2 293.2,964.8C289.7,963.4 285.9,965.1 284.5,961.3C283,957.6 281,946.3 284.5,942.3Z" fill="#aad4ff"/>
<path d="M908.5,942.3C912,938.2 921.5,937.1 929.3,937.1C937.1,937.1 948.1,941.1 955.3,942.3C962.5,943.4 968.9,942.6 972.6,944C976.4,945.4 978.1,948 977.8,950.9C977.5,953.8 973.2,958.4 970.9,961.3C968.6,964.2 968,966.5 964,968.3C959.9,970 952.4,971.4 946.6,971.7C940.8,972 934.2,971.2 929.3,970C924.4,968.8 920.6,966.2 917.2,964.8C913.7,963.4 909.9,965.1 908.5,961.3C907,957.6 905,946.3 908.5,942.3Z" fill="#aad4ff"/>
<path d="M303.6,950.9C306.2,947.8 316,947.5 322.6,947.5C329.3,947.5 340.5,948.6 343.4,950.9C346.3,953.2 343.4,958.4 340,961.3C336.5,964.2 328.1,967.4 322.6,968.3C317.1,969.1 310.2,969.4 307,966.5C303.8,963.6 301,954.1 303.6,950.9Z" fill="#00bfff"/>
<path d="M307,959.6C308.8,957.9 318.3,956.7 320.9,957.9C323.5,959 324.4,964.8 322.6,966.5C320.9,968.3 313.1,969.4 310.5,968.3C307.9,967.1 305.3,961.3 307,959.6Z" fill="#4169e1"/>
<path d="M309.6,962.2C310.6,961.4 315.3,960.8 316.6,961.3C317.9,961.9 318.4,964.9 317.4,965.7C316.4,966.5 311.8,966.8 310.5,966.2C309.2,965.6 308.6,963 309.6,962.2Z" fill="#0000cd"/>
<path d="M317.4,952.7C318.3,950.9 325.8,949.8 327.8,950.9C329.8,952.1 330.4,957.9 329.6,959.6C328.7,961.3 324.6,962.5 322.6,961.3C320.6,960.2 316.6,954.4 317.4,952.7Z" fill="#fff"/>
<path d="M284.5,975.2C288,971.4 294.6,974 305.3,973.5C316,972.9 340,973.8 348.6,971.7C357.3,969.7 355,964.2 357.3,961.3C359.6,958.4 361.2,952.1 362.5,954.4C363.8,956.7 366,968.3 365.1,975.2C364.2,982.1 370.7,992.5 357.3,996C343.9,999.5 296.6,999.5 284.5,996C272.4,992.5 281,979 284.5,975.2Z" fill="#ffe132"/>
<path d="M908.5,975.2C912,971.4 918.6,974 929.3,973.5C940,972.9 964,973.8 972.6,971.7C981.3,969.7 979,964.2 981.3,961.3C983.6,958.4 985.2,952.1 986.5,954.4C987.8,956.7 990,968.3 989.1,975.2C988.2,982.1 994.7,992.5 981.3,996C967.9,999.5 920.6,999.5 908.5,996C896.4,992.5 905,979 908.5,975.2Z" fill="#ffe132"/>
<path d="M312.2,978.7C316.6,976.9 333,976.1 340,976.9C346.9,977.8 352.1,981 353.8,983.9C355.6,986.8 355.6,992.8 350.4,994.3C345.2,995.7 328.7,993.7 322.6,992.5C316.6,991.4 315.7,989.6 314,987.3C312.2,985 307.9,980.4 312.2,978.7Z" fill="#ffa500"/>
<path d="M336.5,982.1C337.1,981.4 339.4,981.4 340,982.1C340.5,982.9 340.5,985.7 340,986.5C339.4,987.2 337.1,987.2 336.5,986.5C335.9,985.7 335.9,982.9 336.5,982.1Z" fill="#ff0000"/>
<path d="M361.6,972.6C362.2,971.7 364.5,971.7 365.1,972.6C365.7,973.5 365.7,976.9 365.1,977.8C364.5,978.7 362.2,978.7 361.6,977.8C361,976.9 361,973.5 361.6,972.6Z" fill="#ffa500"/>
<path d="M364.2,940.5C366.8,937.4 376.4,936.8 381.6,938.8C386.8,940.8 393.7,947.8 395.4,952.7C397.2,957.6 395.4,965.1 392,968.3C388.5,971.4 379,973.5 374.6,971.7C370.3,970 367.7,963.1 366,957.9C364.2,952.7 361.6,943.7 364.2,940.5Z" fill="#aad4ff"/>
<path d="M371.2,950.9C372.6,948.6 381,949.2 383.3,950.9C385.6,952.7 386.5,959 385,961.3C383.6,963.6 376.9,966.5 374.6,964.8C372.3,963.1 369.7,953.2 371.2,950.9Z" fill="#00bfff"/>
<path d="M340,919.7C340.5,918.1 343.1,914.2 346.9,914.5C350.6,914.8 360.8,919.7 362.5,921.5C364.2,923.2 360.5,924.5 357.3,924.9C354.1,925.4 346.3,924.9 343.4,924.1C340.5,923.2 339.4,921.3 340,919.7Z" fill="#aad4ff"/>
<path d="M372.9,916.3C373.8,913.4 381.3,912.2 383.3,914.5C385.3,916.8 385.9,927.2 385,930.1C384.2,933 380.1,934.2 378.1,931.9C376.1,929.6 372,919.2 372.9,916.3Z" fill="#aad4ff"/>
<path d="M392,916.3C393,915.4 397.9,914.7 398.9,915.4C399.9,916.1 399,919.7 398,920.6C397,921.5 393.8,921.3 392.8,920.6C391.8,919.9 390.9,917.1 392,916.3Z" fill="#aad4ff"/>
<path d="M398.9,931.9C400,929.3 410.4,926.7 412.8,928.4C415.1,930.1 413.9,939.7 412.8,942.3C411.6,944.9 408.1,945.7 405.8,944C403.5,942.3 397.7,934.5 398.9,931.9Z" fill="#00bfff"/>
<path d="M395.4,930.1C397.7,927 412.8,924.4 416.2,926.7C419.7,929 418.5,940.8 416.2,944C413.9,947.2 405.8,948 402.4,945.7C398.9,943.4 393.1,933.3 395.4,930.1Z" fill="#aad4ff"/>
<path d="M398.9,932.7C399.9,930.6 409.9,928.7 411.9,930.1C413.9,931.6 412,939.2 411,941.4C410,943.6 407.8,944.6 405.8,943.1C403.8,941.7 397.9,934.9 398.9,932.7Z" fill="#00bfff"/>
<path d="M413.6,927.5C414.5,926.4 418.4,925.1 421.4,926.7C424.5,928.3 428.1,933.6 431.8,937.1C435.6,940.5 443.1,945.7 444,947.5C444.8,949.2 440.2,948.6 437,947.5C433.8,946.3 428.4,942.8 424.9,940.5C421.4,938.2 418.1,935.8 416.2,933.6C414.3,931.4 412.8,928.7 413.6,927.5Z" fill="#ffe132"/>
<path d="M417.1,929.3C417.4,928.1 423,929.4 424.9,931C426.8,932.6 428.6,937.6 428.4,938.8C428.1,940 425,939.5 423.2,937.9C421.3,936.3 416.8,930.4 417.1,929.3Z" fill="#ffa500"/>
<path d="M421.4,931.9C421.9,931.4 425.6,932.6 426.6,933.6C427.6,934.6 427.9,937.5 427.5,937.9C427.1,938.4 425,937.2 424,936.2C423,935.2 421,932.3 421.4,931.9Z" fill="#ff0000"/>
<path d="M431.8,937.1C433.6,934.8 443.1,932.4 450.9,931.9C458.7,931.3 471.1,932.7 478.6,933.6C486.1,934.5 492.5,933 496,937.1C499.4,941.1 502.3,953.8 499.4,957.9C496.5,961.9 485,962.5 478.6,961.3C472.3,960.2 467.6,953.5 461.3,950.9C454.9,948.3 445.4,948 440.5,945.7C435.6,943.4 430.1,939.4 431.8,937.1Z" fill="#aad4ff"/>
<path d="M449.2,937.1C451.5,935 463.6,933.9 466.5,935.3C469.4,936.8 468.8,943.7 466.5,945.7C464.2,947.8 455.5,948.9 452.6,947.5C449.7,946 446.8,939.1 449.2,937.1Z" fill="#00bfff"/>
<path d="M470,937.1C472.6,933.9 487.3,935.9 490.8,938.8C494.2,941.7 493.4,951.2 490.8,954.4C488.2,957.6 478.6,960.8 475.2,957.9C471.7,955 467.4,940.2 470,937.1Z" fill="#00bfff"/>
<path d="M468.2,942.3C469.1,941.4 472.6,941.4 473.4,942.3C474.3,943.1 474.3,946.6 473.4,947.5C472.6,948.3 469.1,948.3 468.2,947.5C467.4,946.6 467.4,943.1 468.2,942.3Z" fill="#4169e1"/>
<path d="M454.4,909.3C458.1,907.7 471.1,906.7 478.6,906.7C486.1,906.7 496,907.5 499.4,909.3C502.9,911.2 504.3,916.1 499.4,918C494.5,919.9 477.2,920.9 470,920.6C462.7,920.3 458.7,918.1 456.1,916.3C453.5,914.4 450.6,910.9 454.4,909.3Z" fill="#aad4ff"/>
<path d="M473.4,893.7C477.5,891.9 495.1,890 499.4,891.1C503.8,892.3 503.5,898.8 499.4,900.7C495.4,902.5 479.5,903.6 475.2,902.4C470.8,901.2 469.4,895.6 473.4,893.7Z" fill="#aad4ff"/>
<path d="M496,912.8C498,906.7 506.1,911.1 508.1,914.5C510.1,918 509,927.5 508.1,933.6C507.2,939.7 504.9,948 502.9,950.9C500.9,953.8 497.1,957.3 496,950.9C494.8,944.6 493.9,918.9 496,912.8Z" fill="#aad4ff"/>
<path d="M513.3,924.1C514.6,922.6 520.5,922 522,923.2C523.4,924.4 523.3,929.6 522,931C520.7,932.4 515.6,933 514.2,931.9C512.7,930.7 512,925.5 513.3,924.1Z" fill="#aad4ff"/>
<path d="M523.7,882.5C527.2,881.3 542.5,880.2 546.2,880.7C550,881.3 549.7,884.8 546.2,885.9C542.8,887.1 529.2,888.2 525.4,887.7C521.7,887.1 520.2,883.6 523.7,882.5Z" fill="#aad4ff"/>
<path d="M563.6,949.2C563.8,947 567.3,946 572.2,946.6C577.1,947.2 584.9,952.5 593,952.7C601.1,952.8 614.1,946.9 620.8,947.5C627.4,948 632.3,953 632.9,956.1C633.5,959.3 629.7,963.1 624.2,966.5C618.7,970 607.5,975.8 600,976.9C592.4,978.1 584.1,976.4 579.2,973.5C574.2,970.6 573.1,963.6 570.5,959.6C567.9,955.6 563.3,951.4 563.6,949.2Z" fill="#ffe132"/>
<path d="M546.2,992.5C550.8,991.2 564.4,989.1 574,989.1C583.5,989.1 598.5,991.2 603.4,992.5C608.3,993.8 613,996.1 603.4,996.9C593.9,997.6 555.8,997.6 546.2,996.9C536.7,996.1 541.6,993.8 546.2,992.5Z" fill="#ffe132"/>
<path d="M652,908.5C656,907.2 670.7,905.7 674.5,906.7C678.2,907.7 676.8,912.5 674.5,914.5C672.2,916.6 664.7,918.9 660.6,918.9C656.6,918.9 651.7,916.3 650.2,914.5C648.8,912.8 647.9,909.8 652,908.5Z" fill="#ffe132"/>
<path d="M638.1,907.9C639.1,907.1 643.9,907.1 645,907.9C646.2,908.8 646,912.3 645,913.1C644,914 640.1,913.7 639,912.8C637.8,911.9 637.1,908.8 638.1,907.9Z" fill="#ffe132"/>
<path d="M672.8,942.3C674.8,939.1 680.8,934.5 686.6,931.9C692.4,929.3 701.6,926.7 707.4,926.7C713.2,926.7 719,925.2 721.3,931.9C723.6,938.5 724.8,961 721.3,966.5C717.8,972 706.8,966 700.5,964.8C694.1,963.6 687.5,961.9 683.2,959.6C678.8,957.3 676.2,953.8 674.5,950.9C672.8,948 670.7,945.4 672.8,942.3Z" fill="#aad4ff"/>
<path d="M686.6,945.7C687.8,942.6 692.1,938.5 697,937.1C701.9,935.6 712.9,933 716.1,937.1C719.3,941.1 718.7,957.6 716.1,961.3C713.5,965.1 704.8,960.5 700.5,959.6C696.2,958.7 692.4,958.4 690.1,956.1C687.8,953.8 685.5,948.9 686.6,945.7Z" fill="#00bfff"/>
<path d="M697,944C699,941.1 708.6,936.5 710.9,938.8C713.2,941.1 712.9,955 710.9,957.9C708.9,960.8 701.1,958.4 698.8,956.1C696.4,953.8 695,946.9 697,944Z" fill="#4169e1"/>
<path d="M638.1,982.1C643,981.2 658.9,980.3 669.3,979.5C679.7,978.8 695.3,977.2 700.5,977.8C705.7,978.4 705.7,981.7 700.5,983C695.3,984.3 679.4,985.2 669.3,985.6C659.2,986 645,985.8 639.8,985.3C634.6,984.7 633.2,983.1 638.1,982.1Z" fill="#aad4ff"/>
<path d="M750.8,905.9C752.8,903.6 760.3,902.4 764.6,902.4C769,902.4 775.3,904.1 776.8,905.9C778.2,907.6 775.9,910.2 773.3,912.8C770.7,915.4 764.6,920.9 761.2,921.5C757.7,922 754.2,918.9 752.5,916.3C750.8,913.7 748.7,908.2 750.8,905.9Z" fill="#aad4ff"/>
<path d="M747.3,959.6C751.6,957.9 763.2,954.1 773.3,952.7C783.4,951.2 799.3,952.7 808,950.9C816.6,949.2 818.4,944.7 825.3,942.3C832.2,939.8 844.6,934.8 849.6,936.2C854.5,937.6 853,945.6 854.8,950.9C856.5,956.3 857.5,964.1 860,968.3C862.4,972.5 872.4,974.6 869.5,976.1C866.6,977.5 852.3,977.7 842.6,976.9C832.9,976.2 820.1,971.7 811.4,971.7C802.8,971.7 798.4,976.9 790.6,976.9C782.8,976.9 771.8,974 764.6,971.7C757.4,969.4 750.2,965.1 747.3,963.1C744.4,961 743,961.3 747.3,959.6Z" fill="#ffe132"/>
<path d="M707.4,985.6C709.2,983.6 715.5,982.4 724.8,982.1C734,981.8 756.5,981.6 762.9,983.9C769.2,986.2 771,994.3 762.9,996C754.8,997.7 723.6,996 714.4,994.3C705.1,992.5 705.7,987.6 707.4,985.6Z" fill="#aad4ff"/>
<path d="M726.5,988.2C732,987 755.4,986.3 761.2,987.3C766.9,988.3 766.6,993.1 761.2,994.3C755.7,995.4 734,995.3 728.2,994.3C722.4,993.3 721,989.4 726.5,988.2Z" fill="#00bfff"/>
<path d="M769.8,991.7C771.8,990.7 778.5,989.9 780.2,990.8C782,991.7 782.2,995.9 780.2,996.9C778.2,997.9 769.8,997.7 768.1,996.9C766.4,996 767.8,992.7 769.8,991.7Z" fill="#8a2be2"/>
<path d="M887.7,954.4C889.4,952.7 895.2,952.7 899.8,952.7C904.4,952.7 912.8,952.1 915.4,954.4C918,956.7 918.3,964.4 915.4,966.5C912.5,968.7 902.4,968 898.1,967.4C893.8,966.8 891.2,965.2 889.4,963.1C887.7,960.9 886,956.1 887.7,954.4Z" fill="#aad4ff"/>
<path d="M263.7,954.4C265.4,952.7 271.2,952.7 275.8,952.7C280.4,952.7 288.8,952.1 291.4,954.4C294,956.7 294.3,964.4 291.4,966.5C288.5,968.7 278.4,968 274.1,967.4C269.8,966.8 267.2,965.2 265.4,963.1C263.7,960.9 262,956.1 263.7,954.4Z" fill="#aad4ff"/>
<path d="M894.6,957.9C897.2,956.5 912,955.8 915.4,957C918.9,958.2 918,963.4 915.4,964.8C912.8,966.2 903.3,966.3 899.8,965.1C896.4,964 892,959.2 894.6,957.9Z" fill="#00bfff"/>
<path d="M270.6,957.9C273.2,956.5 288,955.8 291.4,957C294.9,958.2 294,963.4 291.4,964.8C288.8,966.2 279.3,966.3 275.8,965.1C272.4,964 268,959.2 270.6,957.9Z" fill="#00bfff"/>
<path d="M901.6,959.6C903.4,958.9 912.4,958.9 914.6,959.6C916.7,960.3 916.4,963.2 914.6,963.9C912.7,964.7 905.5,964.7 903.3,963.9C901.1,963.2 899.7,960.3 901.6,959.6Z" fill="#4169e1"/>
<path d="M277.6,959.6C279.4,958.9 288.4,958.9 290.6,959.6C292.7,960.3 292.4,963.2 290.6,963.9C288.7,964.7 281.5,964.7 279.3,963.9C277.1,963.2 275.7,960.3 277.6,959.6Z" fill="#4169e1"/>
<path d="M887.7,970C892.3,968.6 910.8,965.7 915.4,968.3C920,970.9 918.9,983 915.4,985.6C912,988.2 899.2,985.3 894.6,983.9C890,982.4 888.8,979.2 887.7,976.9C886.5,974.6 883.1,971.4 887.7,970Z" fill="#ffe132"/>
<path d="M263.7,970C268.3,968.6 286.8,965.7 291.4,968.3C296,970.9 294.9,983 291.4,985.6C288,988.2 275.2,985.3 270.6,983.9C266,982.4 264.8,979.2 263.7,976.9C262.5,974.6 259.1,971.4 263.7,970Z" fill="#ffe132"/>
<path d="M892.9,972.6C894.8,971.7 903,971.6 905,972.6C907,973.6 906.9,977.8 905,978.7C903.1,979.5 895.8,978.8 893.8,977.8C891.7,976.8 891,973.5 892.9,972.6Z" fill="#ffa500"/>
<path d="M738.6,961.3C740.1,960.8 745.8,960.8 747.3,961.3C748.7,961.9 748.7,964.2 747.3,964.8C745.8,965.4 740.1,965.4 738.6,964.8C737.2,964.2 737.2,961.9 738.6,961.3Z" fill="#ffe132"/>
<path d="M738.6,972.6C739.9,972.2 745.1,972.2 746.4,972.6C747.7,973 747.7,974.8 746.4,975.2C745.1,975.6 739.9,975.6 738.6,975.2C737.3,974.8 737.3,973 738.6,972.6Z" fill="#ffe132"/>
<path d="M756,976.9C757.3,976.4 762.5,976.4 763.8,976.9C765.1,977.5 765.1,979.8 763.8,980.4C762.5,981 757.3,981 756,980.4C754.7,979.8 754.7,977.5 756,976.9Z" fill="#ffa500"/>
<path d="M384.2,993.4C382.9,990.8 387.6,984.3 392,980.4C396.3,976.5 405,971.7 410.2,970C415.4,968.3 421,968.3 423.2,970C425.3,971.7 425.3,976.9 423.2,980.4C421,983.9 414.1,988.2 410.2,990.8C406.3,993.4 404.1,995.6 399.8,996C395.4,996.4 385.5,996 384.2,993.4Z" fill="#ffe132"/>
<path d="M418,957C419.7,955 428.4,958.7 433.6,958.3C438.8,957.9 444.8,953.3 449.2,954.4C453.5,955.5 456.5,961.3 459.6,964.8C462.6,968.3 468.2,972.4 467.4,975.2C466.5,978 459.6,981.3 454.4,981.7C449.2,982.1 440.3,977.8 436.2,977.8C432,977.8 431.8,983 429.7,981.7C427.5,980.4 425.1,974.1 423.2,970C421.2,965.9 416.2,959 418,957Z" fill="#ffe132"/>
<path d="M457,957C460.4,955.7 472.6,963.1 480.4,962.2C488.2,961.3 494.7,954.4 503.8,951.8C512.9,949.2 528.2,944.9 535,946.6C541.7,948.3 544.9,956.6 544.1,962.2C543.2,967.8 535.2,976.1 529.8,980.4C524.3,984.7 518.9,987.3 511.6,988.2C504.2,989.1 492.9,986.7 485.6,985.6C478.2,984.5 471.7,984.3 467.4,981.7C463,979.1 461.3,974.1 459.6,970C457.8,965.9 453.5,958.3 457,957Z" fill="#ffe132"/>
<path d="M457,985.6C461.3,983.9 476.5,984.7 485.6,985.6C494.7,986.5 501.2,989.9 511.6,990.8C522,991.7 537.6,989.9 548,990.8C558.4,991.7 565.3,996 574,996C582.6,996 595.6,989.7 600,990.8C604.3,991.9 604.3,999.5 600,1002.5C595.6,1005.5 578.7,1005.8 574,1009C569.2,1012.2 576.6,1019 571.4,1022C566.2,1025 551.9,1027.6 542.8,1027.2C533.7,1026.8 524.6,1022.4 516.8,1019.4C509,1016.4 502.9,1011 496,1009C489,1007 481.2,1009.9 475.2,1007.7C469.1,1005.5 462.6,999.7 459.6,996C456.5,992.3 452.6,987.3 457,985.6Z" fill="#ffe132"/>
<path d="M425.8,1006.4C427.5,1003.8 436.6,1001.2 444,1001.2C451.3,1001.2 464.8,1004.2 470,1006.4C475.2,1008.6 477.8,1011.6 475.2,1014.2C472.6,1016.8 461.3,1021.6 454.4,1022C447.4,1022.4 438.3,1019.4 433.6,1016.8C428.8,1014.2 424,1009 425.8,1006.4Z" fill="#ffe132"/>
<path d="M566.2,949.2C571.4,947.5 593.9,947.5 600,951.8C606,956.1 605.6,971.3 602.6,975.2C599.5,979.1 587.4,977.4 581.8,975.2C576.1,973 571.4,966.5 568.8,962.2C566.2,957.9 561,950.9 566.2,949.2Z" fill="#ffe132"/>
<path d="M419.3,962.2C420.6,960.7 429.2,960.9 431,963.5C432.7,966.1 431,976.3 429.7,977.8C428.4,979.3 424.9,975.2 423.2,972.6C421.4,970 418,963.7 419.3,962.2Z" fill="#ffa500"/>
<path d="M464.8,964.8C466.5,962.4 477.8,962.6 480.4,964.8C483,967 482.1,975.4 480.4,977.8C478.6,980.2 472.6,981.3 470,979.1C467.4,976.9 463,967.2 464.8,964.8Z" fill="#ffa500"/>
<path d="M455.7,985.6C457.8,984.7 465,984.7 470,988.2C474.9,991.7 484.7,1002.9 485.6,1006.4C486.4,1009.9 479.9,1011.2 475.2,1009C470.4,1006.8 460.2,997.3 457,993.4C453.7,989.5 453.5,986.5 455.7,985.6Z" fill="#ffa500"/>
<path d="M480.4,992.1C481.9,989.4 492.8,985 496,985.6C499.1,986.2 500.6,993.3 499.1,996C497.6,998.7 490,1002.4 486.9,1001.7C483.7,1001.1 478.8,994.8 480.4,992.1Z" fill="#ffa500"/>
<path d="M438.8,1009.5C442.7,1008.1 460.4,1007.8 464.8,1009C469.1,1010.2 468.7,1015.4 464.8,1016.8C460.9,1018.2 445.7,1018.5 441.4,1017.3C437,1016.1 434.9,1010.9 438.8,1009.5Z" fill="#ffa500"/>
<path d="M459.6,988.7L475.2,1001.7L473.1,1006.4L457.5,992.4Z" fill="#cd0000"/>
<path d="M486.9,993.4C487.6,992.2 491.2,991.2 492.1,992.1C492.9,993 492.8,997.4 492.1,998.6C491.3,999.8 488.5,1000 487.6,999.1C486.8,998.3 486.1,994.6 486.9,993.4Z" fill="#ff0000"/>
<path d="M470,972.1C470.8,971.4 474.8,972.2 475.7,973.1C476.5,974.1 476,977.1 475.2,977.8C474.3,978.5 471.3,978.2 470.5,977.3C469.6,976.3 469.1,972.8 470,972.1Z" fill="#ff0000"/>
<path d="M782,981.6C784.3,979.4 789.2,977.6 794.1,977.3C799,977 806.2,977.7 811.4,979.9C816.6,982 821.2,987.4 825.3,990.3C829.3,993.2 833.4,994 835.7,997.2C838,1000.4 839.2,1005.3 839.2,1009.3C839.2,1013.4 837.4,1018.6 835.7,1021.5C834,1024.4 832.2,1026.1 828.8,1026.7C825.3,1027.3 819.5,1027.3 814.9,1024.9C810.3,1022.6 805.9,1017.1 801,1012.8C796.1,1008.5 788.9,1002.7 785.4,998.9C782,995.2 780.8,993.2 780.2,990.3C779.6,987.4 779.6,983.8 782,981.6Z" fill="#ffe132"/>
<path d="M832.2,990.3C837.7,990.1 860.8,993.4 866.9,995.1C873,996.9 871.2,999.7 868.6,1000.7C866,1001.7 857.1,1001.7 851.3,1001C845.5,1000.3 837.1,998.1 834,996.3C830.8,994.6 826.7,990.5 832.2,990.3Z" fill="#ffe132"/>
<path d="M802.8,998.9C804.5,996.6 810,992.6 814.9,993.7C819.8,994.9 828.8,1002.4 832.2,1005.9C835.7,1009.3 836.8,1012.2 835.7,1014.5C834.5,1016.9 829.3,1019.7 825.3,1019.7C821.2,1019.7 814.9,1016.6 811.4,1014.5C808,1012.5 805.9,1010.2 804.5,1007.6C803,1005 801,1001.3 802.8,998.9Z" fill="#ffa500"/>
<path d="M790.6,982.5C791.2,981 797,979.2 801,981.6C805.1,984.1 813.7,994.3 814.9,997.2C816,1000.1 810.8,1000.1 808,998.9C805.1,997.8 800.4,993 797.6,990.3C794.7,987.5 790,983.9 790.6,982.5Z" fill="#ffa500"/>
<path d="M822.7,1008.5C823.6,1007.2 827.6,1007.2 828.8,1008.5C829.9,1009.8 830.5,1015 829.6,1016.3C828.8,1017.6 824.7,1017.6 823.6,1016.3C822.4,1015 821.8,1009.8 822.7,1008.5Z" fill="#ff0000"/>
<path d="M808,992.9C808.5,991.6 812.1,991.6 813.2,992.9C814.2,994.2 814.6,999.4 814,1000.7C813.4,1002 810.7,1002 809.7,1000.7C808.7,999.4 807.4,994.2 808,992.9Z" fill="#ff0000"/>
<path d="M793.2,982.5C794.1,981.8 797.6,981.8 798.4,982.5C799.3,983.2 799.3,986.1 798.4,986.8C797.6,987.5 794.1,987.5 793.2,986.8C792.4,986.1 792.4,983.2 793.2,982.5Z" fill="#ff0000"/>
<path d="M814.9,986.8C816,986.2 821.8,987.4 823.6,988.5C825.3,989.7 826.4,993.2 825.3,993.7C824.1,994.3 818.4,993.2 816.6,992C814.9,990.9 813.7,987.4 814.9,986.8Z" fill="#fff"/>
<path d="M284.5,999.5C288.5,990.8 303.3,994.8 308.8,996C314.2,997.2 315.7,999.2 317.4,1006.4C319.2,1013.6 316,1029.5 319.2,1039.3C322.3,1049.2 333.6,1059.3 336.5,1065.3C339.4,1071.4 338.8,1074.6 336.5,1075.7C334.2,1076.9 327.8,1075.7 322.6,1072.3C317.4,1068.8 311.6,1059 305.3,1054.9C298.9,1050.9 288,1057.2 284.5,1048C281,1038.8 280.4,1008.1 284.5,999.5Z" fill="#aad4ff"/>
<path d="M908.5,999.5C912.5,990.8 927.3,994.8 932.8,996C938.2,997.2 939.7,999.2 941.4,1006.4C943.2,1013.6 940,1029.5 943.2,1039.3C946.3,1049.2 957.6,1059.3 960.5,1065.3C963.4,1071.4 962.8,1074.6 960.5,1075.7C958.2,1076.9 951.8,1075.7 946.6,1072.3C941.4,1068.8 935.6,1059 929.3,1054.9C922.9,1050.9 912,1057.2 908.5,1048C905,1038.8 904.4,1008.1 908.5,999.5Z" fill="#aad4ff"/>
<path d="M284.5,1002.9C288.8,996.3 305.1,998.9 310.5,1001.2C315.8,1003.5 315.5,1010.2 316.6,1016.8C317.6,1023.4 319.6,1036.2 316.6,1041.1C313.5,1046 303.7,1046.3 298.4,1046.3C293,1046.3 286.8,1048.3 284.5,1041.1C282.2,1033.8 280.2,1009.6 284.5,1002.9Z" fill="#00bfff"/>
<path d="M908.5,1002.9C912.8,996.3 929.1,998.9 934.5,1001.2C939.8,1003.5 939.5,1010.2 940.6,1016.8C941.6,1023.4 943.6,1036.2 940.6,1041.1C937.5,1046 927.7,1046.3 922.4,1046.3C917,1046.3 910.8,1048.3 908.5,1041.1C906.2,1033.8 904.2,1009.6 908.5,1002.9Z" fill="#00bfff"/>
<path d="M284.5,1005.5C288.5,1000.2 303.6,1002.2 308.8,1004.7C314,1007.1 314.5,1014.5 315.7,1020.3C316.8,1026 318.9,1035.9 315.7,1039.3C312.5,1042.8 301.8,1041.5 296.6,1041.1C291.4,1040.6 286.5,1042.7 284.5,1036.7C282.5,1030.8 280.4,1010.9 284.5,1005.5Z" fill="#4169e1"/>
<path d="M908.5,1005.5C912.5,1000.2 927.6,1002.2 932.8,1004.7C938,1007.1 938.5,1014.5 939.7,1020.3C940.8,1026 942.9,1035.9 939.7,1039.3C936.5,1042.8 925.8,1041.5 920.6,1041.1C915.4,1040.6 910.5,1042.7 908.5,1036.7C906.5,1030.8 904.4,1010.9 908.5,1005.5Z" fill="#4169e1"/>
<path d="M284.5,1007.3C288,1002.8 300.2,1003.9 305.3,1006.4C310.3,1008.9 313.2,1016.8 314.8,1022C316.4,1027.2 318.1,1035 314.8,1037.6C311.5,1040.2 299.9,1038.3 294.9,1037.6C289.8,1036.9 286.2,1038.3 284.5,1033.3C282.8,1028.2 281,1011.7 284.5,1007.3Z" fill="#0000cd"/>
<path d="M908.5,1007.3C912,1002.8 924.2,1003.9 929.3,1006.4C934.3,1008.9 937.2,1016.8 938.8,1022C940.4,1027.2 942.1,1035 938.8,1037.6C935.5,1040.2 923.9,1038.3 918.9,1037.6C913.8,1036.9 910.2,1038.3 908.5,1033.3C906.8,1028.2 905,1011.7 908.5,1007.3Z" fill="#0000cd"/>
<path d="M284.5,1009.9C287.4,1007 296.9,1007.3 301.8,1009.9C306.7,1012.5 311.9,1021.1 314,1025.5C316,1029.8 316.6,1034.6 314,1035.9C311.4,1037.2 303.3,1034.7 298.4,1033.3C293.4,1031.8 286.8,1031.1 284.5,1027.2C282.2,1023.3 281.6,1012.8 284.5,1009.9Z" fill="#8a2be2"/>
<path d="M908.5,1009.9C911.4,1007 920.9,1007.3 925.8,1009.9C930.7,1012.5 935.9,1021.1 938,1025.5C940,1029.8 940.6,1034.6 938,1035.9C935.4,1037.2 927.3,1034.7 922.4,1033.3C917.4,1031.8 910.8,1031.1 908.5,1027.2C906.2,1023.3 905.6,1012.8 908.5,1009.9Z" fill="#8a2be2"/>
<path d="M317.4,996C321.8,992.2 342,992.5 346.9,996C351.8,999.5 348,1012.8 346.9,1016.8C345.7,1020.8 344.3,1020 340,1020.3C335.6,1020.6 324.6,1022.6 320.9,1018.5C317.1,1014.5 313.1,999.8 317.4,996Z" fill="#ffe132"/>
<path d="M322.6,1002.9C325.2,1000.5 336.8,1000.6 340,1002.9C343.1,1005.2 344.3,1014.3 341.7,1016.8C339.1,1019.3 327.5,1020 324.4,1017.7C321.2,1015.4 320,1005.4 322.6,1002.9Z" fill="#ffa500"/>
<path d="M331.6,1011.1C332.2,1010.6 334.2,1010.6 334.8,1011.1C335.3,1011.6 335.3,1013.7 334.8,1014.2C334.2,1014.7 332.2,1014.7 331.6,1014.2C331.1,1013.7 331.1,1011.6 331.6,1011.1Z" fill="#ff0000"/>
<path d="M319.2,1027.2C324.1,1024.3 346.3,1023.2 352.1,1025.5C357.9,1027.8 355.8,1037.9 353.8,1041.1C351.8,1044.2 345.2,1044.2 340,1044.5C334.8,1044.8 326.1,1045.7 322.6,1042.8C319.2,1039.9 314.2,1030.1 319.2,1027.2Z" fill="#aad4ff"/>
<path d="M327.8,1032.4C330.4,1031.1 342.3,1031.2 345.2,1032.4C348,1033.6 347.8,1038 345.2,1039.3C342.6,1040.6 332.4,1041.4 329.6,1040.2C326.7,1039 325.2,1033.7 327.8,1032.4Z" fill="#fff"/>
<path d="M360.8,996C363.6,994.6 376.9,994.3 378.1,996C379.2,997.7 370.6,1005 367.7,1006.4C364.8,1007.8 361.9,1006.4 360.8,1004.7C359.6,1002.9 357.9,997.4 360.8,996Z" fill="#ffe132"/>
<path d="M438.8,1040.2C439.9,1038.2 454.6,1037.5 461.3,1035.9C467.9,1034.3 472.3,1030.7 478.6,1030.7C485,1030.7 496,1031 499.4,1035.9C502.9,1040.8 502.9,1057 499.4,1060.1C496,1063.3 486.1,1057 478.6,1054.9C471.1,1052.9 461,1050.5 454.4,1048C447.7,1045.5 437.6,1042.2 438.8,1040.2Z" fill="#aad4ff"/>
<path d="M466.5,1042.8C467.1,1040.8 474,1038.5 476.9,1039.3C479.8,1040.2 484.4,1046 483.8,1048C483.2,1050 476.3,1052.3 473.4,1051.5C470.5,1050.6 465.9,1044.8 466.5,1042.8Z" fill="#00bfff"/>
<path d="M437,1061C438.2,1060.3 442.8,1060.3 444,1061C445.1,1061.7 445.1,1064.6 444,1065.3C442.8,1066.1 438.2,1066.1 437,1065.3C435.9,1064.6 435.9,1061.7 437,1061Z" fill="#ffe132"/>
<path d="M459.6,1064.5C460.4,1063.9 463.9,1063.9 464.8,1064.5C465.6,1065 465.6,1067.4 464.8,1067.9C463.9,1068.5 460.4,1068.5 459.6,1067.9C458.7,1067.4 458.7,1065 459.6,1064.5Z" fill="#ffe132"/>
<path d="M288,1073.1L305.3,1073.1L322.6,1073.1L340,1075.7L357.3,1077.5L374.6,1068.8L392,1067.1L409.3,1070.5L426.6,1075.7L444,1077.5L461.3,1080.9L478.6,1082.7L496,1086.1L513.3,1087.9L530.6,1089.6L548,1087.9L565.3,1087.9L582.6,1087.9L600,1090.5L617.3,1093.1L634.6,1094.8L652,1094.8L669.3,1093.9L686.6,1093.1L704,1094.8L721.3,1094.8L738.6,1094.8L756,1096.5L773.3,1096.5L790.6,1098.3L808,1089.6L825.3,1086.1L842.6,1070.5L860,1068.8L877.3,1072.3L894.6,1072.3L912,1073.1L912,1098.3L894.6,1098.3L877.3,1100L860,1100L842.6,1101.7L825.3,1101.7L808,1101.7L790.6,1110.4L773.3,1113.9L756,1113.9L738.6,1113.9L721.3,1113.9L704,1112.1L686.6,1110.4L669.3,1110.4L652,1110.4L634.6,1110.4L617.3,1110.4L600,1112.1L582.6,1115.6L565.3,1115.6L548,1115.6L530.6,1113.9L513.3,1112.1L496,1110.4L478.6,1108.7L461.3,1108.7L444,1106.9L426.6,1106.9L409.3,1106.9L392,1106.9L374.6,1105.2L357.3,1103.5L340,1101.7L322.6,1098.3L305.3,1098.3L288,1098.3Z" fill="#aad4ff"/>
<path d="M288,1080.9L305.3,1080.9L322.6,1080.9L340,1079.2L357.3,1080.9L374.6,1082.7L392,1082.7L409.3,1084.4L426.6,1086.1L444,1084.4L461.3,1086.1L478.6,1086.1L496,1093.1L513.3,1094.8L530.6,1095.7L548,1094.8L565.3,1093.1L582.6,1093.1L600,1096.5L617.3,1098.3L634.6,1100L652,1100L669.3,1100L686.6,1098.3L704,1100L721.3,1100L738.6,1100L756,1100L773.3,1101.7L790.6,1103.5L808,1100L825.3,1100L842.6,1084.4L860,1084.4L877.3,1084.4L894.6,1082.7L912,1080.9L912,1094.8L894.6,1094.8L877.3,1096.5L860,1096.5L842.6,1096.5L825.3,1100L808,1100L790.6,1105.2L773.3,1108.7L756,1110.4L738.6,1110.4L721.3,1110.4L704,1110.4L686.6,1108.7L669.3,1108.7L652,1108.7L634.6,1108.7L617.3,1108.7L600,1108.7L582.6,1108.7L565.3,1108.7L548,1109.5L530.6,1109.5L513.3,1108.7L496,1106.9L478.6,1105.2L461.3,1103.5L444,1101.7L426.6,1101.7L409.3,1101.7L392,1101.7L374.6,1101.7L357.3,1101.7L340,1100L322.6,1094.8L305.3,1094.8L288,1094.8Z" fill="#00bfff"/>
<path d="M322.6,1089.6C325.8,1088 334.8,1084.7 343.4,1085.3C352.1,1085.8 362.2,1092.1 374.6,1093.1C387,1094.1 411,1090.5 418,1091.3C424.9,1092.2 421.7,1096.8 416.2,1098.3C410.7,1099.7 397.7,1099.7 385,1100C372.3,1100.3 350.1,1100.9 340,1100C329.8,1099.1 327.2,1096.5 324.4,1094.8C321.5,1093.1 319.4,1091.2 322.6,1089.6Z" fill="#4169e1"/>
<path d="M433.6,1090.5C435,1089.3 440.8,1088.6 444,1089.6C447.1,1090.6 452.6,1094.8 452.6,1096.5C452.6,1098.3 446.8,1100 444,1100C441.1,1100 437,1098.1 435.3,1096.5C433.6,1094.9 432.1,1091.6 433.6,1090.5Z" fill="#4169e1"/>
<path d="M333,1091C334.9,1090 341.4,1088.7 345.2,1089.6C348.9,1090.5 356.4,1095 355.6,1096.5C354.7,1098 343.6,1098.8 340,1098.6C336.3,1098.5 335,1096.9 333.9,1095.7C332.7,1094.4 331.1,1092 333,1091Z" fill="#0000cd"/>
<path d="M392,1095.7C393.7,1095.2 400.6,1095.2 402.4,1095.7C404.1,1096.1 404.1,1097.8 402.4,1098.3C400.6,1098.7 393.7,1098.7 392,1098.3C390.2,1097.8 390.2,1096.1 392,1095.7Z" fill="#0000cd"/>
<path d="M301.8,1085.3C302.8,1084.4 306.9,1084.4 307.9,1085.3C308.9,1086.1 308.9,1089.6 307.9,1090.5C306.9,1091.3 302.8,1091.3 301.8,1090.5C300.8,1089.6 300.8,1086.1 301.8,1085.3Z" fill="#4169e1"/>
<path d="M485.6,1098.3C487.9,1097.7 497.1,1097.7 499.4,1098.3C501.7,1098.8 501.7,1101.2 499.4,1101.7C497.1,1102.3 487.9,1102.3 485.6,1101.7C483.2,1101.2 483.2,1098.8 485.6,1098.3Z" fill="#4169e1"/>
<path d="M501.2,1101.7C504.6,1100.9 518.5,1100.1 522,1100.9C525.4,1101.6 525.4,1105.2 522,1106.1C518.5,1106.9 504.6,1106.8 501.2,1106.1C497.7,1105.3 497.7,1102.6 501.2,1101.7Z" fill="#4169e1"/>
<path d="M556.6,1101.7C558.6,1100.4 571.4,1098.8 577.4,1099.1C583.5,1099.4 584.9,1102.6 593,1103.5C601.1,1104.3 620.8,1103.3 626,1104.3C631.2,1105.3 629.7,1108.8 624.2,1109.5C618.7,1110.3 602.8,1109.1 593,1108.7C583.2,1108.2 571.4,1108.1 565.3,1106.9C559.2,1105.8 554.6,1103 556.6,1101.7Z" fill="#4169e1"/>
<path d="M357.3,1127.7C359.6,1126.3 369.4,1124.6 374.6,1124.3C379.8,1124 385,1124 388.5,1126C392,1128 397.2,1135 395.4,1136.4C393.7,1137.8 383.9,1135.2 378.1,1134.7C372.3,1134.1 364.2,1134.1 360.8,1132.9C357.3,1131.8 355,1129.2 357.3,1127.7Z" fill="#ffe132"/>
<path d="M367.7,1143.3C370.3,1142.2 378.1,1139.9 385,1139.9C392,1139.9 405.5,1142.2 409.3,1143.3C413,1144.4 414.2,1145.9 407.6,1146.5C400.9,1147 376.1,1147.3 369.4,1146.8C362.8,1146.3 365.1,1144.5 367.7,1143.3Z" fill="#ffe132"/>
<path d="M464.8,1122.5C466.8,1121.4 472.8,1120.5 478.6,1120.8C484.4,1121.1 496,1122.5 499.4,1124.3C502.9,1126 502.9,1130 499.4,1131.2C496,1132.4 484.1,1131.8 478.6,1131.2C473.1,1130.6 468.8,1129.2 466.5,1127.7C464.2,1126.3 462.7,1123.7 464.8,1122.5Z" fill="#ffe132"/>
<path d="M476.9,1142.5C480.4,1141.6 495.7,1140.7 499.4,1141.6C503.2,1142.5 502.9,1146.8 499.4,1147.7C496,1148.5 482.4,1147.7 478.6,1146.8C474.9,1145.9 473.4,1143.3 476.9,1142.5Z" fill="#ffe132"/>
<path d="M579.2,996C582.6,994.6 600,995.1 603.4,996C606.9,996.9 603.4,999.8 600,1001.2C596.5,1002.6 586.1,1005.5 582.6,1004.7C579.2,1003.8 575.7,997.4 579.2,996Z" fill="#ffe132"/>
<path d="M683.2,999.5C686.9,998.3 703.4,995.4 707.4,997.7C711.5,1000 709.4,1010.7 707.4,1013.3C705.4,1015.9 699,1014.8 695.3,1013.3C691.5,1011.9 686.9,1007 684.9,1004.7C682.9,1002.4 679.4,1000.6 683.2,999.5Z" fill="#ffe132"/>
<path d="M496,1049.7C500.9,1045.7 515.9,1037.9 525.4,1037.6C535,1037.3 547.4,1044.8 553.2,1048C558.9,1051.2 559.5,1053.2 560.1,1056.7C560.7,1060.1 560.4,1066.5 556.6,1068.8C552.9,1071.1 543.3,1071.7 537.6,1070.5C531.8,1069.4 528.9,1063.3 522,1061.9C515,1060.4 500.3,1063.9 496,1061.9C491.6,1059.8 491,1053.8 496,1049.7Z" fill="#aad4ff"/>
<path d="M511.6,1053.2C513,1051.8 519.9,1050.5 522,1051.5C524,1052.5 525.1,1057.8 523.7,1059.3C522.2,1060.7 515.3,1061.1 513.3,1060.1C511.3,1059.1 510.1,1054.6 511.6,1053.2Z" fill="#00bfff"/>
<path d="M525.4,1037.6C526.6,1035.7 531.9,1035 533.2,1036.7C534.5,1038.5 534.4,1046.1 533.2,1048C532.1,1049.9 527.6,1049.7 526.3,1048C525,1046.3 524.3,1039.5 525.4,1037.6Z" fill="#aad4ff"/>
<path d="M580.9,1072.3C581.8,1070.2 589,1066.5 593,1065.3C597.1,1064.2 603.4,1064.5 605.2,1065.3C606.9,1066.2 606.3,1068.5 603.4,1070.5C600.5,1072.6 591.6,1077.2 587.8,1077.5C584.1,1077.8 580,1074.3 580.9,1072.3Z" fill="#aad4ff"/>
<path d="M496,1139.9C497.4,1138.6 502.9,1138.7 504.6,1139.9C506.4,1141 507.8,1145.5 506.4,1146.8C504.9,1148.1 497.7,1148.8 496,1147.7C494.2,1146.5 494.5,1141.2 496,1139.9Z" fill="#ffe132"/>
<path d="M603.4,1123.4C605.2,1122.1 613.2,1121.4 615.6,1122.5C617.9,1123.7 619,1129 617.3,1130.3C615.6,1131.6 607.5,1131.5 605.2,1130.3C602.8,1129.2 601.7,1124.7 603.4,1123.4Z" fill="#aad4ff"/>
<path d="M568.8,1128.6C578,1128.3 615,1128.7 624.2,1129.1C633.5,1129.6 633.5,1130.9 624.2,1131.2C615,1131.5 578,1131.6 568.8,1131.2C559.5,1130.8 559.5,1128.9 568.8,1128.6Z" fill="#ffe132"/>
<path d="M660.6,1146.8C667.8,1146.5 696.7,1146.5 704,1146.8C711.2,1147.1 711.2,1148.5 704,1148.9C696.7,1149.2 667.8,1149.2 660.6,1148.9C653.4,1148.5 653.4,1147.1 660.6,1146.8Z" fill="#ffe132"/>
<path d="M667.6,1074C669,1073.4 674.8,1074.1 676.2,1074.9C677.7,1075.6 677.7,1077.8 676.2,1078.3C674.8,1078.9 669,1079.1 667.6,1078.3C666.1,1077.6 666.1,1074.6 667.6,1074Z" fill="#ffe132"/>
<path d="M700.5,996C709.4,993.4 747,994.6 754.2,996C761.4,997.4 748.4,1002.4 743.8,1004.7C739.2,1007 733.7,1008.7 726.5,1009.9C719.3,1011 704.8,1013.9 700.5,1011.6C696.2,1009.3 691.5,998.6 700.5,996Z" fill="#ffe132"/>
<path d="M747.3,1030.7C747,1024.3 751.6,1014.2 754.2,1009.9C756.8,1005.5 759.1,1005.2 762.9,1004.7C766.6,1004.1 771.6,1002.4 776.8,1006.4C782,1010.4 791.2,1019.7 794.1,1028.9C797,1038.2 797,1056.7 794.1,1061.9C791.2,1067.1 783.1,1062.4 776.8,1060.1C770.4,1057.8 760.9,1052.9 756,1048C751,1043.1 747.6,1037 747.3,1030.7Z" fill="#aad4ff"/>
<path d="M756,1027.2C755.7,1022.3 756.5,1014.5 759.4,1011.6C762.3,1008.7 767.8,1007.3 773.3,1009.9C778.8,1012.5 789.2,1019.7 792.4,1027.2C795.5,1034.7 794.4,1050.6 792.4,1054.9C790.3,1059.3 785.4,1055.5 780.2,1053.2C775,1050.9 765.2,1045.4 761.2,1041.1C757.1,1036.7 756.2,1032.1 756,1027.2Z" fill="#00bfff"/>
<path d="M762.9,1023.7C762.6,1020 762.9,1015.4 764.6,1013.3C766.4,1011.3 768.7,1009 773.3,1011.6C777.9,1014.2 789.2,1022.6 792.4,1028.9C795.5,1035.3 793.8,1046.6 792.4,1049.7C790.9,1052.9 788,1050.3 783.7,1048C779.4,1045.7 769.8,1039.9 766.4,1035.9C762.9,1031.8 763.2,1027.5 762.9,1023.7Z" fill="#4169e1"/>
<path d="M766.4,1022C765.9,1019 766.1,1015.6 767.2,1014.2C768.4,1012.8 769.1,1010.9 773.3,1013.3C777.5,1015.8 789.2,1023.2 792.4,1028.9C795.5,1034.7 793.5,1045.3 792.4,1048C791.2,1050.7 789.2,1048 785.4,1045.4C781.7,1042.8 773,1036.3 769.8,1032.4C766.6,1028.5 766.8,1025 766.4,1022Z" fill="#0000cd"/>
<path d="M769.8,1022C769.4,1019.7 769.8,1017.8 770.7,1016.8C771.6,1015.8 771.3,1013.8 775,1015.9C778.8,1018.1 790.2,1024.6 793.2,1029.8C796.3,1035 794.2,1044.8 793.2,1047.1C792.2,1049.4 790.5,1046.4 787.2,1043.7C783.8,1040.9 776.2,1034.3 773.3,1030.7C770.4,1027.1 770.3,1024.3 769.8,1022Z" fill="#8a2be2"/>
<path d="M768.1,996C769.5,995.1 777.8,995.1 779.4,996C780.9,996.9 779.1,1000.3 777.6,1001.2C776.2,1002.1 772.3,1002.1 770.7,1001.2C769.1,1000.3 766.6,996.9 768.1,996Z" fill="#8a2be2"/>
<path d="M797.6,1025.5C798.7,1024.6 804.8,1029.8 806.2,1032.4C807.7,1035 807.4,1040.2 806.2,1041.1C805.1,1041.9 800.7,1040.2 799.3,1037.6C797.8,1035 796.4,1026.3 797.6,1025.5Z" fill="#aad4ff"/>
<path d="M793.2,1041.1C794.1,1038.8 797.3,1038.2 797.6,1040.2C797.8,1042.2 795.8,1050.9 795,1053.2C794.1,1055.5 792.6,1056.1 792.4,1054.1C792.1,1052 792.4,1043.4 793.2,1041.1Z" fill="#ffa500"/>
<path d="M846.1,1072.3C846.7,1068.2 854.8,1069.4 860,1068.8C865.2,1068.2 871.5,1068.2 877.3,1068.8C883.1,1069.4 888.3,1071.4 894.6,1072.3C901,1073.1 912,1069.4 915.4,1074C918.9,1078.6 921.8,1095.7 915.4,1100C909.1,1104.3 887.1,1101.2 877.3,1100C867.5,1098.8 861.7,1097.7 856.5,1093.1C851.3,1088.4 845.5,1076.3 846.1,1072.3Z" fill="#aad4ff"/>
<path d="M222.1,1072.3C222.7,1068.2 230.8,1069.4 236,1068.8C241.2,1068.2 247.5,1068.2 253.3,1068.8C259.1,1069.4 264.3,1071.4 270.6,1072.3C277,1073.1 288,1069.4 291.4,1074C294.9,1078.6 297.8,1095.7 291.4,1100C285.1,1104.3 263.1,1101.2 253.3,1100C243.5,1098.8 237.7,1097.7 232.5,1093.1C227.3,1088.4 221.5,1076.3 222.1,1072.3Z" fill="#aad4ff"/>
<path d="M870.4,1075.7C871.7,1074.9 877.6,1074.3 879,1074.9C880.5,1075.4 880.3,1078.3 879,1079.2C877.7,1080.1 872.7,1080.6 871.2,1080.1C869.8,1079.5 869.1,1076.6 870.4,1075.7Z" fill="#fff"/>
<path d="M868.6,1086.1C871.5,1084.7 879.9,1084.5 887.7,1084.4C895.5,1084.3 910.8,1083.4 915.4,1085.3C920,1087.1 921.8,1093.6 915.4,1095.7C909.1,1097.7 884.8,1097.8 877.3,1097.4C869.8,1097 871.8,1094.9 870.4,1093.1C868.9,1091.2 865.7,1087.6 868.6,1086.1Z" fill="#00bfff"/>
<path d="M244.6,1086.1C247.5,1084.7 255.9,1084.5 263.7,1084.4C271.5,1084.3 286.8,1083.4 291.4,1085.3C296,1087.1 297.8,1093.6 291.4,1095.7C285.1,1097.7 260.8,1097.8 253.3,1097.4C245.8,1097 247.8,1094.9 246.4,1093.1C244.9,1091.2 241.7,1087.6 244.6,1086.1Z" fill="#00bfff"/>
<path d="M880.8,1016.8C880.8,1013.9 888.8,1011.3 894.6,1009.9C900.4,1008.4 912,1002.1 915.4,1008.1C918.9,1014.2 917.4,1040.8 915.4,1046.3C913.4,1051.8 906.8,1044.2 903.3,1041.1C899.8,1037.9 898.4,1031.2 894.6,1027.2C890.9,1023.2 880.8,1019.7 880.8,1016.8Z" fill="#aad4ff"/>
<path d="M256.8,1016.8C256.8,1013.9 264.8,1011.3 270.6,1009.9C276.4,1008.4 288,1002.1 291.4,1008.1C294.9,1014.2 293.4,1040.8 291.4,1046.3C289.4,1051.8 282.8,1044.2 279.3,1041.1C275.8,1037.9 274.4,1031.2 270.6,1027.2C266.9,1023.2 256.8,1019.7 256.8,1016.8Z" fill="#aad4ff"/>
<path d="M891.2,1016.8C890.9,1013.3 899.2,1012.6 903.3,1011.6C907.3,1010.6 913.4,1006.1 915.4,1010.7C917.4,1015.4 917.2,1035.7 915.4,1039.3C913.7,1042.9 909.1,1036.2 905,1032.4C901,1028.6 891.4,1020.3 891.2,1016.8Z" fill="#00bfff"/>
<path d="M267.2,1016.8C266.9,1013.3 275.2,1012.6 279.3,1011.6C283.3,1010.6 289.4,1006.1 291.4,1010.7C293.4,1015.4 293.2,1035.7 291.4,1039.3C289.7,1042.9 285.1,1036.2 281,1032.4C277,1028.6 267.4,1020.3 267.2,1016.8Z" fill="#00bfff"/>
<path d="M898.1,1015.9C899.7,1013.5 912.5,1009 915.4,1011.6C918.3,1014.2 917,1029.1 915.4,1031.5C913.8,1034 908.8,1028.9 905.9,1026.3C903,1023.7 896.5,1018.4 898.1,1015.9Z" fill="#4169e1"/>
<path d="M274.1,1015.9C275.7,1013.5 288.5,1009 291.4,1011.6C294.3,1014.2 293,1029.1 291.4,1031.5C289.8,1034 284.8,1028.9 281.9,1026.3C279,1023.7 272.5,1018.4 274.1,1015.9Z" fill="#4169e1"/>
<path d="M903.3,1015.9C904.6,1014.3 913.4,1011.6 915.4,1013.3C917.4,1015.1 916.7,1024.7 915.4,1026.3C914.1,1027.9 909.6,1024.6 907.6,1022.9C905.6,1021.1 902,1017.5 903.3,1015.9Z" fill="#0000cd"/>
<path d="M279.3,1015.9C280.6,1014.3 289.4,1011.6 291.4,1013.3C293.4,1015.1 292.7,1024.7 291.4,1026.3C290.1,1027.9 285.6,1024.6 283.6,1022.9C281.6,1021.1 278,1017.5 279.3,1015.9Z" fill="#0000cd"/>
<path d="M906.8,1016.5C907.8,1015.3 914,1013 915.4,1014.2C916.9,1015.4 916.4,1022.6 915.4,1023.7C914.4,1024.9 910.8,1022.3 909.4,1021.1C907.9,1019.9 905.7,1017.6 906.8,1016.5Z" fill="#8a2be2"/>
<path d="M282.8,1016.5C283.8,1015.3 290,1013 291.4,1014.2C292.9,1015.4 292.4,1022.6 291.4,1023.7C290.4,1024.9 286.8,1022.3 285.4,1021.1C283.9,1019.9 281.7,1017.6 282.8,1016.5Z" fill="#8a2be2"/>
<path d="M863.4,1125.1C863.4,1124 868.6,1122.4 877.3,1120.8C886,1119.2 909.1,1115.6 915.4,1115.6C921.8,1115.6 921.8,1118.8 915.4,1120.8C909.1,1122.8 886,1127 877.3,1127.7C868.6,1128.5 863.4,1126.3 863.4,1125.1Z" fill="#aad4ff"/>
<path d="M239.4,1125.1C239.4,1124 244.6,1122.4 253.3,1120.8C262,1119.2 285.1,1115.6 291.4,1115.6C297.8,1115.6 297.8,1118.8 291.4,1120.8C285.1,1122.8 262,1127 253.3,1127.7C244.6,1128.5 239.4,1126.3 239.4,1125.1Z" fill="#aad4ff"/>
<path d="M802.8,1144.2C808,1143.8 828.8,1144.1 834,1144.7C839.2,1145.3 839.2,1147.2 834,1147.7C828.8,1148.1 808,1147.9 802.8,1147.3C797.6,1146.7 797.6,1144.6 802.8,1144.2Z" fill="#ffe132"/>
<path d="M738.6,1147.1C745.6,1146.8 773.3,1146.8 780.2,1147.1C787.2,1147.5 787.2,1149 780.2,1149.4C773.3,1149.8 745.6,1149.8 738.6,1149.4C731.7,1149 731.7,1147.5 738.6,1147.1Z" fill="#ffe132"/>
<path d="M821.8,1061.9C822.5,1060 825.6,1058.7 826.2,1060.1C826.7,1061.6 826,1068.7 825.3,1070.5C824.6,1072.4 822.4,1072.8 821.8,1071.4C821.2,1070 821.1,1063.7 821.8,1061.9Z" fill="#aad4ff"/>
<path d="M823.6,1076.6C825.9,1075.9 836.6,1076 839.2,1076.6C841.8,1077.2 841.5,1079.3 839.2,1080.1C836.8,1080.8 827.9,1081.5 825.3,1080.9C822.7,1080.4 821.2,1077.3 823.6,1076.6Z" fill="#aad4ff"/>
<path d="M704,1074.9C704.8,1074.2 708.3,1074.2 709.2,1074.9C710,1075.5 710,1078.2 709.2,1078.9C708.3,1079.5 704.8,1079.5 704,1078.9C703.1,1078.2 703.1,1075.5 704,1074.9Z" fill="#ffe132"/>
<path d="M743,1076.1C743.5,1075.6 745.8,1075.6 746.4,1076.1C747,1076.6 747,1078.7 746.4,1079.2C745.8,1079.7 743.5,1079.7 743,1079.2C742.4,1078.7 742.4,1076.6 743,1076.1Z" fill="#ffe132"/>
</g>
<rect x="288" y="840" width="624" height="312" fill="url(#stip)"/>
<g clip-path="url(#clip2)" fill="none" stroke="#000" stroke-width="1.7" stroke-linejoin="round">
<path d="M281.4,933.9L288.1,935.2L291.6,933.9L296.8,932.2L305.5,931.9L308.9,931.5L310.7,931.9L309.3,936.5L310.7,938.5L317.6,939.8L324.5,943.5L326.3,942.3L326.3,939.7L331.5,939.5L334.9,941.2L341.9,942.3L345.3,941.4L347.6,941.9L348.1,944.2L349.7,947.5L352.3,954.4L355.7,959.6L356.3,963.6L359.2,969.1L362.7,972.6L366.1,974.5L366.7,976.1L369.6,977.8L374.8,976.6L380.3,975.5L379.7,979.5L374.8,987.3L369.6,992.5L364.4,997.7L360.9,1001.2L359.2,1006.4L360.1,1011.6L361.8,1015.1L361.8,1022L357.5,1026.3L352.3,1030.7L352.8,1036.7L348.8,1040.2L348.5,1044.5L344.5,1049.7L338.4,1054.6L329.7,1055.3L326.3,1056.3L323.5,1054.9L322.8,1051.5L320.2,1045.4L317.6,1041.1L316.7,1034.1L312.4,1025.5L315,1016.8L312.9,1006.4L307.2,997.7L308.1,989.9L305.5,988.2L300.3,985.9L293.3,985.9L288.1,987.7L282.9,987.3L278.6,988.4L274.3,985.6L269.1,981.3L265.6,976.9L262.1,970.5L263,963.1L262.1,959.6L263.9,954.4L266.5,950.9L269.1,948L274.3,944.9L274.8,941.4L279.5,937.1L281.4,933.9 M377.1,1016.8L379,1022.9L377.4,1027.2L373.9,1039.3L369.6,1040.2L367,1036.7L368.4,1030.7L367.9,1025.5L372.2,1022.9L374.8,1019.4L377.1,1016.8 M281.9,933.6L280.5,932.2L278.8,931.5L276.2,931.9L275.5,928.9L276.3,924.9L275.7,921.5L277.7,920.3L284.7,920.8L288.5,920.8L289.5,916.3L287.3,914L283.5,912.8L283.6,911.8L288.8,911.6L288.5,909.9L291.9,910.2L294.4,908.8L295.9,907.4L298.5,905.9L300.3,903.8L303.7,903.1L306.5,902.4L305.8,899.6L305.8,897.2L309.8,896L309.5,898.1L308.6,900.7L310.3,902.4L313.3,901.7L316.2,902.4L320.2,901.5L323.7,901L325.9,901.7L328,899.8L328,897.2L330.6,896L333.7,896.9L332.3,894.6L332.3,893.4L338.4,892.9L343.6,892L341,891L334.9,891.7L330.6,892L328.5,890.3L328.5,887.7L334.1,883.7L335.5,882.5L330.3,881.9L328.5,884.2L322.5,887.7L321.4,890.3L324.2,892L320.5,896.3L319.3,898.6L316.4,899.8L314.1,900L313.6,898.6L311,894.6L310,893.2L308.1,894.1L305.5,895.3L302,894.6L300.3,892L300.3,888.5L303.7,886.8L308.9,885.1L312.4,881.6L315.9,878.1L319.3,876.4L324.5,874.7L331.5,872.9L336.7,872.9L341,872.9L345.3,874.1L343.6,875.2L348.8,875.7L354,876.1L362.7,878.1L362.7,880.4L357.5,881.4L350.5,880.4L352.3,884.2L357.5,885.1L360.9,884L361.8,881.6L366.1,880.9L367.9,881.4L367.9,878.1L372.2,878.1L371.3,880.2L374.8,878.8L383.5,876.7L385.2,877.8L393.9,876.7L397.3,875L403.4,876.1L407.7,876.7L411.2,877.3L407.7,875.5L407.7,872.9L411.2,869.5L417.3,870L418.1,872.9L416.4,877.3L419,880.2L414.7,881.1L418.1,881.3L421.6,878.5L419.9,876.7L421.6,871.5L425.1,871.2L426.8,872.1L430.3,871.2L432,868.6L441.5,868.1L442.4,866L449.3,864.8L461.5,863.9L471.9,861.3L477.1,862.9L485.7,863.2L488.3,865.1L482.3,867.7L487.5,868.1L496.1,868.6L506.5,868.3L511.7,870.3L516.1,872.9L522.1,872.1L529.1,872.1L534.3,870L544.7,870.5L551.6,872.1L555.1,872.9L567.2,873.3L568.9,875.2L582.8,875L587.1,876.4L588,874.7L596.7,875L603.6,876.4L612.3,879L620.9,881.3L616.6,884.2L610.5,882.8L605.3,882.5L603.6,883.3L601,884.2L599.3,887.7L593.2,888.9L587.1,892L579.3,892L575,895.5L572.4,898.1L574.1,900.7L568.9,904.1L566.3,907.6L563.2,907.6L561.5,902.4L562,897.2L567.2,893.7L574.1,889.4L575.9,887.7L568.9,889.1L562.9,889.4L560.3,893.2L555.1,893.7L549.9,892.7L539.5,893.2L534.3,896.3L529.9,901.5L533.4,902.4L536.3,904.1L534.8,907.6L535.1,911.9L530.8,915.7L526.5,919.7L522.1,921.8L518.7,922.3L516.6,924.1L516.1,926.7L512.6,927.5L514.3,929.3L515.9,932.7L515.2,935L511.7,936L510.5,935.3L511,931.9L508.3,930.5L508.3,927.5L503.1,928.4L501.7,925.3L497.9,928.1L495.6,928.4L497.5,931L501.3,930.7L503.9,931.9L500.5,933.3L498.4,935.3L500.8,938.8L502.7,940.9L502.7,942.6L503.1,944.9L501.3,947.5L498.7,951.8L495.3,954.4L492.7,956.3L488.3,957.3L484,958.9L482.6,960.8L481.7,958.7L478.8,958.6L476.5,960.5L475,963.1L477.1,966.5L480.2,970L481.1,974.3L480.5,976.1L477.1,978L473.9,980.9L473.3,978.7L470.1,976.9L469.3,974.9L466.5,972.8L464.9,972.8L464.4,976.1L463.5,979.5L465.5,982.1L467.5,984.2L470.1,986.5L471,989.1L472.2,993.4L471,993.7L467.2,991.1L465.6,987.3L465.3,984.7L462,982.1L462.3,978.7L462.5,975.2L460.9,970L460.6,967.4L457,968.6L455.1,968.3L455.4,964.8L453.7,961.7L451.1,958.7L449.3,957L445.9,958.2L442.4,958.7L441.5,961L438.9,962.2L434.3,967.4L430.6,969.1L430.6,973.5L429.9,978.1L428.5,979.9L427.1,980.6L425.9,982L424.2,980.4L422.5,976.1L421.3,973.5L419.9,970L418.1,965.7L417.8,962.2L417.6,959.6L416.9,958.7L413.8,959.9L411.2,957.3L413.5,956.1L410.3,955.3L407.7,953L406.9,952L399.1,952.3L393.9,952L390.7,951.3L389.7,949.2L386.1,949.9L382.6,948.2L379.7,945.7L378.3,943.7L376.2,943.5L374.8,944.3L376,946.6L378.3,949.7L378.6,951.8L380,953.4L381,951.1L381.2,953.9L385.2,954.1L389.2,950.6L389.5,953.5L393.2,955.1L395.3,957L393,960.5L391.8,963.4L387.5,965.7L382.1,968.3L376.5,971.4L369.6,973.8L367,974L365.8,970.3L365.3,967.4L362.3,963.1L359.4,958.7L358.3,954.7L356.1,952.1L352.3,947.5L352.1,944.9L350.9,947.8L349.8,946.9L348.1,944.2L347.6,941.9L350.9,941.7L352.1,939.7L353.1,937.2L354,933.9L354.3,932.6L351.6,932.2L348.8,933.4L344.6,932.2L342,932.4L339.1,931.9L337.2,929.6L338.1,927.5L337,926.5L336.7,925.6L333.2,925.3L332.9,926.7L331.3,925.8L330.8,927.5L332,929.8L333.2,930.7L331.5,931.3L331.6,932.7L330.3,932.7L329.2,932L328.3,930.5L328.2,929.4L326.8,927.9L325.2,925.8L325.4,923.5L323.7,922.3L319.3,920.6L317.9,919.2L316.7,917.7L315.2,917.8L315.3,916.8L312.9,917.5L313.1,919.4L315.2,920.6L316.2,922.7L319.3,923.4L319.3,924.2L323.7,926.3L323.5,927L321.1,925.8L320.2,927.2L321.2,928.4L320.2,929.6L318.8,930.1L319,928.4L318.1,926.7L315.9,925.3L313.3,924.1L310.7,922.5L309.3,920.6L307.2,919.2L304.6,920.1L302,921.3L299.7,920.8L297,921.3L297.1,923.4L293,924.9L291.6,927.2L291.3,928.7L290.4,930.7L288.1,932.2L283.8,932.4L281.9,933.6 M341.9,924.6L346.2,924.6L349.3,923.2L352.3,923.2L354.9,924.4L358.3,924.9L363.5,924.1L363.5,922L360.4,920.4L357.5,918.9L356.3,917.5L358,915.9L359.5,914.2L356.6,914.5L352.6,915.9L354.9,917.3L353.1,918L349.8,918.9L347.9,917.3L349.8,916.1L346.7,915.4L344.8,915.7L343.1,917.5L341.3,919.7L340,922L340.1,923.4L341.9,924.6 M0.4,882.3L3.9,881.3L7.3,880.7L11.7,881.1L8.2,879.9L7.3,878.1L3,877.4L9.1,875.5L14.3,873.8L20.3,872.4L28.1,873.3L35.1,874L43.7,874.5L48.9,875.4L55.9,876.6L61.1,875.5L68,874.7L74.9,875.7L81.9,875L88.8,876.4L92.3,878.1L100.9,878.3L104.4,877.8L107.9,876.7L114.8,878.5L121.7,878.5L123.5,877.3L126.1,878.1L125.2,875.5L128.7,871.5L132.1,874.7L134.7,877.3L139.1,876.7L142.5,879L149.5,877.3L150.7,879L147.7,881.3L142.5,881.6L140.8,884.2L135.6,885.1L130.4,888.5L127.8,892L127.8,894.1L131.3,897.2L135.6,897.2L144.3,900.1L148.9,900.3L149.5,904.1L151.2,906.7L153.5,907.3L155,905L153.8,901.5L158.1,898.9L159,896.3L155.9,894.3L157.3,892L156.4,888L163.3,888L170.3,890.3L171.1,893.7L174.6,894.9L178.1,892.3L179.8,891.5L184.1,896.3L185.9,899.3L191.1,901L194.5,904.1L194.9,906.7L190.2,907.3L187.6,909L180.7,908.8L175.8,909.3L171.1,912.8L168.5,914.9L172.9,912.3L178.9,910.7L180.1,911.9L178.9,913.7L179.8,915.9L185,916.6L187.6,916.3L185.9,917.7L181.5,918.7L177.2,920.6L177.2,918.9L179.8,917.1L175.5,918L172,919.7L169.4,920.9L168.9,922.3L170.3,923.7L167.7,924.2L163.3,925.5L163,927.5L160.7,929.3L159.9,931.9L160.4,934.3L158.1,936.2L155.5,937.4L151.2,940.9L150.3,944L152.4,948.3L152.6,951.8L151.2,952.3L148.3,948.2L148.1,945.7L146,944L143.4,944.5L139.1,943.5L136.5,944L136.8,945.7L133.9,945.4L129,944.5L126.9,945.7L123.5,947.5L122.6,951.8L122.1,957L123.5,960.5L125.2,963.1L127.8,964.5L132.1,963.6L134.7,960.5L135.6,959.3L140.8,958.7L139.9,963.1L138.5,965.7L137.7,968.3L142.5,968.4L146.9,969.5L146.9,974.3L146.5,976.9L148.6,979.5L151.2,980.7L153.8,979.5L157.3,980.9L156.6,983.5L155.5,981.3L153.3,980.9L152.4,983.3L148.1,981.8L146.5,980.7L143.4,978.7L141.7,975.2L139.9,973.1L135.6,972.1L131.6,970.7L127.8,967.9L123.5,968.6L118.3,966.7L112.2,964.3L108.7,961.3L108.7,957.9L105.3,953.5L101.8,950.9L99.2,947.5L95.7,942.6L92.6,940.9L93.1,944L96.6,948.3L100.1,953.5L101.5,956.1L97.5,952.7L93.1,947.5L90.5,943.1L88.5,939.5L86.2,937.1L82.6,936L80.1,932.2L78.4,929.3L76.1,926L76.3,921.5L76.7,915.9L75.5,912.1L78.4,912.5L79.3,913.7L78.4,911.1L74.9,909.3L70.6,906.7L69.7,904.1L65.7,901.2L62.8,898.1L59.3,895.1L55,894.6L49.8,892.3L42.9,892L38.5,890.6L34.2,891.1L31.6,892.9L28.1,892.9L29.9,890.3L25.5,892.9L23.8,895.5L18.6,897.7L13.4,899.8L9.1,901L12.5,898.9L16.9,896.3L18.6,894.1L13.4,894.1L10.8,893.2L9.9,891.5L4.7,890.3L5.6,887.7L9.1,886.5L12.5,885.6L12.5,884L6.5,884.2L3,883.3L0.4,882.3 M157.3,980.9L159.9,980.4L160.7,977.5L165.1,976.4L167.3,974.5L167.7,976.9L170.3,975.5L172.9,977.6L177.2,977.6L180.7,978L184.1,977.5L185.9,979.5L188.5,981.8L191.9,985.3L198,985.9L202,988.2L204.1,992.5L204.9,996L207.5,997.7L210.1,997.2L214.5,1000L219.7,1001L224.9,1002.6L230.4,1005.2L231.1,1009L227.5,1015.1L224.3,1018.5L224,1023.7L222.6,1028.9L220.5,1034.1L217.1,1035.9L212.7,1037.3L208.4,1040.2L207.2,1044.5L204.1,1049.7L200.6,1054.1L198,1056.1L193.7,1056.3L190.5,1054.9L192.5,1058.4L191.8,1061.9L187.6,1063.6L183.8,1063.6L183.3,1067.1L178.9,1067.1L180.7,1069.7L178.4,1073.7L174.6,1075.7L177.2,1078.3L173.7,1082.7L172,1084.4L173,1086.7L169.4,1087.3L166.8,1088.7L163.3,1087L161.6,1083.5L162.5,1079.2L160.7,1076.6L164.2,1072.3L165.1,1068.8L163.7,1065.3L164.2,1060.5L165.9,1057.5L167.7,1053.2L167.7,1048L169.4,1041.1L169.9,1034.1L169.7,1027.9L166.8,1025.5L161.6,1022.9L159.3,1019.9L157.8,1016.8L155,1011.6L153.3,1008.1L150.9,1006.4L151.2,1003.5L152.9,1001.2L151.5,999.8L152.1,996.9L152.9,994.6L155,993.4L157.3,989.1L157.6,985.6L156.6,983.5 M172.7,1087.2L169.4,1088.7L166.8,1089.9L170.3,1091.7L175.5,1091.9L178.6,1090.8L175.5,1089.6L173.2,1087.9L172.7,1087.2 M185.9,1085.3L191.1,1085.1L189.3,1086.5L185.9,1086.1L185.9,1085.3 M225.7,1089.6L229.2,1090.5L227.5,1090.1L225.7,1089.6 M165.1,860.5L173.7,857.3L184.1,854.7L196.3,853.5L213.6,853L234.4,851.3L248.3,852.5L256.9,854.4L269.1,854.7L262.1,857.3L258.7,859.9L258.7,863.4L255.2,866.9L251.7,870.3L253.5,873.8L248.3,875.5L239.6,877.8L232.7,880.7L225.7,882.1L221.4,884.2L218.8,887.7L217.1,891.7L213.6,892L208.4,890.3L204.9,887.7L201.5,884.2L198.9,879.9L203.2,875.5L197.1,873.8L196.3,870.3L191.1,866L184.1,863.9L175.5,864.3L168.5,862.2L165.1,860.5 M250,882.5L253.5,880.9L260.4,881.3L265.6,881.1L268.2,883.3L265.6,884.7L259.5,886.1L252.6,885.4L253.5,883.7L250,882.5 M282.1,909.3L286.4,908.3L291.6,907.9L294,907.3L292.5,906.7L294.5,904.7L292.1,904.1L291.3,902.4L289,900.7L288.1,898.9L286.1,898.9L288.1,896L284.7,896L286.4,894.4L282.9,894.4L281.2,896.7L282.1,898.9L283.3,900.7L286.1,901L286.4,903.4L283.8,903.8L284.3,905.3L282.6,906.2L286.1,906.9L283.8,907.6L282.1,909.3 M281.2,905.5L280.9,903.3L281.9,901.4L279.5,900.1L276.9,901L274.3,902.1L275.1,904.1L273.7,905.9L275.1,906.7L278.6,905.9L281.2,905.5 M488.3,1034.1L489.2,1041.1L490.9,1048L490.9,1054.1L492.7,1056.7L497,1056.7L501.3,1054.6L506.5,1053.2L511.7,1051.8L516.1,1050.8L520.4,1051.5L524.7,1053.2L526.5,1056.3L529.1,1054.1L530.5,1052.5L530.5,1055.8L531.7,1057.5L533.4,1058.4L535.1,1061.9L540.3,1063.3L542.9,1062.2L545.5,1063.6L548.1,1061.7L551.6,1060.7L552.1,1057.5L553.9,1054.1L556.5,1050.6L557.7,1045.4L556.8,1040.2L553.3,1036.7L550.7,1034.1L548.1,1030.7L545,1028.9L543.8,1024.6L542.9,1021.7L540.3,1020.3L538.6,1014.7L537,1018.5L536.9,1022.9L535.1,1026.3L532.5,1026L529.9,1023.7L527,1022L527.3,1018.5L528.5,1017.1L524.7,1016.8L521.3,1015.6L518.7,1017.3L516.6,1021.7L513.5,1021.7L510.9,1020.3L508.3,1022.9L505.7,1025.5L503.4,1027.2L502.2,1029.8L497.9,1030.7L493.5,1031.9L490.1,1033.6L488.3,1034.1 M542.4,1066.5L545.5,1067.2L548.7,1066.9L548.5,1069.7L546.4,1071.6L544.7,1071.4L543.3,1069.3L542.4,1066.5 M590.9,1055.6L593.7,1058.1L595.8,1059.6L596.7,1061.2L600.7,1061.3L599.3,1064.1L598.2,1065.9L595.5,1068.1L594.6,1067.6L595.3,1065.7L592.9,1064.1L594.4,1061.9L594.1,1059.3L591.8,1057L590.9,1055.6 M590.9,1066.4L593.5,1067.6L592.3,1070.5L590.6,1071.9L588.5,1073L587.7,1075.6L585.4,1076.8L583.3,1076.6L580.4,1075.7L581.1,1074L583.7,1072.3L587.1,1070.5L588.9,1068.5L590.9,1066.4 M518.7,997.4L521.3,996.7L523.9,997.4L524.4,1000.3L526.5,1001.7L529.9,998.9L533.4,999.8L536,1000.5L542.1,1002.8L544.3,1004.7L547.3,1006.4L547.8,1008.1L549,1011.6L552.5,1013.9L549.9,1013.9L546.4,1012.5L544.7,1010.2L542.1,1009.3L540.3,1010.7L538.6,1011.9L536,1011.8L532.5,1010L530.8,1010.6L532.2,1008.1L530.8,1005.5L527,1003.8L523,1002.6L521.8,1002.9L520.4,1001L523,1000.3L520.9,999.8L518.7,997.4 M549,1005.5L552.5,1005.5L555.4,1003.3L554.2,1005.5L550.7,1006.7L549,1005.5 M560.3,1006.4L562.9,1009L561.1,1007.8L560.3,1006.4 M567.2,1010.2L570.7,1013L568.9,1012.5L567.2,1010.2 M580.4,1022L581.6,1024.1L580.7,1023L580.4,1022 M575.9,1030.7L579.3,1033.3L581.1,1034.7L578.5,1033.4L575.9,1030.7 M598.9,1026.3L601,1026.3L600.7,1027.5L598.9,1027.2L598.9,1026.3 M480.5,993.4L481.6,992.5L484.5,991.7L487.5,990.3L490.1,987.9L492.7,984.7L494.4,983.9L495.6,985.6L497.9,987L496.1,988.4L495.6,990.8L496.1,993.4L495.6,995.1L495.3,997.4L493.5,998.6L492.7,1002.2L490.4,1002.9L487.5,1001.5L485.2,1001.7L482.6,1001L482.3,998.6L480.5,996.5L480.5,993.4 M456.8,986.3L460.6,987L462,988.7L464.9,991.5L467.5,992.5L471,996L471.9,998.1L475.3,1001.2L475,1006.1L472.9,1006.1L468.9,1002.9L466.7,1000.5L465.5,997.4L463.2,995.1L462.7,993.1L460.6,991.1L458,989.1L456.8,986.3 M473.9,1007.8L476.7,1006.4L479.7,1007.6L483.7,1007.1L486.9,1008L490.1,1009.5L489.9,1011.1L485.7,1010.6L481.4,1009.5L477.9,1009.3L476,1008.8L473.9,1007.8 M491.8,1010.4L494.4,1010.6L497.9,1010.7L497,1011.4L492.7,1011.4L491.8,1010.4 M499.3,1010.7L504.5,1010.4L503.9,1011.3L499.6,1011.4L499.3,1010.7 M505.7,1013.9L508.3,1011.9L511.7,1010.6L510,1012.1L506.5,1013.9L505.7,1013.9 M499.3,994.6L501,993.7L504.8,994.4L508.3,993.2L507.4,995.3L502.2,995.1L499.9,997.6L502.4,997.6L505.3,997.6L502.7,999.3L503.6,1001.7L504.8,1003.5L503.4,1004.3L502.2,1002.9L501.2,1000.7L500.3,1002.9L500.3,1005.5L498.7,1005.5L498.7,1002.1L497.5,1000.9L499.3,994.6 M512.6,992.5L514.3,993.4L513.5,995.1L514.3,997.2L513.1,996L512.6,994.3L512.6,992.5 M513.5,1001.2L518.3,1001.7L516.1,1002.1L513.5,1001.9L513.5,1001.2 M500.6,963.9L503.4,964.1L503.6,967.4L502.2,970L503.9,971.7L506.5,973.5L506.5,974.2L503.9,972.6L501.3,972.3L500.6,970.9L499.6,968.6L500.1,966L500.6,963.9 M503.1,983.9L505.7,981.1L509,979.2L510.9,982.1L510.3,985.1L509.1,986.1L506.9,985.1L506.5,983L503.9,983L503.1,983.9 M503.1,977.8L504.8,975.7L505.3,978.7L503.9,979.5L503.1,977.8 M507.1,974.3L509.1,974.7L509.3,976.9L507.9,978.3L507.2,976.4L507.1,974.3 M494.7,981.4L498.7,977.8L498.4,976.4L496.1,979L494.7,981.4 M500.5,972.8L502,973.1L501.7,974.7L500.5,972.8 M501.3,952.3L502.9,953L501,957.9L499.8,956.1L501.3,952.3 M480,962.7L482.3,961.3L484,962L482.3,964.3L480,963.8L480,962.7 M430.1,979.2L432.3,981.3L433.4,983.9L432,985.4L430.3,985.6L429.7,982.1L430.1,979.2 M518.5,937.1L521.3,934.6L527,934.3L528.7,931.5L531.7,931.2L533.9,928.4L534.3,925.6L536.5,924.2L537.4,927L536,929.6L535.7,932.2L534.6,934.8L532.2,935.9L529.1,936L527,937.9L525.8,936.2L522.1,936.5L518.7,937.2L518.5,937.1 M516.9,937.9L519.9,937.6L520.1,939.7L518.1,942.3L517.3,941.6L517.3,939.5L516.4,938.8L516.9,937.9 M521.3,937.2L524.7,936.7L524.2,938.1L522.1,939.1L521.3,937.2 M534.8,924.1L536.3,922.3L540,923.2L543.8,920.9L542.1,919.7L537.7,917.1L537,919.7L536.5,921.1L534.8,922.3L534.8,924.1 M537.7,916.3L540.3,914.9L538.9,913.7L539.5,910.7L542.1,911.1L540,908.5L540,905L539.1,901.9L537.7,903.3L537.4,906.7L537.9,910.2L537.7,913.1L537.7,916.3 M544.7,918.9L549,917.1L551.6,915.9 M555.1,914.2L558.5,911.1L561.1,908.8 M380.9,872.1L384.3,873.3L391.3,873.5L387.8,871.2L388.7,868.6L393,866.9L399.1,864.6L410.3,862.9L409.5,864.1L397.3,865.7L392.1,868.1L386.9,869.5L381.7,871.2L380.9,872.1 M310.7,858.2L315.9,861.7L321.1,863.2L324.5,859.9L329.7,860.3L328,858.2L338.4,857.2L326.3,856.5L319.3,857.3L310.7,858.2 M373.1,856.3L381.7,856.8L380,855.8L373.1,856.3 M385.2,856.5L392.1,857L399.1,856.3L404.3,855.6L392.1,855.3L385.2,856.5 M456.3,859.1L464.9,860.8L473.6,859.9L471.9,858.2L464.9,856.5L458,855.6L451.1,857.3L456.3,859.1 M529.1,865.5L539.5,866L551.6,865.7L544.7,864.3L534.3,864.3L529.1,865.5 M534.3,868.8L539.5,869.1L536.9,867.9L534.3,868.8 M601,872.9L607.1,872.1L604.5,873.1L601,872.9 M313.3,930.1L318.5,929.8L317.8,932.4L313.3,930.8L313.3,930.1 M305.8,924.9L308.4,924.9L308.2,928.1L306.3,928.4L305.8,924.9 M306.5,922.3L308.1,921.5L307.9,924.1L306.5,922.3 M332.3,934.5L337.2,935L334.1,935.3L332.3,934.5 M347.6,935.3L351.4,934.3L350,935.9L347.6,935.3 M144.3,958.2L148.6,956.1L152.9,956.1L158.1,958.7L163,961L157.3,961.5L156.4,960.1L152.1,958.2L149.5,957.3L146,957.9L144.3,958.2 M162.6,963.9L165.1,961.5L170.3,961.7L173,963.8L170.3,964.3L167.7,965.1L165.9,964.5L162.6,963.9 M155.9,964.3L159.3,964.8L157.3,965.1L155.9,964.3 M175.1,964.1L177.9,964.3L175.1,964.8L175.1,964.1 M156.4,950.1L158.1,950.4L157.6,952.7L156.4,953.9 M159.9,954.4L161.6,955.8L164.2,957 M184.5,977.5L185.9,977.5L185.5,978.5L184.5,977.5 M188.8,913.5L194.5,906.7L195.4,910.2L199.7,911.9L199.7,915.1L194.5,914.5L188.8,913.5 M69.2,908.1L74.9,909.3L77.5,912.1L74.1,911.4L69.2,908.1 M61.1,902.4L63.1,902.7L63.7,905L61.9,904.1L61.1,902.4 M24.7,895.8L27.6,896.2L25.5,897.2L24.7,895.8 M5.6,901.9L0.4,903.3L-4.8,904.8L-10,905.5L-15.2,906.2 M600.1,906.2L594.9,905.3L591.5,904.5 M-5.7,885.9L-1.3,886.5L-3.1,885.6L-5.7,885.9 M2.1,891.7L4.2,892L3,892.3L2.1,891.7 M152.9,868.3L159.9,869.8L166.8,872.1L173.7,874.7L175.5,877.3L184.1,880.2L180.7,883.3L178.9,887.1L173.7,885.9L166.8,884.7L156.4,884L163.3,881.6L165.1,878.1L156.4,874.7L144.3,874.7L137.3,872.1L144.3,868.6L152.9,868.3 M88.8,872.1L97.5,869.8L109.6,869.5L116.5,872.1L114.8,875L106.1,876.6L95.7,877.3L88.8,875L88.8,872.1 M74.9,871.2L81.9,866.9L92.3,868.6L83.6,872.6L74.9,871.2 M135.6,863.4L152.9,863.7L161.6,859.9L184.1,853L170.3,852L144.3,853.3L132.1,855.6L140.8,859.1L135.6,863.4 M125.2,865.1L135.6,866.9L152.9,866.5L151.2,864.6L137.3,863.4L125.2,865.1 M88.8,865.7L100.9,866.9L109.6,865.7L100.9,863.4L88.8,864.3L88.8,865.7 M111.3,865.1L121.7,866L121.7,863.4L113.1,863.4L111.3,865.1 M140.8,882.5L146,882.8L151.2,885.4L144.3,886.8L140.8,885.1L140.8,882.5 M114.8,869.5L123.5,868.1L130.4,867.7L132.1,870.3L123.5,872.1L114.8,871.2L114.8,869.5 M119.1,876.1L123.5,875L126.1,876.4L121.7,876.9L119.1,876.1 M125.2,857.3L135.6,856.5L140.8,858.2L128.7,859.9L125.2,857.3 M78.4,864.3L87.1,861.7L90.5,863.4L81.9,864.6L78.4,864.3 M109.6,860.8L120,859.4L123.5,861.1L113.1,861.7L109.6,860.8 M179.8,909.5L184.1,910.5L181.5,910.7L179.8,909.5 M376.5,915.4L380,914.5L383.5,915.4L382.6,917.5L380,918.9L379.1,921.5L382.6,924.1L385.2,925.8L384.3,928.4L385.2,931.3L381.7,932.4L378.3,931.2L376.5,929.3L377.4,925.8L374.8,923.2L373.1,919.7L374.8,916.3L376.5,915.4 M393,915.4L398.2,915.4L397.3,918.9L393.9,920.1L392.7,918L393,915.4 M419,917.1L423.3,915.1L428.5,915.4L423.3,915.7L419,917.1 M471.9,906.7L475.3,905L479.7,902.4L482.3,899.5L480.5,900.7L477.9,904.1L473.6,906.4L471.9,906.7 M347.1,995.1L350.5,995.7L350.5,999.5L348.5,1000.7L346.7,998.6L347.1,995.1 M342.4,1001.9L343.3,1005.5L345,1010.7L344.1,1010.4L342.2,1005.5L342.4,1001.9 M350.5,1012.5L351.7,1015.9L352.3,1020.3L351.4,1020.3L350.9,1015.9L350.5,1012.5 M132.1,915.1L136.5,912.8L139.1,911.4L144.3,913.1L145.1,915.4L140.8,915.4L135.6,915.2L132.1,915.1 M139.4,923.2L142,922.3L142.5,918.9L144.3,916.6L146,916.3L150.3,916.3L152.9,918.3L150.3,921.1L148.6,921.5L146.9,919.7L147.2,917.5L144.6,916.6L143.1,918L140.8,917.1L139.1,918.9L139.9,921.5L139.4,923.2 M147.2,923.5L151.2,922.3L154.7,921.8L152.9,922.9L148.6,924.1L147.2,923.5 M153.5,920.9L158.1,920.9L159.3,919.7L156.4,919.9L153.5,920.9 M120,903.3L121.7,905.9L124.3,908.5L123.5,905.9L121.7,902.7L120,903.3 M78.4,881.6L83.6,879.9L87.1,881.6L81.9,883.3L78.4,881.6 M88.8,890.3L94,887.7L100.9,887.7L95.7,889.4L88.8,890.3 M21.2,963.1L22.9,962.2L21.5,961L21.2,963.1 M20,959.9L17.7,958.7L15.1,957.9 M410.9,1080.9L413.8,1081.3L412.1,1082.1L410.9,1080.9 M387.5,1032.4L388.3,1032.7L387.8,1032.9L387.5,1032.4 M391.1,1031L391.8,1031.2L391.3,1031.5L391.1,1031 M384,974.2L386.1,974.3L384.9,974.7L384,974.2 M288.1,1119.1L305.5,1118.2L322.8,1117.3L340.1,1116.5L348.8,1114.7L357.5,1115.6L366.1,1113.9L378.3,1110.4L392.1,1112.1L409.5,1113.9L412.9,1117.3L423.3,1115.6L435.5,1112.1L461.5,1110.4L478.8,1110.4L496.1,1111.3L513.5,1110.4L530.8,1111.3L548.1,1113.9L565.5,1116.5L582.8,1118.2L588,1119.9L579.3,1123.4L572.4,1127.7L575.9,1131.2L568.9,1134.7L572.4,1138.1L600.1,1140.7L634.8,1143.3L660.8,1144.2L648.7,1138.1L652.1,1134.7L646.9,1132.1L640,1130.3L669.5,1127.7L686.8,1126L704.1,1123.4L712.8,1125.1L730.1,1125.1L747.5,1120.8L756.1,1121.7L782.1,1122.5L785.6,1118.2L787.3,1117.3L797.7,1112.1L808.1,1106.9L818.5,1105.2L808.1,1108.7L802.9,1113.9L808.1,1117.3L809.9,1122.5L799.5,1129.5L825.5,1132.1L851.5,1132.1L868.8,1127.7L886.1,1122.5L903.5,1118.2L912.1,1119.1"/>
<path transform="translate(624,0)" d="M281.4,933.9L288.1,935.2L291.6,933.9L296.8,932.2L305.5,931.9L308.9,931.5L310.7,931.9L309.3,936.5L310.7,938.5L317.6,939.8L324.5,943.5L326.3,942.3L326.3,939.7L331.5,939.5L334.9,941.2L341.9,942.3L345.3,941.4L347.6,941.9L348.1,944.2L349.7,947.5L352.3,954.4L355.7,959.6L356.3,963.6L359.2,969.1L362.7,972.6L366.1,974.5L366.7,976.1L369.6,977.8L374.8,976.6L380.3,975.5L379.7,979.5L374.8,987.3L369.6,992.5L364.4,997.7L360.9,1001.2L359.2,1006.4L360.1,1011.6L361.8,1015.1L361.8,1022L357.5,1026.3L352.3,1030.7L352.8,1036.7L348.8,1040.2L348.5,1044.5L344.5,1049.7L338.4,1054.6L329.7,1055.3L326.3,1056.3L323.5,1054.9L322.8,1051.5L320.2,1045.4L317.6,1041.1L316.7,1034.1L312.4,1025.5L315,1016.8L312.9,1006.4L307.2,997.7L308.1,989.9L305.5,988.2L300.3,985.9L293.3,985.9L288.1,987.7L282.9,987.3L278.6,988.4L274.3,985.6L269.1,981.3L265.6,976.9L262.1,970.5L263,963.1L262.1,959.6L263.9,954.4L266.5,950.9L269.1,948L274.3,944.9L274.8,941.4L279.5,937.1L281.4,933.9 M377.1,1016.8L379,1022.9L377.4,1027.2L373.9,1039.3L369.6,1040.2L367,1036.7L368.4,1030.7L367.9,1025.5L372.2,1022.9L374.8,1019.4L377.1,1016.8 M281.9,933.6L280.5,932.2L278.8,931.5L276.2,931.9L275.5,928.9L276.3,924.9L275.7,921.5L277.7,920.3L284.7,920.8L288.5,920.8L289.5,916.3L287.3,914L283.5,912.8L283.6,911.8L288.8,911.6L288.5,909.9L291.9,910.2L294.4,908.8L295.9,907.4L298.5,905.9L300.3,903.8L303.7,903.1L306.5,902.4L305.8,899.6L305.8,897.2L309.8,896L309.5,898.1L308.6,900.7L310.3,902.4L313.3,901.7L316.2,902.4L320.2,901.5L323.7,901L325.9,901.7L328,899.8L328,897.2L330.6,896L333.7,896.9L332.3,894.6L332.3,893.4L338.4,892.9L343.6,892L341,891L334.9,891.7L330.6,892L328.5,890.3L328.5,887.7L334.1,883.7L335.5,882.5L330.3,881.9L328.5,884.2L322.5,887.7L321.4,890.3L324.2,892L320.5,896.3L319.3,898.6L316.4,899.8L314.1,900L313.6,898.6L311,894.6L310,893.2L308.1,894.1L305.5,895.3L302,894.6L300.3,892L300.3,888.5L303.7,886.8L308.9,885.1L312.4,881.6L315.9,878.1L319.3,876.4L324.5,874.7L331.5,872.9L336.7,872.9L341,872.9L345.3,874.1L343.6,875.2L348.8,875.7L354,876.1L362.7,878.1L362.7,880.4L357.5,881.4L350.5,880.4L352.3,884.2L357.5,885.1L360.9,884L361.8,881.6L366.1,880.9L367.9,881.4L367.9,878.1L372.2,878.1L371.3,880.2L374.8,878.8L383.5,876.7L385.2,877.8L393.9,876.7L397.3,875L403.4,876.1L407.7,876.7L411.2,877.3L407.7,875.5L407.7,872.9L411.2,869.5L417.3,870L418.1,872.9L416.4,877.3L419,880.2L414.7,881.1L418.1,881.3L421.6,878.5L419.9,876.7L421.6,871.5L425.1,871.2L426.8,872.1L430.3,871.2L432,868.6L441.5,868.1L442.4,866L449.3,864.8L461.5,863.9L471.9,861.3L477.1,862.9L485.7,863.2L488.3,865.1L482.3,867.7L487.5,868.1L496.1,868.6L506.5,868.3L511.7,870.3L516.1,872.9L522.1,872.1L529.1,872.1L534.3,870L544.7,870.5L551.6,872.1L555.1,872.9L567.2,873.3L568.9,875.2L582.8,875L587.1,876.4L588,874.7L596.7,875L603.6,876.4L612.3,879L620.9,881.3L616.6,884.2L610.5,882.8L605.3,882.5L603.6,883.3L601,884.2L599.3,887.7L593.2,888.9L587.1,892L579.3,892L575,895.5L572.4,898.1L574.1,900.7L568.9,904.1L566.3,907.6L563.2,907.6L561.5,902.4L562,897.2L567.2,893.7L574.1,889.4L575.9,887.7L568.9,889.1L562.9,889.4L560.3,893.2L555.1,893.7L549.9,892.7L539.5,893.2L534.3,896.3L529.9,901.5L533.4,902.4L536.3,904.1L534.8,907.6L535.1,911.9L530.8,915.7L526.5,919.7L522.1,921.8L518.7,922.3L516.6,924.1L516.1,926.7L512.6,927.5L514.3,929.3L515.9,932.7L515.2,935L511.7,936L510.5,935.3L511,931.9L508.3,930.5L508.3,927.5L503.1,928.4L501.7,925.3L497.9,928.1L495.6,928.4L497.5,931L501.3,930.7L503.9,931.9L500.5,933.3L498.4,935.3L500.8,938.8L502.7,940.9L502.7,942.6L503.1,944.9L501.3,947.5L498.7,951.8L495.3,954.4L492.7,956.3L488.3,957.3L484,958.9L482.6,960.8L481.7,958.7L478.8,958.6L476.5,960.5L475,963.1L477.1,966.5L480.2,970L481.1,974.3L480.5,976.1L477.1,978L473.9,980.9L473.3,978.7L470.1,976.9L469.3,974.9L466.5,972.8L464.9,972.8L464.4,976.1L463.5,979.5L465.5,982.1L467.5,984.2L470.1,986.5L471,989.1L472.2,993.4L471,993.7L467.2,991.1L465.6,987.3L465.3,984.7L462,982.1L462.3,978.7L462.5,975.2L460.9,970L460.6,967.4L457,968.6L455.1,968.3L455.4,964.8L453.7,961.7L451.1,958.7L449.3,957L445.9,958.2L442.4,958.7L441.5,961L438.9,962.2L434.3,967.4L430.6,969.1L430.6,973.5L429.9,978.1L428.5,979.9L427.1,980.6L425.9,982L424.2,980.4L422.5,976.1L421.3,973.5L419.9,970L418.1,965.7L417.8,962.2L417.6,959.6L416.9,958.7L413.8,959.9L411.2,957.3L413.5,956.1L410.3,955.3L407.7,953L406.9,952L399.1,952.3L393.9,952L390.7,951.3L389.7,949.2L386.1,949.9L382.6,948.2L379.7,945.7L378.3,943.7L376.2,943.5L374.8,944.3L376,946.6L378.3,949.7L378.6,951.8L380,953.4L381,951.1L381.2,953.9L385.2,954.1L389.2,950.6L389.5,953.5L393.2,955.1L395.3,957L393,960.5L391.8,963.4L387.5,965.7L382.1,968.3L376.5,971.4L369.6,973.8L367,974L365.8,970.3L365.3,967.4L362.3,963.1L359.4,958.7L358.3,954.7L356.1,952.1L352.3,947.5L352.1,944.9L350.9,947.8L349.8,946.9L348.1,944.2L347.6,941.9L350.9,941.7L352.1,939.7L353.1,937.2L354,933.9L354.3,932.6L351.6,932.2L348.8,933.4L344.6,932.2L342,932.4L339.1,931.9L337.2,929.6L338.1,927.5L337,926.5L336.7,925.6L333.2,925.3L332.9,926.7L331.3,925.8L330.8,927.5L332,929.8L333.2,930.7L331.5,931.3L331.6,932.7L330.3,932.7L329.2,932L328.3,930.5L328.2,929.4L326.8,927.9L325.2,925.8L325.4,923.5L323.7,922.3L319.3,920.6L317.9,919.2L316.7,917.7L315.2,917.8L315.3,916.8L312.9,917.5L313.1,919.4L315.2,920.6L316.2,922.7L319.3,923.4L319.3,924.2L323.7,926.3L323.5,927L321.1,925.8L320.2,927.2L321.2,928.4L320.2,929.6L318.8,930.1L319,928.4L318.1,926.7L315.9,925.3L313.3,924.1L310.7,922.5L309.3,920.6L307.2,919.2L304.6,920.1L302,921.3L299.7,920.8L297,921.3L297.1,923.4L293,924.9L291.6,927.2L291.3,928.7L290.4,930.7L288.1,932.2L283.8,932.4L281.9,933.6 M341.9,924.6L346.2,924.6L349.3,923.2L352.3,923.2L354.9,924.4L358.3,924.9L363.5,924.1L363.5,922L360.4,920.4L357.5,918.9L356.3,917.5L358,915.9L359.5,914.2L356.6,914.5L352.6,915.9L354.9,917.3L353.1,918L349.8,918.9L347.9,917.3L349.8,916.1L346.7,915.4L344.8,915.7L343.1,917.5L341.3,919.7L340,922L340.1,923.4L341.9,924.6 M0.4,882.3L3.9,881.3L7.3,880.7L11.7,881.1L8.2,879.9L7.3,878.1L3,877.4L9.1,875.5L14.3,873.8L20.3,872.4L28.1,873.3L35.1,874L43.7,874.5L48.9,875.4L55.9,876.6L61.1,875.5L68,874.7L74.9,875.7L81.9,875L88.8,876.4L92.3,878.1L100.9,878.3L104.4,877.8L107.9,876.7L114.8,878.5L121.7,878.5L123.5,877.3L126.1,878.1L125.2,875.5L128.7,871.5L132.1,874.7L134.7,877.3L139.1,876.7L142.5,879L149.5,877.3L150.7,879L147.7,881.3L142.5,881.6L140.8,884.2L135.6,885.1L130.4,888.5L127.8,892L127.8,894.1L131.3,897.2L135.6,897.2L144.3,900.1L148.9,900.3L149.5,904.1L151.2,906.7L153.5,907.3L155,905L153.8,901.5L158.1,898.9L159,896.3L155.9,894.3L157.3,892L156.4,888L163.3,888L170.3,890.3L171.1,893.7L174.6,894.9L178.1,892.3L179.8,891.5L184.1,896.3L185.9,899.3L191.1,901L194.5,904.1L194.9,906.7L190.2,907.3L187.6,909L180.7,908.8L175.8,909.3L171.1,912.8L168.5,914.9L172.9,912.3L178.9,910.7L180.1,911.9L178.9,913.7L179.8,915.9L185,916.6L187.6,916.3L185.9,917.7L181.5,918.7L177.2,920.6L177.2,918.9L179.8,917.1L175.5,918L172,919.7L169.4,920.9L168.9,922.3L170.3,923.7L167.7,924.2L163.3,925.5L163,927.5L160.7,929.3L159.9,931.9L160.4,934.3L158.1,936.2L155.5,937.4L151.2,940.9L150.3,944L152.4,948.3L152.6,951.8L151.2,952.3L148.3,948.2L148.1,945.7L146,944L143.4,944.5L139.1,943.5L136.5,944L136.8,945.7L133.9,945.4L129,944.5L126.9,945.7L123.5,947.5L122.6,951.8L122.1,957L123.5,960.5L125.2,963.1L127.8,964.5L132.1,963.6L134.7,960.5L135.6,959.3L140.8,958.7L139.9,963.1L138.5,965.7L137.7,968.3L142.5,968.4L146.9,969.5L146.9,974.3L146.5,976.9L148.6,979.5L151.2,980.7L153.8,979.5L157.3,980.9L156.6,983.5L155.5,981.3L153.3,980.9L152.4,983.3L148.1,981.8L146.5,980.7L143.4,978.7L141.7,975.2L139.9,973.1L135.6,972.1L131.6,970.7L127.8,967.9L123.5,968.6L118.3,966.7L112.2,964.3L108.7,961.3L108.7,957.9L105.3,953.5L101.8,950.9L99.2,947.5L95.7,942.6L92.6,940.9L93.1,944L96.6,948.3L100.1,953.5L101.5,956.1L97.5,952.7L93.1,947.5L90.5,943.1L88.5,939.5L86.2,937.1L82.6,936L80.1,932.2L78.4,929.3L76.1,926L76.3,921.5L76.7,915.9L75.5,912.1L78.4,912.5L79.3,913.7L78.4,911.1L74.9,909.3L70.6,906.7L69.7,904.1L65.7,901.2L62.8,898.1L59.3,895.1L55,894.6L49.8,892.3L42.9,892L38.5,890.6L34.2,891.1L31.6,892.9L28.1,892.9L29.9,890.3L25.5,892.9L23.8,895.5L18.6,897.7L13.4,899.8L9.1,901L12.5,898.9L16.9,896.3L18.6,894.1L13.4,894.1L10.8,893.2L9.9,891.5L4.7,890.3L5.6,887.7L9.1,886.5L12.5,885.6L12.5,884L6.5,884.2L3,883.3L0.4,882.3 M157.3,980.9L159.9,980.4L160.7,977.5L165.1,976.4L167.3,974.5L167.7,976.9L170.3,975.5L172.9,977.6L177.2,977.6L180.7,978L184.1,977.5L185.9,979.5L188.5,981.8L191.9,985.3L198,985.9L202,988.2L204.1,992.5L204.9,996L207.5,997.7L210.1,997.2L214.5,1000L219.7,1001L224.9,1002.6L230.4,1005.2L231.1,1009L227.5,1015.1L224.3,1018.5L224,1023.7L222.6,1028.9L220.5,1034.1L217.1,1035.9L212.7,1037.3L208.4,1040.2L207.2,1044.5L204.1,1049.7L200.6,1054.1L198,1056.1L193.7,1056.3L190.5,1054.9L192.5,1058.4L191.8,1061.9L187.6,1063.6L183.8,1063.6L183.3,1067.1L178.9,1067.1L180.7,1069.7L178.4,1073.7L174.6,1075.7L177.2,1078.3L173.7,1082.7L172,1084.4L173,1086.7L169.4,1087.3L166.8,1088.7L163.3,1087L161.6,1083.5L162.5,1079.2L160.7,1076.6L164.2,1072.3L165.1,1068.8L163.7,1065.3L164.2,1060.5L165.9,1057.5L167.7,1053.2L167.7,1048L169.4,1041.1L169.9,1034.1L169.7,1027.9L166.8,1025.5L161.6,1022.9L159.3,1019.9L157.8,1016.8L155,1011.6L153.3,1008.1L150.9,1006.4L151.2,1003.5L152.9,1001.2L151.5,999.8L152.1,996.9L152.9,994.6L155,993.4L157.3,989.1L157.6,985.6L156.6,983.5 M172.7,1087.2L169.4,1088.7L166.8,1089.9L170.3,1091.7L175.5,1091.9L178.6,1090.8L175.5,1089.6L173.2,1087.9L172.7,1087.2 M185.9,1085.3L191.1,1085.1L189.3,1086.5L185.9,1086.1L185.9,1085.3 M225.7,1089.6L229.2,1090.5L227.5,1090.1L225.7,1089.6 M165.1,860.5L173.7,857.3L184.1,854.7L196.3,853.5L213.6,853L234.4,851.3L248.3,852.5L256.9,854.4L269.1,854.7L262.1,857.3L258.7,859.9L258.7,863.4L255.2,866.9L251.7,870.3L253.5,873.8L248.3,875.5L239.6,877.8L232.7,880.7L225.7,882.1L221.4,884.2L218.8,887.7L217.1,891.7L213.6,892L208.4,890.3L204.9,887.7L201.5,884.2L198.9,879.9L203.2,875.5L197.1,873.8L196.3,870.3L191.1,866L184.1,863.9L175.5,864.3L168.5,862.2L165.1,860.5 M250,882.5L253.5,880.9L260.4,881.3L265.6,881.1L268.2,883.3L265.6,884.7L259.5,886.1L252.6,885.4L253.5,883.7L250,882.5 M282.1,909.3L286.4,908.3L291.6,907.9L294,907.3L292.5,906.7L294.5,904.7L292.1,904.1L291.3,902.4L289,900.7L288.1,898.9L286.1,898.9L288.1,896L284.7,896L286.4,894.4L282.9,894.4L281.2,896.7L282.1,898.9L283.3,900.7L286.1,901L286.4,903.4L283.8,903.8L284.3,905.3L282.6,906.2L286.1,906.9L283.8,907.6L282.1,909.3 M281.2,905.5L280.9,903.3L281.9,901.4L279.5,900.1L276.9,901L274.3,902.1L275.1,904.1L273.7,905.9L275.1,906.7L278.6,905.9L281.2,905.5 M488.3,1034.1L489.2,1041.1L490.9,1048L490.9,1054.1L492.7,1056.7L497,1056.7L501.3,1054.6L506.5,1053.2L511.7,1051.8L516.1,1050.8L520.4,1051.5L524.7,1053.2L526.5,1056.3L529.1,1054.1L530.5,1052.5L530.5,1055.8L531.7,1057.5L533.4,1058.4L535.1,1061.9L540.3,1063.3L542.9,1062.2L545.5,1063.6L548.1,1061.7L551.6,1060.7L552.1,1057.5L553.9,1054.1L556.5,1050.6L557.7,1045.4L556.8,1040.2L553.3,1036.7L550.7,1034.1L548.1,1030.7L545,1028.9L543.8,1024.6L542.9,1021.7L540.3,1020.3L538.6,1014.7L537,1018.5L536.9,1022.9L535.1,1026.3L532.5,1026L529.9,1023.7L527,1022L527.3,1018.5L528.5,1017.1L524.7,1016.8L521.3,1015.6L518.7,1017.3L516.6,1021.7L513.5,1021.7L510.9,1020.3L508.3,1022.9L505.7,1025.5L503.4,1027.2L502.2,1029.8L497.9,1030.7L493.5,1031.9L490.1,1033.6L488.3,1034.1 M542.4,1066.5L545.5,1067.2L548.7,1066.9L548.5,1069.7L546.4,1071.6L544.7,1071.4L543.3,1069.3L542.4,1066.5 M590.9,1055.6L593.7,1058.1L595.8,1059.6L596.7,1061.2L600.7,1061.3L599.3,1064.1L598.2,1065.9L595.5,1068.1L594.6,1067.6L595.3,1065.7L592.9,1064.1L594.4,1061.9L594.1,1059.3L591.8,1057L590.9,1055.6 M590.9,1066.4L593.5,1067.6L592.3,1070.5L590.6,1071.9L588.5,1073L587.7,1075.6L585.4,1076.8L583.3,1076.6L580.4,1075.7L581.1,1074L583.7,1072.3L587.1,1070.5L588.9,1068.5L590.9,1066.4 M518.7,997.4L521.3,996.7L523.9,997.4L524.4,1000.3L526.5,1001.7L529.9,998.9L533.4,999.8L536,1000.5L542.1,1002.8L544.3,1004.7L547.3,1006.4L547.8,1008.1L549,1011.6L552.5,1013.9L549.9,1013.9L546.4,1012.5L544.7,1010.2L542.1,1009.3L540.3,1010.7L538.6,1011.9L536,1011.8L532.5,1010L530.8,1010.6L532.2,1008.1L530.8,1005.5L527,1003.8L523,1002.6L521.8,1002.9L520.4,1001L523,1000.3L520.9,999.8L518.7,997.4 M549,1005.5L552.5,1005.5L555.4,1003.3L554.2,1005.5L550.7,1006.7L549,1005.5 M560.3,1006.4L562.9,1009L561.1,1007.8L560.3,1006.4 M567.2,1010.2L570.7,1013L568.9,1012.5L567.2,1010.2 M580.4,1022L581.6,1024.1L580.7,1023L580.4,1022 M575.9,1030.7L579.3,1033.3L581.1,1034.7L578.5,1033.4L575.9,1030.7 M598.9,1026.3L601,1026.3L600.7,1027.5L598.9,1027.2L598.9,1026.3 M480.5,993.4L481.6,992.5L484.5,991.7L487.5,990.3L490.1,987.9L492.7,984.7L494.4,983.9L495.6,985.6L497.9,987L496.1,988.4L495.6,990.8L496.1,993.4L495.6,995.1L495.3,997.4L493.5,998.6L492.7,1002.2L490.4,1002.9L487.5,1001.5L485.2,1001.7L482.6,1001L482.3,998.6L480.5,996.5L480.5,993.4 M456.8,986.3L460.6,987L462,988.7L464.9,991.5L467.5,992.5L471,996L471.9,998.1L475.3,1001.2L475,1006.1L472.9,1006.1L468.9,1002.9L466.7,1000.5L465.5,997.4L463.2,995.1L462.7,993.1L460.6,991.1L458,989.1L456.8,986.3 M473.9,1007.8L476.7,1006.4L479.7,1007.6L483.7,1007.1L486.9,1008L490.1,1009.5L489.9,1011.1L485.7,1010.6L481.4,1009.5L477.9,1009.3L476,1008.8L473.9,1007.8 M491.8,1010.4L494.4,1010.6L497.9,1010.7L497,1011.4L492.7,1011.4L491.8,1010.4 M499.3,1010.7L504.5,1010.4L503.9,1011.3L499.6,1011.4L499.3,1010.7 M505.7,1013.9L508.3,1011.9L511.7,1010.6L510,1012.1L506.5,1013.9L505.7,1013.9 M499.3,994.6L501,993.7L504.8,994.4L508.3,993.2L507.4,995.3L502.2,995.1L499.9,997.6L502.4,997.6L505.3,997.6L502.7,999.3L503.6,1001.7L504.8,1003.5L503.4,1004.3L502.2,1002.9L501.2,1000.7L500.3,1002.9L500.3,1005.5L498.7,1005.5L498.7,1002.1L497.5,1000.9L499.3,994.6 M512.6,992.5L514.3,993.4L513.5,995.1L514.3,997.2L513.1,996L512.6,994.3L512.6,992.5 M513.5,1001.2L518.3,1001.7L516.1,1002.1L513.5,1001.9L513.5,1001.2 M500.6,963.9L503.4,964.1L503.6,967.4L502.2,970L503.9,971.7L506.5,973.5L506.5,974.2L503.9,972.6L501.3,972.3L500.6,970.9L499.6,968.6L500.1,966L500.6,963.9 M503.1,983.9L505.7,981.1L509,979.2L510.9,982.1L510.3,985.1L509.1,986.1L506.9,985.1L506.5,983L503.9,983L503.1,983.9 M503.1,977.8L504.8,975.7L505.3,978.7L503.9,979.5L503.1,977.8 M507.1,974.3L509.1,974.7L509.3,976.9L507.9,978.3L507.2,976.4L507.1,974.3 M494.7,981.4L498.7,977.8L498.4,976.4L496.1,979L494.7,981.4 M500.5,972.8L502,973.1L501.7,974.7L500.5,972.8 M501.3,952.3L502.9,953L501,957.9L499.8,956.1L501.3,952.3 M480,962.7L482.3,961.3L484,962L482.3,964.3L480,963.8L480,962.7 M430.1,979.2L432.3,981.3L433.4,983.9L432,985.4L430.3,985.6L429.7,982.1L430.1,979.2 M518.5,937.1L521.3,934.6L527,934.3L528.7,931.5L531.7,931.2L533.9,928.4L534.3,925.6L536.5,924.2L537.4,927L536,929.6L535.7,932.2L534.6,934.8L532.2,935.9L529.1,936L527,937.9L525.8,936.2L522.1,936.5L518.7,937.2L518.5,937.1 M516.9,937.9L519.9,937.6L520.1,939.7L518.1,942.3L517.3,941.6L517.3,939.5L516.4,938.8L516.9,937.9 M521.3,937.2L524.7,936.7L524.2,938.1L522.1,939.1L521.3,937.2 M534.8,924.1L536.3,922.3L540,923.2L543.8,920.9L542.1,919.7L537.7,917.1L537,919.7L536.5,921.1L534.8,922.3L534.8,924.1 M537.7,916.3L540.3,914.9L538.9,913.7L539.5,910.7L542.1,911.1L540,908.5L540,905L539.1,901.9L537.7,903.3L537.4,906.7L537.9,910.2L537.7,913.1L537.7,916.3 M544.7,918.9L549,917.1L551.6,915.9 M555.1,914.2L558.5,911.1L561.1,908.8 M380.9,872.1L384.3,873.3L391.3,873.5L387.8,871.2L388.7,868.6L393,866.9L399.1,864.6L410.3,862.9L409.5,864.1L397.3,865.7L392.1,868.1L386.9,869.5L381.7,871.2L380.9,872.1 M310.7,858.2L315.9,861.7L321.1,863.2L324.5,859.9L329.7,860.3L328,858.2L338.4,857.2L326.3,856.5L319.3,857.3L310.7,858.2 M373.1,856.3L381.7,856.8L380,855.8L373.1,856.3 M385.2,856.5L392.1,857L399.1,856.3L404.3,855.6L392.1,855.3L385.2,856.5 M456.3,859.1L464.9,860.8L473.6,859.9L471.9,858.2L464.9,856.5L458,855.6L451.1,857.3L456.3,859.1 M529.1,865.5L539.5,866L551.6,865.7L544.7,864.3L534.3,864.3L529.1,865.5 M534.3,868.8L539.5,869.1L536.9,867.9L534.3,868.8 M601,872.9L607.1,872.1L604.5,873.1L601,872.9 M313.3,930.1L318.5,929.8L317.8,932.4L313.3,930.8L313.3,930.1 M305.8,924.9L308.4,924.9L308.2,928.1L306.3,928.4L305.8,924.9 M306.5,922.3L308.1,921.5L307.9,924.1L306.5,922.3 M332.3,934.5L337.2,935L334.1,935.3L332.3,934.5 M347.6,935.3L351.4,934.3L350,935.9L347.6,935.3 M144.3,958.2L148.6,956.1L152.9,956.1L158.1,958.7L163,961L157.3,961.5L156.4,960.1L152.1,958.2L149.5,957.3L146,957.9L144.3,958.2 M162.6,963.9L165.1,961.5L170.3,961.7L173,963.8L170.3,964.3L167.7,965.1L165.9,964.5L162.6,963.9 M155.9,964.3L159.3,964.8L157.3,965.1L155.9,964.3 M175.1,964.1L177.9,964.3L175.1,964.8L175.1,964.1 M156.4,950.1L158.1,950.4L157.6,952.7L156.4,953.9 M159.9,954.4L161.6,955.8L164.2,957 M184.5,977.5L185.9,977.5L185.5,978.5L184.5,977.5 M188.8,913.5L194.5,906.7L195.4,910.2L199.7,911.9L199.7,915.1L194.5,914.5L188.8,913.5 M69.2,908.1L74.9,909.3L77.5,912.1L74.1,911.4L69.2,908.1 M61.1,902.4L63.1,902.7L63.7,905L61.9,904.1L61.1,902.4 M24.7,895.8L27.6,896.2L25.5,897.2L24.7,895.8 M5.6,901.9L0.4,903.3L-4.8,904.8L-10,905.5L-15.2,906.2 M600.1,906.2L594.9,905.3L591.5,904.5 M-5.7,885.9L-1.3,886.5L-3.1,885.6L-5.7,885.9 M2.1,891.7L4.2,892L3,892.3L2.1,891.7 M152.9,868.3L159.9,869.8L166.8,872.1L173.7,874.7L175.5,877.3L184.1,880.2L180.7,883.3L178.9,887.1L173.7,885.9L166.8,884.7L156.4,884L163.3,881.6L165.1,878.1L156.4,874.7L144.3,874.7L137.3,872.1L144.3,868.6L152.9,868.3 M88.8,872.1L97.5,869.8L109.6,869.5L116.5,872.1L114.8,875L106.1,876.6L95.7,877.3L88.8,875L88.8,872.1 M74.9,871.2L81.9,866.9L92.3,868.6L83.6,872.6L74.9,871.2 M135.6,863.4L152.9,863.7L161.6,859.9L184.1,853L170.3,852L144.3,853.3L132.1,855.6L140.8,859.1L135.6,863.4 M125.2,865.1L135.6,866.9L152.9,866.5L151.2,864.6L137.3,863.4L125.2,865.1 M88.8,865.7L100.9,866.9L109.6,865.7L100.9,863.4L88.8,864.3L88.8,865.7 M111.3,865.1L121.7,866L121.7,863.4L113.1,863.4L111.3,865.1 M140.8,882.5L146,882.8L151.2,885.4L144.3,886.8L140.8,885.1L140.8,882.5 M114.8,869.5L123.5,868.1L130.4,867.7L132.1,870.3L123.5,872.1L114.8,871.2L114.8,869.5 M119.1,876.1L123.5,875L126.1,876.4L121.7,876.9L119.1,876.1 M125.2,857.3L135.6,856.5L140.8,858.2L128.7,859.9L125.2,857.3 M78.4,864.3L87.1,861.7L90.5,863.4L81.9,864.6L78.4,864.3 M109.6,860.8L120,859.4L123.5,861.1L113.1,861.7L109.6,860.8 M179.8,909.5L184.1,910.5L181.5,910.7L179.8,909.5 M376.5,915.4L380,914.5L383.5,915.4L382.6,917.5L380,918.9L379.1,921.5L382.6,924.1L385.2,925.8L384.3,928.4L385.2,931.3L381.7,932.4L378.3,931.2L376.5,929.3L377.4,925.8L374.8,923.2L373.1,919.7L374.8,916.3L376.5,915.4 M393,915.4L398.2,915.4L397.3,918.9L393.9,920.1L392.7,918L393,915.4 M419,917.1L423.3,915.1L428.5,915.4L423.3,915.7L419,917.1 M471.9,906.7L475.3,905L479.7,902.4L482.3,899.5L480.5,900.7L477.9,904.1L473.6,906.4L471.9,906.7 M347.1,995.1L350.5,995.7L350.5,999.5L348.5,1000.7L346.7,998.6L347.1,995.1 M342.4,1001.9L343.3,1005.5L345,1010.7L344.1,1010.4L342.2,1005.5L342.4,1001.9 M350.5,1012.5L351.7,1015.9L352.3,1020.3L351.4,1020.3L350.9,1015.9L350.5,1012.5 M132.1,915.1L136.5,912.8L139.1,911.4L144.3,913.1L145.1,915.4L140.8,915.4L135.6,915.2L132.1,915.1 M139.4,923.2L142,922.3L142.5,918.9L144.3,916.6L146,916.3L150.3,916.3L152.9,918.3L150.3,921.1L148.6,921.5L146.9,919.7L147.2,917.5L144.6,916.6L143.1,918L140.8,917.1L139.1,918.9L139.9,921.5L139.4,923.2 M147.2,923.5L151.2,922.3L154.7,921.8L152.9,922.9L148.6,924.1L147.2,923.5 M153.5,920.9L158.1,920.9L159.3,919.7L156.4,919.9L153.5,920.9 M120,903.3L121.7,905.9L124.3,908.5L123.5,905.9L121.7,902.7L120,903.3 M78.4,881.6L83.6,879.9L87.1,881.6L81.9,883.3L78.4,881.6 M88.8,890.3L94,887.7L100.9,887.7L95.7,889.4L88.8,890.3 M21.2,963.1L22.9,962.2L21.5,961L21.2,963.1 M20,959.9L17.7,958.7L15.1,957.9 M410.9,1080.9L413.8,1081.3L412.1,1082.1L410.9,1080.9 M387.5,1032.4L388.3,1032.7L387.8,1032.9L387.5,1032.4 M391.1,1031L391.8,1031.2L391.3,1031.5L391.1,1031 M384,974.2L386.1,974.3L384.9,974.7L384,974.2 M288.1,1119.1L305.5,1118.2L322.8,1117.3L340.1,1116.5L348.8,1114.7L357.5,1115.6L366.1,1113.9L378.3,1110.4L392.1,1112.1L409.5,1113.9L412.9,1117.3L423.3,1115.6L435.5,1112.1L461.5,1110.4L478.8,1110.4L496.1,1111.3L513.5,1110.4L530.8,1111.3L548.1,1113.9L565.5,1116.5L582.8,1118.2L588,1119.9L579.3,1123.4L572.4,1127.7L575.9,1131.2L568.9,1134.7L572.4,1138.1L600.1,1140.7L634.8,1143.3L660.8,1144.2L648.7,1138.1L652.1,1134.7L646.9,1132.1L640,1130.3L669.5,1127.7L686.8,1126L704.1,1123.4L712.8,1125.1L730.1,1125.1L747.5,1120.8L756.1,1121.7L782.1,1122.5L785.6,1118.2L787.3,1117.3L797.7,1112.1L808.1,1106.9L818.5,1105.2L808.1,1108.7L802.9,1113.9L808.1,1117.3L809.9,1122.5L799.5,1129.5L825.5,1132.1L851.5,1132.1L868.8,1127.7L886.1,1122.5L903.5,1118.2L912.1,1119.1"/>
</g>
<path d="M308.9,840 V834.5 M308.9,1152 V1157.5 M326.3,840 V834.5 M326.3,1152 V1157.5 M360.9,840 V834.5 M360.9,1152 V1157.5 M378.3,840 V834.5 M378.3,1152 V1157.5 M412.9,840 V834.5 M412.9,1152 V1157.5 M430.3,840 V834.5 M430.3,1152 V1157.5 M464.9,840 V834.5 M464.9,1152 V1157.5 M482.3,840 V834.5 M482.3,1152 V1157.5 M516.9,840 V834.5 M516.9,1152 V1157.5 M534.3,840 V834.5 M534.3,1152 V1157.5 M568.9,840 V834.5 M568.9,1152 V1157.5 M586.3,840 V834.5 M586.3,1152 V1157.5 M620.9,840 V834.5 M620.9,1152 V1157.5 M638.3,840 V834.5 M638.3,1152 V1157.5 M672.9,840 V834.5 M672.9,1152 V1157.5 M690.3,840 V834.5 M690.3,1152 V1157.5 M724.9,840 V834.5 M724.9,1152 V1157.5 M742.3,840 V834.5 M742.3,1152 V1157.5 M776.9,840 V834.5 M776.9,1152 V1157.5 M794.3,840 V834.5 M794.3,1152 V1157.5 M828.9,840 V834.5 M828.9,1152 V1157.5 M846.3,840 V834.5 M846.3,1152 V1157.5 M880.9,840 V834.5 M880.9,1152 V1157.5 M898.3,840 V834.5 M898.3,1152 V1157.5 M288,1134.7 H282.5 M912,1134.7 H917.5 M288,1117.3 H282.5 M912,1117.3 H917.5 M288,1082.7 H282.5 M912,1082.7 H917.5 M288,1065.3 H282.5 M912,1065.3 H917.5 M288,1030.7 H282.5 M912,1030.7 H917.5 M288,1013.3 H282.5 M912,1013.3 H917.5 M288,978.7 H282.5 M912,978.7 H917.5 M288,961.3 H282.5 M912,961.3 H917.5 M288,926.7 H282.5 M912,926.7 H917.5 M288,909.3 H282.5 M912,909.3 H917.5 M288,874.7 H282.5 M912,874.7 H917.5 M288,857.3 H282.5 M912,857.3 H917.5" stroke="#111" stroke-width="1.1" fill="none"/>
<path d="M291.6,840 V829 M291.6,1152 V1163 M343.6,840 V829 M343.6,1152 V1163 M395.6,840 V829 M395.6,1152 V1163 M447.6,840 V829 M447.6,1152 V1163 M499.6,840 V829 M499.6,1152 V1163 M551.6,840 V829 M551.6,1152 V1163 M603.6,840 V829 M603.6,1152 V1163 M655.6,840 V829 M655.6,1152 V1163 M707.6,840 V829 M707.6,1152 V1163 M759.6,840 V829 M759.6,1152 V1163 M811.6,840 V829 M811.6,1152 V1163 M863.6,840 V829 M863.6,1152 V1163" stroke="#0a0a0a" stroke-width="1.5" fill="none"/>
<path d="M288,1152 H277 M912,1152 H923 M288,1100 H277 M912,1100 H923 M288,1048 H277 M912,1048 H923 M288,996 H277 M912,996 H923 M288,944 H277 M912,944 H923 M288,892 H277 M912,892 H923 M288,840 H277 M912,840 H923" stroke="#000" stroke-width="1.6" fill="none"/>
<rect x="288" y="840" width="624" height="312" fill="none" stroke="#000" stroke-width="1.8"/>
<text transform="translate(291.3,1182) scale(0.95,1)" font-size="14" text-anchor="middle">0</text>
<text transform="translate(343.3,1182) scale(0.95,1)" font-size="14" text-anchor="middle">30E</text>
<text transform="translate(395.3,1182) scale(0.95,1)" font-size="14" text-anchor="middle">60E</text>
<text transform="translate(447.3,1182) scale(0.95,1)" font-size="14" text-anchor="middle">90E</text>
<text transform="translate(499.3,1182) scale(0.95,1)" font-size="14" text-anchor="middle">120E</text>
<text transform="translate(551.3,1182) scale(0.95,1)" font-size="14" text-anchor="middle">150E</text>
<text transform="translate(603.3,1182) scale(0.95,1)" font-size="14" text-anchor="middle">180</text>
<text transform="translate(655.3,1182) scale(0.95,1)" font-size="14" text-anchor="middle">150W</text>
<text transform="translate(707.3,1182) scale(0.95,1)" font-size="14" text-anchor="middle">120W</text>
<text transform="translate(759.3,1182) scale(0.95,1)" font-size="14" text-anchor="middle">90W</text>
<text transform="translate(811.3,1182) scale(0.95,1)" font-size="14" text-anchor="middle">60W</text>
<text transform="translate(863.3,1182) scale(0.95,1)" font-size="14" text-anchor="middle">30W</text>
<text transform="translate(269.8,845.1) scale(0.95,1)" font-size="14" text-anchor="end">90N</text>
<text transform="translate(269.8,897.1) scale(0.95,1)" font-size="14" text-anchor="end">60N</text>
<text transform="translate(269.8,949.1) scale(0.95,1)" font-size="14" text-anchor="end">30N</text>
<text transform="translate(269.8,1001.1) scale(0.95,1)" font-size="14" text-anchor="end">0</text>
<text transform="translate(269.8,1053.1) scale(0.95,1)" font-size="14" text-anchor="end">30S</text>
<text transform="translate(269.8,1105.1) scale(0.95,1)" font-size="14" text-anchor="end">60S</text>
<text transform="translate(269.8,1157.1) scale(0.95,1)" font-size="14" text-anchor="end">90S</text>
<text transform="translate(600,820.5) scale(1.03,1)" font-size="22.4" text-anchor="middle" font-weight="bold">PRE623R359GQ12 minus CERES rtna SON (Rxy=0.99, RMSE=11.33)</text>
<rect x="950" y="108" width="37" height="22.3" fill="#a50021" stroke="#111" stroke-width="0.7"/>
<rect x="950" y="130.3" width="37" height="22.3" fill="#f72735" stroke="#111" stroke-width="0.7"/>
<rect x="950" y="152.6" width="37" height="22.3" fill="#ff3d3d" stroke="#111" stroke-width="0.7"/>
<rect x="950" y="174.9" width="37" height="22.3" fill="#ffac75" stroke="#111" stroke-width="0.7"/>
<rect x="950" y="197.2" width="37" height="22.3" fill="#fff1bc" stroke="#111" stroke-width="0.7"/>
<rect x="950" y="219.5" width="37" height="22.3" fill="#ffffea" stroke="#111" stroke-width="0.7"/>
<rect x="950" y="241.8" width="37" height="22.3" fill="#bcf9ff" stroke="#111" stroke-width="0.7"/>
<rect x="950" y="264.1" width="37" height="22.3" fill="#75d3ff" stroke="#111" stroke-width="0.7"/>
<rect x="950" y="286.4" width="37" height="22.3" fill="#3d87ff" stroke="#111" stroke-width="0.7"/>
<rect x="950" y="308.7" width="37" height="22.3" fill="#2857ff" stroke="#111" stroke-width="0.7"/>
<rect x="950" y="331" width="37" height="22.3" fill="#2400d8" stroke="#111" stroke-width="0.7"/>
<text transform="translate(1017,137.4) scale(0.935,1)" font-size="20.7" text-anchor="middle">100</text>
<text transform="translate(1017,159.7) scale(0.935,1)" font-size="20.7" text-anchor="middle">80</text>
<text transform="translate(1017,182) scale(0.935,1)" font-size="20.7" text-anchor="middle">55</text>
<text transform="translate(1017,204.3) scale(0.935,1)" font-size="20.7" text-anchor="middle">30</text>
<text transform="translate(1017,226.6) scale(0.935,1)" font-size="20.7" text-anchor="middle">5</text>
<text transform="translate(1017,248.9) scale(0.935,1)" font-size="20.7" text-anchor="middle">-20</text>
<text transform="translate(1017,271.2) scale(0.935,1)" font-size="20.7" text-anchor="middle">-45</text>
<text transform="translate(1017,293.5) scale(0.935,1)" font-size="20.7" text-anchor="middle">-70</text>
<text transform="translate(1017,315.8) scale(0.935,1)" font-size="20.7" text-anchor="middle">-95</text>
<text transform="translate(1017,338.1) scale(0.935,1)" font-size="20.7" text-anchor="middle">-120</text>
<text transform="translate(993.1,83.8) scale(0.945,1)" font-size="21" text-anchor="middle">W/m2</text>
<rect x="950" y="504" width="37" height="22.3" fill="#a50021" stroke="#111" stroke-width="0.7"/>
<rect x="950" y="526.3" width="37" height="22.3" fill="#f72735" stroke="#111" stroke-width="0.7"/>
<rect x="950" y="548.6" width="37" height="22.3" fill="#ff3d3d" stroke="#111" stroke-width="0.7"/>
<rect x="950" y="570.9" width="37" height="22.3" fill="#ffac75" stroke="#111" stroke-width="0.7"/>
<rect x="950" y="593.2" width="37" height="22.3" fill="#fff1bc" stroke="#111" stroke-width="0.7"/>
<rect x="950" y="615.5" width="37" height="22.3" fill="#ffffea" stroke="#111" stroke-width="0.7"/>
<rect x="950" y="637.8" width="37" height="22.3" fill="#bcf9ff" stroke="#111" stroke-width="0.7"/>
<rect x="950" y="660.1" width="37" height="22.3" fill="#75d3ff" stroke="#111" stroke-width="0.7"/>
<rect x="950" y="682.4" width="37" height="22.3" fill="#3d87ff" stroke="#111" stroke-width="0.7"/>
<rect x="950" y="704.7" width="37" height="22.3" fill="#2857ff" stroke="#111" stroke-width="0.7"/>
<rect x="950" y="727" width="37" height="22.3" fill="#2400d8" stroke="#111" stroke-width="0.7"/>
<text transform="translate(1017,533.4) scale(0.935,1)" font-size="20.7" text-anchor="middle">100</text>
<text transform="translate(1017,555.7) scale(0.935,1)" font-size="20.7" text-anchor="middle">80</text>
<text transform="translate(1017,578) scale(0.935,1)" font-size="20.7" text-anchor="middle">55</text>
<text transform="translate(1017,600.3) scale(0.935,1)" font-size="20.7" text-anchor="middle">30</text>
<text transform="translate(1017,622.6) scale(0.935,1)" font-size="20.7" text-anchor="middle">5</text>
<text transform="translate(1017,644.9) scale(0.935,1)" font-size="20.7" text-anchor="middle">-20</text>
<text transform="translate(1017,667.2) scale(0.935,1)" font-size="20.7" text-anchor="middle">-45</text>
<text transform="translate(1017,689.5) scale(0.935,1)" font-size="20.7" text-anchor="middle">-70</text>
<text transform="translate(1017,711.8) scale(0.935,1)" font-size="20.7" text-anchor="middle">-95</text>
<text transform="translate(1017,734.1) scale(0.935,1)" font-size="20.7" text-anchor="middle">-120</text>
<text transform="translate(993.1,479.8) scale(0.945,1)" font-size="21" text-anchor="middle">W/m2</text>
<rect x="955.3" y="899.8" width="37.4" height="20.5" fill="#ff69b4" stroke="#333" stroke-width="0.7"/>
<rect x="955.3" y="920.3" width="37.4" height="20.5" fill="#cd0000" stroke="#333" stroke-width="0.7"/>
<rect x="955.3" y="940.7" width="37.4" height="20.5" fill="#ff0000" stroke="#333" stroke-width="0.7"/>
<rect x="955.3" y="961.2" width="37.4" height="20.5" fill="#ffa500" stroke="#333" stroke-width="0.7"/>
<rect x="955.3" y="981.7" width="37.4" height="20.5" fill="#ffe132" stroke="#333" stroke-width="0.7"/>
<rect x="955.3" y="1002.2" width="37.4" height="20.5" fill="#ffffff" stroke="#333" stroke-width="0.7"/>
<rect x="955.3" y="1022.6" width="37.4" height="20.5" fill="#ffffff" stroke="#333" stroke-width="0.7"/>
<rect x="955.3" y="1043.1" width="37.4" height="20.5" fill="#aad4ff" stroke="#333" stroke-width="0.7"/>
<rect x="955.3" y="1063.6" width="37.4" height="20.5" fill="#00bfff" stroke="#333" stroke-width="0.7"/>
<rect x="955.3" y="1084" width="37.4" height="20.5" fill="#4169e1" stroke="#333" stroke-width="0.7"/>
<rect x="955.3" y="1104.5" width="37.4" height="20.5" fill="#0000cd" stroke="#333" stroke-width="0.7"/>
<rect x="955.3" y="1125" width="37.4" height="20.5" fill="#8a2be2" stroke="#333" stroke-width="0.7"/>
<text transform="translate(1017,927.4) scale(0.935,1)" font-size="20.7" text-anchor="middle">50</text>
<text transform="translate(1017,947.8) scale(0.935,1)" font-size="20.7" text-anchor="middle">40</text>
<text transform="translate(1017,968.3) scale(0.935,1)" font-size="20.7" text-anchor="middle">30</text>
<text transform="translate(1017,988.8) scale(0.935,1)" font-size="20.7" text-anchor="middle">20</text>
<text transform="translate(1017,1009.2) scale(0.935,1)" font-size="20.7" text-anchor="middle">10</text>
<text transform="translate(1017,1029.7) scale(0.935,1)" font-size="20.7" text-anchor="middle">0</text>
<text transform="translate(1017,1050.2) scale(0.935,1)" font-size="20.7" text-anchor="middle">-10</text>
<text transform="translate(1017,1070.7) scale(0.935,1)" font-size="20.7" text-anchor="middle">-20</text>
<text transform="translate(1017,1091.1) scale(0.935,1)" font-size="20.7" text-anchor="middle">-30</text>
<text transform="translate(1017,1111.6) scale(0.935,1)" font-size="20.7" text-anchor="middle">-40</text>
<text transform="translate(1017,1132.1) scale(0.935,1)" font-size="20.7" text-anchor="middle">-50</text>
<text transform="translate(993.1,875.8) scale(0.945,1)" font-size="21" text-anchor="middle">W/m2</text>
<text transform="translate(1103.7,1123.1) scale(0.96,1)" font-size="20.5" text-anchor="middle">Max=81.22</text>
<text transform="translate(1103.9,1146.8) scale(0.96,1)" font-size="20.5" text-anchor="middle">Min=-100.33</text>
<path d="M96,756 H88 M216,756 H224 M96,738.7 H91.5 M216,738.7 H220.5 M96,721.3 H91.5 M216,721.3 H220.5 M96,704 H88 M216,704 H224 M96,686.7 H91.5 M216,686.7 H220.5 M96,669.3 H91.5 M216,669.3 H220.5 M96,652 H88 M216,652 H224 M96,634.7 H91.5 M216,634.7 H220.5 M96,617.3 H91.5 M216,617.3 H220.5 M96,600 H88 M216,600 H224 M96,582.7 H91.5 M216,582.7 H220.5 M96,565.3 H91.5 M216,565.3 H220.5 M96,548 H88 M216,548 H224 M96,530.7 H91.5 M216,530.7 H220.5 M96,513.3 H91.5 M216,513.3 H220.5 M96,496 H88 M216,496 H224 M96,478.7 H91.5 M216,478.7 H220.5 M96,461.3 H91.5 M216,461.3 H220.5 M96,444 H88 M216,444 H224 M96,444 V436.5 M96,756 V763.5 M113.1,444 V436.5 M113.1,756 V763.5 M130.3,444 V436.5 M130.3,756 V763.5 M147.4,444 V436.5 M147.4,756 V763.5 M164.6,444 V436.5 M164.6,756 V763.5 M181.7,444 V436.5 M181.7,756 V763.5 M198.9,444 V436.5 M198.9,756 V763.5 M216,444 V436.5 M216,756 V763.5 M96,444 V440 M96,756 V760 M100.3,444 V440 M100.3,756 V760 M104.6,444 V440 M104.6,756 V760 M108.9,444 V440 M108.9,756 V760 M113.1,444 V440 M113.1,756 V760 M117.4,444 V440 M117.4,756 V760 M121.7,444 V440 M121.7,756 V760 M126,444 V440 M126,756 V760 M130.3,444 V440 M130.3,756 V760 M134.6,444 V440 M134.6,756 V760 M138.9,444 V440 M138.9,756 V760 M143.1,444 V440 M143.1,756 V760 M147.4,444 V440 M147.4,756 V760 M151.7,444 V440 M151.7,756 V760 M156,444 V440 M156,756 V760 M160.3,444 V440 M160.3,756 V760 M164.6,444 V440 M164.6,756 V760 M168.9,444 V440 M168.9,756 V760 M173.1,444 V440 M173.1,756 V760 M177.4,444 V440 M177.4,756 V760 M181.7,444 V440 M181.7,756 V760 M186,444 V440 M186,756 V760 M190.3,444 V440 M190.3,756 V760 M194.6,444 V440 M194.6,756 V760 M198.9,444 V440 M198.9,756 V760 M203.1,444 V440 M203.1,756 V760 M207.4,444 V440 M207.4,756 V760 M211.7,444 V440 M211.7,756 V760" stroke="#4a4a4a" stroke-width="1.2" fill="none"/>
<rect x="96" y="444" width="120" height="312" fill="none" stroke="#505050" stroke-width="1.5"/>
<text transform="translate(81,449.1) scale(0.95,1)" font-size="14" text-anchor="end">90N</text>
<text transform="translate(81,501.1) scale(0.95,1)" font-size="14" text-anchor="end">60N</text>
<text transform="translate(81,553.1) scale(0.95,1)" font-size="14" text-anchor="end">30N</text>
<text transform="translate(81,605.1) scale(0.95,1)" font-size="14" text-anchor="end">0</text>
<text transform="translate(81,657.1) scale(0.95,1)" font-size="14" text-anchor="end">30S</text>
<text transform="translate(81,709.1) scale(0.95,1)" font-size="14" text-anchor="end">60S</text>
<text transform="translate(81,761.1) scale(0.95,1)" font-size="14" text-anchor="end">90S</text>
<rect x="206.4" y="772" width="19.2" height="13" fill="#fff"/>
<text transform="translate(216,783.5) scale(0.95,1)" font-size="14" text-anchor="middle">-80</text>
<rect x="189.3" y="772" width="19.2" height="13" fill="#fff"/>
<text transform="translate(198.9,783.5) scale(0.95,1)" font-size="14" text-anchor="middle">-40</text>
<rect x="178" y="772" width="7.4" height="13" fill="#fff"/>
<text transform="translate(181.7,783.5) scale(0.95,1)" font-size="14" text-anchor="middle">0</text>
<rect x="157.2" y="772" width="14.8" height="13" fill="#fff"/>
<text transform="translate(164.6,783.5) scale(0.95,1)" font-size="14" text-anchor="middle">40</text>
<rect x="140" y="772" width="14.8" height="13" fill="#fff"/>
<text transform="translate(147.4,783.5) scale(0.95,1)" font-size="14" text-anchor="middle">80</text>
<rect x="119.2" y="772" width="22.2" height="13" fill="#fff"/>
<text transform="translate(130.3,783.5) scale(0.95,1)" font-size="14" text-anchor="middle">120</text>
<rect x="102.1" y="772" width="22.2" height="13" fill="#fff"/>
<text transform="translate(113.1,783.5) scale(0.95,1)" font-size="14" text-anchor="middle">160</text>
<rect x="84.9" y="772" width="22.2" height="13" fill="#fff"/>
<text transform="translate(96,783.5) scale(0.95,1)" font-size="14" text-anchor="middle">200</text>
<text transform="translate(156,435) scale(1.0,1)" font-size="16.5" text-anchor="middle">Zonal mean</text>
<clipPath id="zc444"><rect x="96" y="444" width="120" height="312"/></clipPath>
<g clip-path="url(#zc444)" fill="none">
<path d="M103.5,444L103.5,451.7L106.7,464.2L111.9,474.6L123.3,489.2L131.7,501.7L148.3,518.3L165,537L171.3,549.6L185.8,565.2L198.3,574.6L206.7,585L211.9,597.5L212.5,603L210.8,610.8L209.8,627.5L211.9,644L208.8,656.7L200.4,667L187.9,683.8L183.8,694L173.3,702.5L158.8,710.8L146.2,716L143.1,723.3L143.5,735.8L144.2,746.2L145.6,756" stroke="#ff0000" stroke-width="1"/><path d="M104.3,444L104.3,451.7L107.3,464.2L112.3,474.6L122.8,489.2L131.2,501.7L147.8,518.3L164.5,537L170.8,549.6L185.8,565L199,572.5L206,578L207.7,581L208.8,587L212,594L215,599.6L215.4,603L215,608.8L211.9,619L208.8,631.7L208.3,644L205.6,656.7L198.3,668L185.8,681.7L175.4,694L165,702.5L152.5,709.8L144.2,716L142,722.3L145.2,733.8L144.2,744L148.3,756" stroke="#000" stroke-width="1.6" stroke-dasharray="8,2.5"/>
</g>
<path d="M96,1152 H88 M216,1152 H224 M96,1134.7 H91.5 M216,1134.7 H220.5 M96,1117.3 H91.5 M216,1117.3 H220.5 M96,1100 H88 M216,1100 H224 M96,1082.7 H91.5 M216,1082.7 H220.5 M96,1065.3 H91.5 M216,1065.3 H220.5 M96,1048 H88 M216,1048 H224 M96,1030.7 H91.5 M216,1030.7 H220.5 M96,1013.3 H91.5 M216,1013.3 H220.5 M96,996 H88 M216,996 H224 M96,978.7 H91.5 M216,978.7 H220.5 M96,961.3 H91.5 M216,961.3 H220.5 M96,944 H88 M216,944 H224 M96,926.7 H91.5 M216,926.7 H220.5 M96,909.3 H91.5 M216,909.3 H220.5 M96,892 H88 M216,892 H224 M96,874.7 H91.5 M216,874.7 H220.5 M96,857.3 H91.5 M216,857.3 H220.5 M96,840 H88 M216,840 H224 M96,840 V832.5 M96,1152 V1159.5 M116,840 V832.5 M116,1152 V1159.5 M136,840 V832.5 M136,1152 V1159.5 M156,840 V832.5 M156,1152 V1159.5 M176,840 V832.5 M176,1152 V1159.5 M196,840 V832.5 M196,1152 V1159.5 M216,840 V832.5 M216,1152 V1159.5 M96,840 V836 M96,1152 V1156 M100,840 V836 M100,1152 V1156 M104,840 V836 M104,1152 V1156 M108,840 V836 M108,1152 V1156 M112,840 V836 M112,1152 V1156 M116,840 V836 M116,1152 V1156 M120,840 V836 M120,1152 V1156 M124,840 V836 M124,1152 V1156 M128,840 V836 M128,1152 V1156 M132,840 V836 M132,1152 V1156 M136,840 V836 M136,1152 V1156 M140,840 V836 M140,1152 V1156 M144,840 V836 M144,1152 V1156 M148,840 V836 M148,1152 V1156 M152,840 V836 M152,1152 V1156 M156,840 V836 M156,1152 V1156 M160,840 V836 M160,1152 V1156 M164,840 V836 M164,1152 V1156 M168,840 V836 M168,1152 V1156 M172,840 V836 M172,1152 V1156 M176,840 V836 M176,1152 V1156 M180,840 V836 M180,1152 V1156 M184,840 V836 M184,1152 V1156 M188,840 V836 M188,1152 V1156 M192,840 V836 M192,1152 V1156 M196,840 V836 M196,1152 V1156 M200,840 V836 M200,1152 V1156 M204,840 V836 M204,1152 V1156 M208,840 V836 M208,1152 V1156 M212,840 V836 M212,1152 V1156" stroke="#4a4a4a" stroke-width="1.2" fill="none"/>
<rect x="96" y="840" width="120" height="312" fill="none" stroke="#505050" stroke-width="1.5"/>
<text transform="translate(81,845.1) scale(0.95,1)" font-size="14" text-anchor="end">90N</text>
<text transform="translate(81,897.1) scale(0.95,1)" font-size="14" text-anchor="end">60N</text>
<text transform="translate(81,949.1) scale(0.95,1)" font-size="14" text-anchor="end">30N</text>
<text transform="translate(81,1001.1) scale(0.95,1)" font-size="14" text-anchor="end">0</text>
<text transform="translate(81,1053.1) scale(0.95,1)" font-size="14" text-anchor="end">30S</text>
<text transform="translate(81,1105.1) scale(0.95,1)" font-size="14" text-anchor="end">60S</text>
<text transform="translate(81,1157.1) scale(0.95,1)" font-size="14" text-anchor="end">90S</text>
<rect x="206.4" y="1168" width="19.2" height="13" fill="#fff"/>
<text transform="translate(216,1179.5) scale(0.95,1)" font-size="14" text-anchor="middle">-20</text>
<rect x="186.4" y="1168" width="19.2" height="13" fill="#fff"/>
<text transform="translate(196,1179.5) scale(0.95,1)" font-size="14" text-anchor="middle">-15</text>
<rect x="166.4" y="1168" width="19.2" height="13" fill="#fff"/>
<text transform="translate(176,1179.5) scale(0.95,1)" font-size="14" text-anchor="middle">-10</text>
<rect x="150.1" y="1168" width="11.8" height="13" fill="#fff"/>
<text transform="translate(156,1179.5) scale(0.95,1)" font-size="14" text-anchor="middle">-5</text>
<rect x="132.3" y="1168" width="7.4" height="13" fill="#fff"/>
<text transform="translate(136,1179.5) scale(0.95,1)" font-size="14" text-anchor="middle">0</text>
<rect x="112.3" y="1168" width="7.4" height="13" fill="#fff"/>
<text transform="translate(116,1179.5) scale(0.95,1)" font-size="14" text-anchor="middle">5</text>
<rect x="88.6" y="1168" width="14.8" height="13" fill="#fff"/>
<text transform="translate(96,1179.5) scale(0.95,1)" font-size="14" text-anchor="middle">10</text>
<text transform="translate(156,831) scale(1.0,1)" font-size="16.5" text-anchor="middle">Zonal mean</text>
<clipPath id="zc840"><rect x="96" y="840" width="120" height="312"/></clipPath>
<g clip-path="url(#zc840)" fill="none">
<path d="M136,840V1152" stroke="#000" stroke-width="1.4" stroke-dasharray="4.5,2"/><path d="M126.5,840L122.3,846.9L129.6,855.2L129.6,862.5L135.8,869.8L144.2,872.9L148.3,881.2L148.8,891.7L144.2,902L146.2,912.5L147.3,919.8L142,926L142,932.3L149.8,940.6L145.2,947.9L135.8,956.2L129.6,962.5L112.9,968.8L98.3,974L108.8,979.2L125.4,984.3L122.3,988.5L112.9,994.6L107.7,1000.8L111.9,1006L119.2,1011.2L135.8,1017.5L148.3,1023.8L158.8,1029L164,1038.3L159.8,1046.7L153.5,1054L146.2,1060.2L141.7,1070.6L144.2,1075.8L156.7,1082L175.4,1087.3L198.3,1092.5L209.8,1097.7L202.5,1100.8L201.5,1106L194.2,1108L165,1111.2L150.4,1114.4L144.2,1121.7L135.8,1124.8L127.5,1128.3L112.9,1130L123.3,1133L127,1137.3L119.2,1142L104.6,1145.6L107.7,1148.8L100.4,1152" stroke="#ff0000" stroke-width="1.1"/>
</g>
</svg></body></html>
